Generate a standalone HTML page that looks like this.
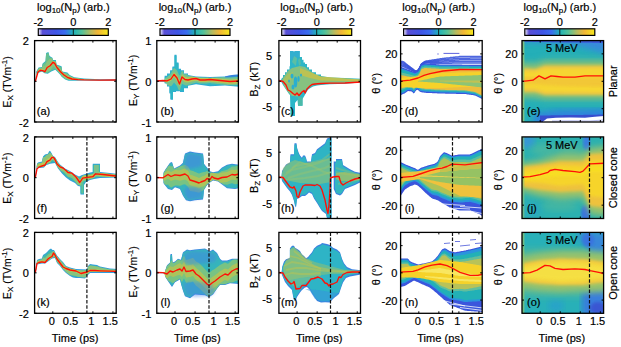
<!DOCTYPE html><html><head><meta charset="utf-8"><style>html,body{margin:0;padding:0;background:#fff;width:621px;height:347px;overflow:hidden}svg{display:block}text{font-family:"Liberation Sans",sans-serif;fill:#000;stroke:#000;stroke-width:0.2px}</style></head><body>
<svg width="621" height="347" viewBox="0 0 621 347">
<defs>
<linearGradient id="cmap" x1="0" x2="1" y1="0" y2="0"><stop offset="0" stop-color="#f4f2fb"/><stop offset="0.06" stop-color="#5a4fd6"/><stop offset="0.25" stop-color="#3f55e6"/><stop offset="0.38" stop-color="#3a6cf0"/><stop offset="0.5" stop-color="#1fb3b8"/><stop offset="0.62" stop-color="#52c29a"/><stop offset="0.75" stop-color="#b8bb5e"/><stop offset="0.85" stop-color="#f2b637"/><stop offset="1" stop-color="#f6e91c"/></linearGradient>
<clipPath id="cp00"><rect x="34.60" y="40.60" width="81.60" height="81.40"/></clipPath>
<clipPath id="cp01"><rect x="34.60" y="136.90" width="81.60" height="81.60"/></clipPath>
<clipPath id="cp02"><rect x="34.60" y="232.40" width="81.60" height="80.90"/></clipPath>
<clipPath id="cp10"><rect x="156.80" y="40.60" width="81.60" height="81.40"/></clipPath>
<clipPath id="cp11"><rect x="156.80" y="136.90" width="81.60" height="81.60"/></clipPath>
<clipPath id="cp12"><rect x="156.80" y="232.40" width="81.60" height="80.90"/></clipPath>
<clipPath id="cp20"><rect x="278.90" y="40.60" width="81.60" height="81.40"/></clipPath>
<clipPath id="cp21"><rect x="278.90" y="136.90" width="81.60" height="81.60"/></clipPath>
<clipPath id="cp22"><rect x="278.90" y="232.40" width="81.60" height="80.90"/></clipPath>
<clipPath id="cp30"><rect x="400.60" y="40.60" width="81.60" height="81.40"/></clipPath>
<clipPath id="cp31"><rect x="400.60" y="136.90" width="81.60" height="81.60"/></clipPath>
<clipPath id="cp32"><rect x="400.60" y="232.40" width="81.60" height="80.90"/></clipPath>
<clipPath id="cp40"><rect x="522.00" y="40.60" width="81.60" height="81.40"/></clipPath>
<clipPath id="cp41"><rect x="522.00" y="136.90" width="81.60" height="81.60"/></clipPath>
<clipPath id="cp42"><rect x="522.00" y="232.40" width="81.60" height="80.90"/></clipPath>
<filter id="bl" x="-5%" y="-5%" width="110%" height="110%"><feGaussianBlur stdDeviation="0.5"/></filter><filter id="blt" x="-5%" y="-5%" width="110%" height="110%"><feGaussianBlur stdDeviation="0.9"/></filter><filter id="bl2" x="-10%" y="-10%" width="120%" height="120%"><feGaussianBlur stdDeviation="1.5"/></filter><filter id="bl3" x="-10%" y="-10%" width="120%" height="120%"><feGaussianBlur stdDeviation="3"/></filter>
</defs>
<rect x="38.30" y="28.8" width="70.00" height="6.6" fill="url(#cmap)" stroke="#000" stroke-width="1.2"/>
<line x1="73.30" y1="28.8" x2="73.30" y2="35.4" stroke="#111" stroke-width="0.9"/>
<text x="38.30" y="25.60" font-size="11" text-anchor="middle" >-2</text>
<text x="73.30" y="25.60" font-size="11" text-anchor="middle" >0</text>
<text x="108.30" y="25.60" font-size="11" text-anchor="middle" >2</text>
<text x="73.30" y="10.9" font-size="11" text-anchor="middle">log<tspan font-size="8" dy="2">10</tspan><tspan dy="-2">(N</tspan><tspan font-size="8" dy="2">p</tspan><tspan dy="-2">) (arb.)</tspan></text>
<rect x="160.00" y="28.8" width="70.00" height="6.6" fill="url(#cmap)" stroke="#000" stroke-width="1.2"/>
<line x1="195.00" y1="28.8" x2="195.00" y2="35.4" stroke="#111" stroke-width="0.9"/>
<text x="160.00" y="25.60" font-size="11" text-anchor="middle" >-2</text>
<text x="195.00" y="25.60" font-size="11" text-anchor="middle" >0</text>
<text x="230.00" y="25.60" font-size="11" text-anchor="middle" >2</text>
<text x="195.00" y="10.9" font-size="11" text-anchor="middle">log<tspan font-size="8" dy="2">10</tspan><tspan dy="-2">(N</tspan><tspan font-size="8" dy="2">p</tspan><tspan dy="-2">) (arb.)</tspan></text>
<rect x="281.70" y="28.8" width="70.00" height="6.6" fill="url(#cmap)" stroke="#000" stroke-width="1.2"/>
<line x1="316.70" y1="28.8" x2="316.70" y2="35.4" stroke="#111" stroke-width="0.9"/>
<text x="281.70" y="25.60" font-size="11" text-anchor="middle" >-2</text>
<text x="316.70" y="25.60" font-size="11" text-anchor="middle" >0</text>
<text x="351.70" y="25.60" font-size="11" text-anchor="middle" >2</text>
<text x="316.70" y="10.9" font-size="11" text-anchor="middle">log<tspan font-size="8" dy="2">10</tspan><tspan dy="-2">(N</tspan><tspan font-size="8" dy="2">p</tspan><tspan dy="-2">) (arb.)</tspan></text>
<rect x="403.60" y="28.8" width="70.00" height="6.6" fill="url(#cmap)" stroke="#000" stroke-width="1.2"/>
<line x1="438.60" y1="28.8" x2="438.60" y2="35.4" stroke="#111" stroke-width="0.9"/>
<text x="403.60" y="25.60" font-size="11" text-anchor="middle" >-2</text>
<text x="438.60" y="25.60" font-size="11" text-anchor="middle" >0</text>
<text x="473.60" y="25.60" font-size="11" text-anchor="middle" >2</text>
<text x="438.60" y="10.9" font-size="11" text-anchor="middle">log<tspan font-size="8" dy="2">10</tspan><tspan dy="-2">(N</tspan><tspan font-size="8" dy="2">p</tspan><tspan dy="-2">) (arb.)</tspan></text>
<rect x="524.80" y="28.8" width="70.00" height="6.6" fill="url(#cmap)" stroke="#000" stroke-width="1.2"/>
<line x1="559.80" y1="28.8" x2="559.80" y2="35.4" stroke="#111" stroke-width="0.9"/>
<text x="524.80" y="25.60" font-size="11" text-anchor="middle" >-2</text>
<text x="559.80" y="25.60" font-size="11" text-anchor="middle" >0</text>
<text x="594.80" y="25.60" font-size="11" text-anchor="middle" >2</text>
<text x="559.80" y="10.9" font-size="11" text-anchor="middle">log<tspan font-size="8" dy="2">10</tspan><tspan dy="-2">(N</tspan><tspan font-size="8" dy="2">p</tspan><tspan dy="-2">) (arb.)</tspan></text>
<g clip-path="url(#cp00)">
<g filter="url(#bl)"><polygon points="35.5,80.5 36.3,71.5 38.6,67.5 42.0,66.9 42.6,63.4 45.5,61.0 46.1,53.0 48.4,51.9 49.5,56.0 52.4,57.7 53.0,60.0 55.9,60.0 56.5,64.6 61.6,66.3 62.2,71.5 67.4,72.6 69.7,75.0 74.3,77.3 84.0,78.4 100.0,79.2 118.0,79.2 118.0,80.8 100.0,80.8 84.0,80.6 74.3,80.7 68.6,80.7 65.1,79.6 61.6,76.7 60.0,74.4 57.6,72.0 55.3,69.8 51.3,71.5 47.8,73.8 44.4,73.2 42.0,71.5 36.3,73.8 35.5,81.5" fill="#2fb4c8"/><polygon points="35.5,81.4 36.3,72.4 38.6,68.4 42.0,67.8 42.6,64.3 45.5,61.9 46.1,53.9 48.4,52.8 49.5,56.9 52.4,58.6 53.0,60.9 55.9,60.9 56.5,65.5 61.6,67.2 62.2,72.4 67.4,73.5 69.7,75.9 74.3,78.2 84.0,79.3 100.0,80.1 118.0,80.1 118.0,79.9 100.0,79.9 84.0,79.7 74.3,79.8 68.6,79.8 65.1,78.7 61.6,75.8 60.0,73.5 57.6,71.1 55.3,68.9 51.3,70.6 47.8,72.9 44.4,72.3 42.0,70.6 36.3,72.9 35.5,80.6" fill="#66c090"/><polygon points="36.0,75.8 37.0,71.3 38.0,69.4 39.0,68.3 40.0,68.2 41.0,68.0 42.0,67.8 43.0,65.4 44.0,65.7 45.0,65.7 46.0,63.7 47.0,61.6 48.0,60.5 49.0,59.6 50.0,58.8 51.0,58.3 52.0,58.4 53.0,60.9 54.0,60.9 55.0,60.9 56.0,62.7 57.0,65.7 58.0,66.0 59.0,67.0 60.0,68.2 61.0,69.3 62.0,70.7 63.0,72.6 64.0,72.8 65.0,73.0 66.0,73.6 67.0,74.3 68.0,74.8 69.0,75.2 70.0,76.1 71.0,76.6 72.0,77.1 73.0,77.6 74.0,78.1 75.0,78.3 76.0,78.4 77.0,78.5 78.0,78.6 79.0,78.7 80.0,78.8 81.0,79.0 82.0,79.1 83.0,79.2 84.0,79.3 85.0,79.4 86.0,79.4 87.0,79.5 88.0,79.5 89.0,79.6 90.0,79.6 91.0,79.7 92.0,79.7 93.0,79.8 94.0,79.8 95.0,79.9 96.0,79.9 97.0,80.0 98.0,80.0 99.0,80.1 100.0,80.1 101.0,80.1 102.0,80.1 103.0,80.1 104.0,80.1 105.0,80.1 106.0,80.1 107.0,80.1 108.0,80.1 109.0,80.1 110.0,80.1 111.0,80.1 112.0,80.1 113.0,80.1 114.0,80.1 115.0,80.1 116.0,80.1 117.0,80.1 118.0,80.1 118.0,79.9 117.0,79.9 116.0,79.9 115.0,79.9 114.0,79.9 113.0,79.9 112.0,79.9 111.0,79.9 110.0,79.9 109.0,79.9 108.0,79.9 107.0,79.9 106.0,79.9 105.0,79.9 104.0,79.9 103.0,79.9 102.0,79.9 101.0,79.9 100.0,79.9 99.0,79.9 98.0,79.9 97.0,79.9 96.0,79.8 95.0,79.8 94.0,79.8 93.0,79.8 92.0,79.8 91.0,79.8 90.0,79.8 89.0,79.8 88.0,79.7 87.0,79.7 86.0,79.7 85.0,79.7 84.0,79.7 83.0,79.7 82.0,79.7 81.0,79.7 80.0,79.7 79.0,79.8 78.0,79.8 77.0,79.8 76.0,79.8 75.0,79.8 74.0,79.8 73.0,79.8 72.0,79.8 71.0,79.8 70.0,79.8 69.0,79.8 68.0,79.6 67.0,79.3 66.0,79.0 65.0,78.6 64.0,77.8 63.0,77.0 62.0,76.1 61.0,74.9 60.0,73.5 59.0,72.5 58.0,71.5 57.0,70.5 56.0,69.0 55.0,67.5 54.0,66.8 53.0,66.4 52.0,67.9 51.0,69.4 50.0,70.8 49.0,71.2 48.0,71.6 47.0,72.2 46.0,72.6 45.0,72.4 44.0,72.0 43.0,71.3 42.0,70.6 41.0,71.0 40.0,71.4 39.0,71.8 38.0,72.2 37.0,72.6 36.0,75.8" fill="#8cc47a" opacity="0.95"/><polygon points="36.0,77.5 37.0,74.0 38.0,70.5 39.0,69.8 40.0,69.0 41.0,68.9 42.0,69.1 43.0,69.3 44.0,69.8 45.0,70.1 46.0,68.3 47.0,66.4 48.0,65.6 49.0,65.0 50.0,64.3 51.0,63.2 52.0,62.1 53.0,60.9 54.0,61.6 55.0,62.6 56.0,64.3 57.0,66.1 58.0,67.3 59.0,68.5 60.0,69.7 61.0,70.8 62.0,71.8 63.0,72.7 64.0,73.7 65.0,74.4 66.0,75.0 67.0,75.7 68.0,76.2 69.0,76.6 70.0,77.0 71.0,77.3 72.0,77.7 73.0,77.8 74.0,78.1 75.0,78.3 76.0,78.4 77.0,78.5 78.0,78.6 79.0,78.7 80.0,78.8 81.0,79.0 82.0,79.1 83.0,79.2 84.0,79.3 85.0,79.4 86.0,79.4 87.0,79.5 88.0,79.5 89.0,79.6 90.0,79.6 91.0,79.7 92.0,79.7 93.0,79.8 94.0,79.8 95.0,79.9 96.0,79.9 97.0,80.0 98.0,80.0 99.0,80.1 100.0,80.1 101.0,80.1 102.0,80.1 103.0,80.1 104.0,80.1 105.0,80.1 106.0,80.1 107.0,80.1 108.0,80.1 109.0,80.1 110.0,80.1 111.0,80.1 112.0,80.1 113.0,80.1 114.0,80.1 115.0,80.1 116.0,80.1 117.0,80.1 118.0,80.1 118.0,79.9 117.0,79.9 116.0,79.9 115.0,79.9 114.0,79.9 113.0,79.9 112.0,79.9 111.0,79.9 110.0,79.9 109.0,79.9 108.0,79.9 107.0,79.9 106.0,79.9 105.0,79.9 104.0,79.9 103.0,79.9 102.0,79.9 101.0,79.9 100.0,79.9 99.0,79.9 98.0,79.9 97.0,79.9 96.0,79.8 95.0,79.8 94.0,79.8 93.0,79.8 92.0,79.8 91.0,79.8 90.0,79.8 89.0,79.8 88.0,79.7 87.0,79.7 86.0,79.7 85.0,79.7 84.0,79.7 83.0,79.7 82.0,79.7 81.0,79.7 80.0,79.7 79.0,79.8 78.0,79.8 77.0,79.8 76.0,79.8 75.0,79.8 74.0,79.8 73.0,79.8 72.0,79.8 71.0,79.8 70.0,79.5 69.0,79.1 68.0,78.7 67.0,78.3 66.0,77.6 65.0,76.9 64.0,76.3 63.0,75.3 62.0,74.4 61.0,73.5 60.0,72.4 59.0,71.2 58.0,70.0 57.0,68.8 56.0,67.0 55.0,65.3 54.0,64.3 53.0,63.7 52.0,64.8 51.0,66.0 50.0,67.1 49.0,67.8 48.0,68.4 47.0,69.3 46.0,71.1 45.0,72.4 44.0,72.0 43.0,71.3 42.0,70.6 41.0,71.0 40.0,71.4 39.0,71.8 38.0,72.2 37.0,72.6 36.0,75.8" fill="#c4c44c" opacity="0.9"/></g><polyline points="35.3,81.5 38.0,72.0 40.3,70.3 42.6,70.6 44.9,71.7 47.2,67.5 50.1,65.7 53.0,62.3 54.7,63.4 57.0,67.5 60.5,71.7 64.0,75.0 67.4,77.3 72.0,79.0 77.8,79.6 84.0,79.9 100.0,80.1 118.0,80.0" fill="none" stroke="#ff1006" stroke-width="1.35" stroke-linejoin="round"/>
</g>
<rect x="34.60" y="40.60" width="81.60" height="81.40" fill="none" stroke="#000" stroke-width="1.3"/>
<line x1="52.80" y1="40.60" x2="52.80" y2="42.60" stroke="#000" stroke-width="1"/>
<line x1="52.80" y1="122.00" x2="52.80" y2="120.00" stroke="#000" stroke-width="1"/>
<line x1="72.85" y1="40.60" x2="72.85" y2="42.60" stroke="#000" stroke-width="1"/>
<line x1="72.85" y1="122.00" x2="72.85" y2="120.00" stroke="#000" stroke-width="1"/>
<line x1="92.90" y1="40.60" x2="92.90" y2="42.60" stroke="#000" stroke-width="1"/>
<line x1="92.90" y1="122.00" x2="92.90" y2="120.00" stroke="#000" stroke-width="1"/>
<line x1="112.95" y1="40.60" x2="112.95" y2="42.60" stroke="#000" stroke-width="1"/>
<line x1="112.95" y1="122.00" x2="112.95" y2="120.00" stroke="#000" stroke-width="1"/>
<line x1="34.60" y1="40.60" x2="36.60" y2="40.60" stroke="#000" stroke-width="1"/>
<line x1="116.20" y1="40.60" x2="114.20" y2="40.60" stroke="#000" stroke-width="1"/>
<text x="28.80" y="45.20" font-size="11" text-anchor="end" >2</text>
<line x1="34.60" y1="81.30" x2="36.60" y2="81.30" stroke="#000" stroke-width="1"/>
<line x1="116.20" y1="81.30" x2="114.20" y2="81.30" stroke="#000" stroke-width="1"/>
<line x1="34.60" y1="122.00" x2="36.60" y2="122.00" stroke="#000" stroke-width="1"/>
<line x1="116.20" y1="122.00" x2="114.20" y2="122.00" stroke="#000" stroke-width="1"/>
<text x="28.80" y="126.60" font-size="11" text-anchor="end" >-2</text>
<text x="36.80" y="115.10" font-size="11" text-anchor="start" >(a)</text>
<text x="0" y="0" font-size="10.4" text-anchor="middle" style="stroke-width:0.15px" transform="translate(11.00,81.80) rotate(-90)">E<tspan font-size="8" dy="2">X</tspan><tspan dy="-2"> (TVm</tspan><tspan font-size="8" dy="-4">-1</tspan><tspan dy="4">)</tspan></text>
<g clip-path="url(#cp01)">
<g filter="url(#bl)"><polygon points="35.6,176.0 37.0,163.8 38.0,162.4 42.0,161.6 43.0,156.6 45.0,154.4 48.0,153.7 49.0,151.5 50.0,150.8 51.5,153.0 53.0,155.9 55.0,157.0 58.0,162.0 60.0,164.5 65.0,168.5 70.0,171.0 75.0,174.5 79.0,176.5 82.0,175.0 87.0,173.5 90.0,172.5 92.8,172.0 92.8,163.7 100.0,163.7 100.0,172.0 105.0,172.5 110.0,173.0 118.0,174.0 118.0,177.5 110.0,177.8 100.0,178.0 94.0,179.0 90.0,180.0 86.0,182.0 84.0,185.0 84.0,194.5 80.5,194.5 80.5,186.5 78.0,186.0 75.0,183.0 70.0,180.5 66.0,177.5 62.0,173.5 60.0,171.0 58.0,168.5 55.0,163.0 50.0,163.8 46.0,165.3 44.0,167.4 40.0,168.1 37.0,167.4 35.6,178.0" fill="#2f9ee0"/><polygon points="35.6,176.9 37.0,164.7 38.0,163.3 42.0,162.5 43.0,157.5 45.0,155.3 48.0,154.6 49.0,152.4 50.0,151.7 51.5,153.9 53.0,156.8 55.0,157.9 58.0,162.9 60.0,165.4 65.0,169.4 70.0,171.9 75.0,175.4 79.0,177.4 82.0,175.9 87.0,174.4 90.0,173.4 92.8,172.9 92.8,164.6 100.0,164.6 100.0,172.9 105.0,173.4 110.0,173.9 118.0,174.9 118.0,176.6 110.0,176.9 100.0,177.1 94.0,178.1 90.0,179.1 86.0,181.1 84.0,184.1 84.0,193.6 80.5,193.6 80.5,185.6 78.0,185.1 75.0,182.1 70.0,179.6 66.0,176.6 62.0,172.6 60.0,170.1 58.0,167.6 55.0,162.1 50.0,162.9 46.0,164.4 44.0,166.5 40.0,167.2 37.0,166.5 35.6,177.1" fill="#37b8b4"/><polygon points="36.0,173.4 37.0,164.7 38.0,163.3 39.0,163.1 40.0,162.9 41.0,162.7 42.0,162.5 43.0,157.5 44.0,157.0 45.0,156.9 46.0,155.5 47.0,154.8 48.0,154.6 49.0,153.4 50.0,153.0 51.0,153.2 52.0,154.9 53.0,156.8 54.0,157.3 55.0,157.9 56.0,159.6 57.0,161.5 58.0,162.9 59.0,164.2 60.0,165.4 61.0,166.2 62.0,167.0 63.0,167.8 64.0,168.6 65.0,169.4 66.0,169.9 67.0,170.4 68.0,170.9 69.0,171.4 70.0,171.9 71.0,172.6 72.0,173.3 73.0,174.0 74.0,174.7 75.0,175.4 76.0,175.9 77.0,176.4 78.0,177.4 79.0,178.8 80.0,179.7 81.0,178.2 82.0,176.6 83.0,175.6 84.0,175.3 85.0,175.2 86.0,175.0 87.0,174.8 88.0,174.7 89.0,174.5 90.0,174.4 91.0,174.3 92.0,174.1 93.0,173.8 94.0,172.8 95.0,171.7 96.0,171.1 97.0,171.2 98.0,171.3 99.0,171.4 100.0,172.9 101.0,173.0 102.0,173.1 103.0,173.2 104.0,173.3 105.0,173.4 106.0,173.5 107.0,173.6 108.0,173.7 109.0,173.8 110.0,173.9 111.0,174.0 112.0,174.2 113.0,174.3 114.0,174.4 115.0,174.5 116.0,174.7 117.0,174.8 118.0,174.9 118.0,176.6 117.0,176.6 116.0,176.7 115.0,176.7 114.0,176.8 113.0,176.8 112.0,176.8 111.0,176.9 110.0,176.9 109.0,176.9 108.0,176.9 107.0,177.0 106.0,177.0 105.0,177.0 104.0,177.0 103.0,177.0 102.0,176.9 101.0,176.8 100.0,176.8 99.0,176.7 98.0,176.6 97.0,176.6 96.0,176.5 95.0,177.1 94.0,178.1 93.0,178.3 92.0,178.6 91.0,178.8 90.0,179.1 89.0,179.6 88.0,180.1 87.0,180.3 86.0,180.5 85.0,180.7 84.0,180.9 83.0,181.8 82.0,183.7 81.0,185.9 80.0,185.5 79.0,185.3 78.0,185.1 77.0,184.0 76.0,182.4 75.0,181.3 74.0,180.2 73.0,179.1 72.0,178.0 71.0,177.7 70.0,177.3 69.0,177.1 68.0,176.8 67.0,175.7 66.0,174.5 65.0,173.6 64.0,172.6 63.0,171.7 62.0,171.2 61.0,170.7 60.0,170.1 59.0,168.8 58.0,167.6 57.0,165.8 56.0,163.9 55.0,162.1 54.0,161.0 53.0,160.3 52.0,160.3 51.0,161.7 50.0,162.9 49.0,163.3 48.0,163.7 47.0,164.0 46.0,164.4 45.0,165.5 44.0,166.5 43.0,166.7 42.0,166.8 41.0,167.0 40.0,167.2 39.0,167.0 38.0,166.7 37.0,166.5 36.0,174.1" fill="#8cc47a" opacity="0.95"/><polygon points="36.0,173.4 37.0,165.8 38.0,165.0 39.0,164.3 40.0,163.7 41.0,163.4 42.0,163.1 43.0,162.8 44.0,162.5 45.0,162.2 46.0,160.5 47.0,158.9 48.0,158.4 49.0,157.8 50.0,157.3 51.0,155.9 52.0,154.9 53.0,156.8 54.0,157.3 55.0,157.9 56.0,159.6 57.0,161.4 58.0,162.9 59.0,164.2 60.0,165.4 61.0,166.2 62.0,167.0 63.0,167.8 64.0,168.6 65.0,169.4 66.0,169.9 67.0,170.4 68.0,170.9 69.0,171.4 70.0,171.9 71.0,172.6 72.0,173.3 73.0,174.0 74.0,174.7 75.0,175.4 76.0,175.9 77.0,176.4 78.0,177.7 79.0,179.1 80.0,180.0 81.0,178.5 82.0,177.0 83.0,175.9 84.0,175.8 85.0,175.6 86.0,175.5 87.0,175.3 88.0,175.2 89.0,175.1 90.0,175.0 91.0,174.9 92.0,174.8 93.0,174.5 94.0,173.5 95.0,172.5 96.0,171.9 97.0,172.1 98.0,172.2 99.0,172.3 100.0,172.9 101.0,173.0 102.0,173.1 103.0,173.2 104.0,173.3 105.0,173.4 106.0,173.5 107.0,173.6 108.0,173.7 109.0,173.8 110.0,173.9 111.0,174.0 112.0,174.2 113.0,174.3 114.0,174.4 115.0,174.5 116.0,174.7 117.0,174.8 118.0,174.9 118.0,176.6 117.0,176.6 116.0,176.7 115.0,176.7 114.0,176.8 113.0,176.8 112.0,176.8 111.0,176.9 110.0,176.8 109.0,176.7 108.0,176.6 107.0,176.5 106.0,176.4 105.0,176.2 104.0,176.1 103.0,176.0 102.0,175.9 101.0,175.8 100.0,175.7 99.0,175.6 98.0,175.5 97.0,175.4 96.0,175.3 95.0,175.9 94.0,177.0 93.0,178.0 92.0,178.3 91.0,178.4 90.0,178.5 89.0,178.7 88.0,178.8 87.0,178.9 86.0,179.1 85.0,179.2 84.0,179.4 83.0,179.6 82.0,180.7 81.0,182.2 80.0,183.7 79.0,182.8 78.0,181.4 77.0,179.9 76.0,178.5 75.0,177.6 74.0,176.6 73.0,175.6 72.0,174.7 71.0,174.5 70.0,174.3 69.0,174.2 68.0,174.0 67.0,173.0 66.0,172.0 65.0,171.2 64.0,170.3 63.0,169.5 62.0,169.1 61.0,168.7 60.0,168.3 59.0,167.4 58.0,166.4 57.0,165.5 56.0,163.2 55.0,161.0 54.0,159.5 53.0,158.8 52.0,158.8 51.0,160.2 50.0,161.5 49.0,162.1 48.0,162.6 47.0,163.2 46.0,164.4 45.0,165.5 44.0,166.5 43.0,166.7 42.0,166.8 41.0,167.0 40.0,167.2 39.0,167.0 38.0,166.7 37.0,166.5 36.0,174.1" fill="#c4c44c" opacity="0.9"/><rect x="94" y="165" width="4.8" height="9" fill="#7cc28a"/><rect x="81.4" y="182" width="1.8" height="11.5" fill="#5fc09a"/></g><polyline points="35.3,177.5 37.0,168.8 39.5,166.8 42.0,166.0 45.0,165.0 47.0,161.7 50.0,160.0 52.0,157.3 53.5,157.3 55.0,159.5 57.0,164.0 60.0,166.8 63.0,168.0 66.0,170.5 68.0,172.5 72.0,173.2 76.0,177.0 79.8,182.5 82.7,178.1 87.0,177.4 92.8,176.7 95.6,173.8 102.9,174.5 115.8,176.0 118.0,176.0" fill="none" stroke="#ff1006" stroke-width="1.35" stroke-linejoin="round"/><line x1="86.9" y1="136.9" x2="86.9" y2="218.5" stroke="#111" stroke-width="1.2" stroke-dasharray="3.5,1.7"/>
</g>
<rect x="34.60" y="136.90" width="81.60" height="81.60" fill="none" stroke="#000" stroke-width="1.3"/>
<line x1="52.80" y1="136.90" x2="52.80" y2="138.90" stroke="#000" stroke-width="1"/>
<line x1="52.80" y1="218.50" x2="52.80" y2="216.50" stroke="#000" stroke-width="1"/>
<line x1="72.85" y1="136.90" x2="72.85" y2="138.90" stroke="#000" stroke-width="1"/>
<line x1="72.85" y1="218.50" x2="72.85" y2="216.50" stroke="#000" stroke-width="1"/>
<line x1="92.90" y1="136.90" x2="92.90" y2="138.90" stroke="#000" stroke-width="1"/>
<line x1="92.90" y1="218.50" x2="92.90" y2="216.50" stroke="#000" stroke-width="1"/>
<line x1="112.95" y1="136.90" x2="112.95" y2="138.90" stroke="#000" stroke-width="1"/>
<line x1="112.95" y1="218.50" x2="112.95" y2="216.50" stroke="#000" stroke-width="1"/>
<line x1="34.60" y1="136.90" x2="36.60" y2="136.90" stroke="#000" stroke-width="1"/>
<line x1="116.20" y1="136.90" x2="114.20" y2="136.90" stroke="#000" stroke-width="1"/>
<text x="28.80" y="141.50" font-size="11" text-anchor="end" >2</text>
<line x1="34.60" y1="177.70" x2="36.60" y2="177.70" stroke="#000" stroke-width="1"/>
<line x1="116.20" y1="177.70" x2="114.20" y2="177.70" stroke="#000" stroke-width="1"/>
<text x="28.80" y="182.30" font-size="11" text-anchor="end" >0</text>
<line x1="34.60" y1="218.50" x2="36.60" y2="218.50" stroke="#000" stroke-width="1"/>
<line x1="116.20" y1="218.50" x2="114.20" y2="218.50" stroke="#000" stroke-width="1"/>
<text x="28.80" y="223.10" font-size="11" text-anchor="end" >-2</text>
<text x="36.80" y="211.60" font-size="11" text-anchor="start" >(f)</text>
<text x="0" y="0" font-size="10.4" text-anchor="middle" style="stroke-width:0.15px" transform="translate(11.00,178.20) rotate(-90)">E<tspan font-size="8" dy="2">X</tspan><tspan dy="-2"> (TVm</tspan><tspan font-size="8" dy="-4">-1</tspan><tspan dy="4">)</tspan></text>
<g clip-path="url(#cp02)">
<g filter="url(#bl)"><polygon points="35.6,272.0 37.0,260.0 39.0,259.0 42.0,258.5 43.0,255.0 46.0,253.0 48.0,251.0 49.0,249.8 51.0,248.5 52.5,250.0 54.0,250.0 55.0,252.0 57.0,255.5 60.0,259.0 63.0,262.0 66.0,266.0 70.0,267.5 76.0,269.0 87.0,269.5 88.0,266.0 90.0,264.0 93.0,264.5 97.0,265.0 100.0,266.5 105.0,267.5 110.0,268.5 118.0,269.0 118.0,273.0 100.0,273.0 90.0,273.0 87.0,276.0 85.0,278.5 80.0,278.0 76.0,278.0 73.0,277.5 70.0,276.0 66.0,273.0 63.0,270.0 60.0,266.0 57.0,263.0 55.0,258.0 52.0,258.5 48.0,261.5 45.0,263.5 42.0,263.5 37.0,264.5 35.6,273.5" fill="#2f9ee0"/><polygon points="35.6,272.9 37.0,260.9 39.0,259.9 42.0,259.4 43.0,255.9 46.0,253.9 48.0,251.9 49.0,250.7 51.0,249.4 52.5,250.9 54.0,250.9 55.0,252.9 57.0,256.4 60.0,259.9 63.0,262.9 66.0,266.9 70.0,268.4 76.0,269.9 87.0,270.4 88.0,266.9 90.0,264.9 93.0,265.4 97.0,265.9 100.0,267.4 105.0,268.4 110.0,269.4 118.0,269.9 118.0,272.1 100.0,272.1 90.0,272.1 87.0,275.1 85.0,277.6 80.0,277.1 76.0,277.1 73.0,276.6 70.0,275.1 66.0,272.1 63.0,269.1 60.0,265.1 57.0,262.1 55.0,257.1 52.0,257.6 48.0,260.6 45.0,262.6 42.0,262.6 37.0,263.6 35.6,272.6" fill="#3cb8b0"/><polygon points="36.0,269.5 37.0,260.9 38.0,260.4 39.0,259.9 40.0,259.7 41.0,259.6 42.0,259.4 43.0,257.4 44.0,257.6 45.0,257.9 46.0,256.8 47.0,255.7 48.0,254.6 49.0,253.9 50.0,253.2 51.0,252.7 52.0,252.3 53.0,250.9 54.0,250.9 55.0,252.9 56.0,254.7 57.0,256.4 58.0,257.6 59.0,258.7 60.0,259.9 61.0,260.9 62.0,262.1 63.0,263.5 64.0,264.2 65.0,265.6 66.0,266.9 67.0,267.3 68.0,267.6 69.0,268.0 70.0,268.4 71.0,268.6 72.0,268.9 73.0,269.1 74.0,269.4 75.0,269.6 76.0,269.9 77.0,269.9 78.0,270.0 79.0,270.0 80.0,270.1 81.0,270.1 82.0,270.2 83.0,270.2 84.0,270.3 85.0,270.3 86.0,270.4 87.0,270.4 88.0,266.9 89.0,266.1 90.0,265.5 91.0,265.6 92.0,265.7 93.0,265.8 94.0,265.9 95.0,266.0 96.0,266.2 97.0,266.4 98.0,266.5 99.0,266.9 100.0,267.4 101.0,267.6 102.0,267.8 103.0,268.0 104.0,268.2 105.0,268.4 106.0,268.6 107.0,268.8 108.0,269.0 109.0,269.2 110.0,269.4 111.0,269.5 112.0,269.5 113.0,269.6 114.0,269.6 115.0,269.7 116.0,269.8 117.0,269.8 118.0,269.9 118.0,272.1 117.0,272.1 116.0,272.1 115.0,272.1 114.0,272.1 113.0,272.1 112.0,272.1 111.0,272.1 110.0,272.1 109.0,272.1 108.0,272.1 107.0,272.1 106.0,272.1 105.0,272.1 104.0,272.1 103.0,272.1 102.0,272.1 101.0,272.1 100.0,272.1 99.0,272.1 98.0,272.1 97.0,272.1 96.0,272.1 95.0,272.1 94.0,272.1 93.0,272.1 92.0,272.1 91.0,272.1 90.0,272.1 89.0,273.1 88.0,274.1 87.0,275.1 86.0,276.4 85.0,277.5 84.0,277.5 83.0,277.4 82.0,277.3 81.0,277.2 80.0,277.1 79.0,277.1 78.0,277.0 77.0,276.5 76.0,276.0 75.0,275.8 74.0,275.7 73.0,275.5 72.0,275.3 71.0,275.2 70.0,275.0 69.0,274.4 68.0,273.6 67.0,272.9 66.0,272.1 65.0,271.1 64.0,270.1 63.0,269.1 62.0,267.8 61.0,266.4 60.0,265.1 59.0,264.1 58.0,263.1 57.0,262.1 56.0,259.6 55.0,257.1 54.0,257.3 53.0,257.4 52.0,257.6 51.0,258.4 50.0,259.1 49.0,259.9 48.0,260.6 47.0,261.3 46.0,261.9 45.0,262.6 44.0,262.6 43.0,262.6 42.0,262.6 41.0,262.8 40.0,263.0 39.0,263.2 38.0,263.4 37.0,263.6 36.0,270.0" fill="#8cc47a" opacity="0.95"/><polygon points="36.0,269.5 37.0,262.0 38.0,261.5 39.0,261.0 40.0,260.8 41.0,260.6 42.0,260.3 43.0,260.6 44.0,260.8 45.0,261.1 46.0,259.9 47.0,258.7 48.0,257.6 49.0,256.8 50.0,256.1 51.0,255.6 52.0,255.1 53.0,252.8 54.0,252.3 55.0,253.6 56.0,255.6 57.0,257.6 58.0,259.0 59.0,260.3 60.0,261.6 61.0,263.0 62.0,264.3 63.0,265.7 64.0,266.2 65.0,266.7 66.0,267.2 67.0,267.6 68.0,267.9 69.0,268.3 70.0,268.7 71.0,268.9 72.0,269.1 73.0,269.2 74.0,269.4 75.0,269.6 76.0,269.9 77.0,270.2 78.0,270.8 79.0,271.3 80.0,271.8 81.0,272.3 82.0,272.0 83.0,271.8 84.0,271.5 85.0,271.3 86.0,271.1 87.0,270.8 88.0,270.3 89.0,269.8 90.0,269.3 91.0,269.3 92.0,269.3 93.0,269.3 94.0,269.4 95.0,269.4 96.0,269.4 97.0,269.5 98.0,269.6 99.0,269.6 100.0,269.7 101.0,269.7 102.0,269.8 103.0,269.8 104.0,269.9 105.0,269.9 106.0,270.0 107.0,270.0 108.0,270.1 109.0,270.1 110.0,270.2 111.0,270.2 112.0,270.2 113.0,270.3 114.0,270.3 115.0,270.4 116.0,270.4 117.0,270.5 118.0,270.5 118.0,272.1 117.0,272.1 116.0,272.1 115.0,272.1 114.0,272.1 113.0,272.1 112.0,272.1 111.0,272.1 110.0,272.1 109.0,272.1 108.0,272.1 107.0,272.1 106.0,272.1 105.0,272.1 104.0,272.0 103.0,272.0 102.0,272.0 101.0,271.9 100.0,271.9 99.0,271.9 98.0,271.8 97.0,271.7 96.0,271.7 95.0,271.6 94.0,271.6 93.0,271.7 92.0,271.7 91.0,271.7 90.0,271.7 89.0,272.2 88.0,272.7 87.0,273.2 86.0,273.4 85.0,273.7 84.0,274.0 83.0,274.2 82.0,274.5 81.0,274.7 80.0,274.2 79.0,273.7 78.0,273.2 77.0,272.8 76.0,272.3 75.0,272.1 74.0,271.9 73.0,271.8 72.0,271.6 71.0,271.5 70.0,271.3 69.0,270.9 68.0,270.6 67.0,270.2 66.0,269.8 65.0,269.3 64.0,268.8 63.0,268.3 62.0,267.0 61.0,265.7 60.0,264.4 59.0,263.0 58.0,261.7 57.0,260.4 56.0,258.4 55.0,256.4 54.0,255.1 53.0,255.6 52.0,257.6 51.0,258.4 50.0,258.9 49.0,259.7 48.0,260.4 47.0,261.3 46.0,261.9 45.0,262.6 44.0,262.6 43.0,262.6 42.0,262.6 41.0,262.8 40.0,263.0 39.0,263.2 38.0,263.4 37.0,263.6 36.0,270.0" fill="#c4c44c" opacity="0.9"/></g><polyline points="35.3,272.5 37.0,263.5 39.0,262.5 42.0,261.8 45.0,262.5 48.0,259.0 50.0,257.5 52.0,256.5 53.5,253.0 55.0,255.0 57.0,259.0 60.0,263.0 63.0,267.0 66.0,268.5 70.0,270.0 76.0,271.0 81.0,273.5 87.0,272.0 90.0,270.5 95.0,270.5 100.0,270.8 110.0,271.2 118.0,271.5" fill="none" stroke="#ff1006" stroke-width="1.35" stroke-linejoin="round"/><line x1="86.9" y1="232.4" x2="86.9" y2="313.3" stroke="#111" stroke-width="1.2" stroke-dasharray="3.5,1.7"/>
</g>
<rect x="34.60" y="232.40" width="81.60" height="80.90" fill="none" stroke="#000" stroke-width="1.3"/>
<line x1="52.80" y1="232.40" x2="52.80" y2="234.40" stroke="#000" stroke-width="1"/>
<line x1="52.80" y1="313.30" x2="52.80" y2="311.30" stroke="#000" stroke-width="1"/>
<line x1="72.85" y1="232.40" x2="72.85" y2="234.40" stroke="#000" stroke-width="1"/>
<line x1="72.85" y1="313.30" x2="72.85" y2="311.30" stroke="#000" stroke-width="1"/>
<line x1="92.90" y1="232.40" x2="92.90" y2="234.40" stroke="#000" stroke-width="1"/>
<line x1="92.90" y1="313.30" x2="92.90" y2="311.30" stroke="#000" stroke-width="1"/>
<line x1="112.95" y1="232.40" x2="112.95" y2="234.40" stroke="#000" stroke-width="1"/>
<line x1="112.95" y1="313.30" x2="112.95" y2="311.30" stroke="#000" stroke-width="1"/>
<line x1="34.60" y1="232.40" x2="36.60" y2="232.40" stroke="#000" stroke-width="1"/>
<line x1="116.20" y1="232.40" x2="114.20" y2="232.40" stroke="#000" stroke-width="1"/>
<text x="28.80" y="237.00" font-size="11" text-anchor="end" >2</text>
<line x1="34.60" y1="272.85" x2="36.60" y2="272.85" stroke="#000" stroke-width="1"/>
<line x1="116.20" y1="272.85" x2="114.20" y2="272.85" stroke="#000" stroke-width="1"/>
<text x="28.80" y="277.45" font-size="11" text-anchor="end" >0</text>
<line x1="34.60" y1="313.30" x2="36.60" y2="313.30" stroke="#000" stroke-width="1"/>
<line x1="116.20" y1="313.30" x2="114.20" y2="313.30" stroke="#000" stroke-width="1"/>
<text x="28.80" y="317.90" font-size="11" text-anchor="end" >-2</text>
<text x="36.80" y="306.40" font-size="11" text-anchor="start" >(k)</text>
<text x="0" y="0" font-size="10.4" text-anchor="middle" style="stroke-width:0.15px" transform="translate(11.00,273.35) rotate(-90)">E<tspan font-size="8" dy="2">X</tspan><tspan dy="-2"> (TVm</tspan><tspan font-size="8" dy="-4">-1</tspan><tspan dy="4">)</tspan></text>
<g clip-path="url(#cp10)">
<g filter="url(#bl)"><polygon points="157.0,80.6 164.7,80.2 164.7,75.7 167.0,75.7 167.0,73.4 170.1,73.4 170.1,70.2 172.5,70.2 172.5,66.4 174.5,66.4 174.5,54.7 176.5,54.7 176.5,62.5 178.5,62.5 178.5,68.7 181.0,68.7 181.0,70.2 184.0,70.2 184.0,73.4 188.0,73.4 188.0,74.9 196.0,76.5 210.0,77.1 225.0,76.4 232.0,75.1 239.0,74.5 239.0,86.8 225.0,85.5 210.0,86.2 196.0,84.3 188.0,85.8 188.0,88.2 184.0,88.2 184.0,92.0 180.0,92.0 180.0,91.3 176.0,91.3 176.0,92.0 173.0,92.0 173.0,99.8 170.5,99.8 170.5,93.6 169.5,93.6 169.5,86.6 167.0,86.6 167.0,83.5 164.7,83.5 164.7,81.8 157.0,81.4" fill="#2fa8d8"/><polygon points="157.0,81.4 164.7,81.0 164.7,76.5 167.0,76.5 167.0,74.2 170.1,74.2 170.1,71.0 172.5,71.0 172.5,67.2 174.5,67.2 174.5,55.5 176.5,55.5 176.5,63.3 178.5,63.3 178.5,69.5 181.0,69.5 181.0,71.0 184.0,71.0 184.0,74.2 188.0,74.2 188.0,75.7 196.0,77.3 210.0,77.9 225.0,77.2 232.0,75.9 239.0,75.3 239.0,86.0 225.0,84.7 210.0,85.4 196.0,83.5 188.0,85.0 188.0,87.4 184.0,87.4 184.0,91.2 180.0,91.2 180.0,90.5 176.0,90.5 176.0,91.2 173.0,91.2 173.0,99.0 170.5,99.0 170.5,92.8 169.5,92.8 169.5,85.8 167.0,85.8 167.0,82.7 164.7,82.7 164.7,81.0 157.0,80.6" fill="#2eb6c6"/><polygon points="164.0,81.0 165.0,78.2 166.0,77.7 167.0,77.3 168.0,76.3 169.0,75.4 170.0,74.5 171.0,73.5 172.0,71.5 173.0,69.7 174.0,67.8 175.0,68.7 176.0,69.5 177.0,70.3 178.0,72.4 179.0,75.1 180.0,75.3 181.0,72.8 182.0,71.0 183.0,71.5 184.0,74.2 185.0,74.2 186.0,74.2 187.0,74.3 188.0,75.7 189.0,75.9 190.0,76.1 191.0,76.3 192.0,76.5 193.0,76.7 194.0,76.9 195.0,77.1 196.0,77.3 197.0,77.3 198.0,77.4 199.0,77.4 200.0,77.5 201.0,77.5 202.0,77.6 203.0,77.6 204.0,77.6 205.0,77.7 206.0,77.7 207.0,77.8 208.0,77.8 209.0,77.9 210.0,77.9 211.0,77.9 212.0,77.8 213.0,77.8 214.0,77.7 215.0,77.7 216.0,77.6 217.0,77.6 218.0,77.5 219.0,77.5 220.0,77.4 221.0,77.4 222.0,77.3 223.0,77.3 224.0,77.2 225.0,77.2 226.0,77.3 227.0,77.4 228.0,77.4 229.0,77.5 230.0,77.6 231.0,77.5 232.0,77.5 233.0,77.4 234.0,77.3 235.0,77.3 236.0,77.2 237.0,77.1 238.0,77.1 239.0,77.0 239.0,85.0 238.0,85.0 237.0,85.1 236.0,85.1 235.0,85.2 234.0,85.2 233.0,85.3 232.0,85.3 231.0,85.3 230.0,85.2 229.0,85.1 228.0,85.0 227.0,84.9 226.0,84.8 225.0,84.7 224.0,84.7 223.0,84.6 222.0,84.5 221.0,84.4 220.0,84.3 219.0,84.1 218.0,84.0 217.0,83.9 216.0,83.8 215.0,83.7 214.0,83.6 213.0,83.5 212.0,83.4 211.0,83.2 210.0,83.1 209.0,83.2 208.0,83.3 207.0,83.4 206.0,83.5 205.0,83.6 204.0,83.6 203.0,83.5 202.0,83.5 201.0,83.5 200.0,83.5 199.0,83.3 198.0,83.1 197.0,82.8 196.0,82.6 195.0,82.9 194.0,83.2 193.0,83.5 192.0,83.8 191.0,84.2 190.0,84.6 189.0,84.8 188.0,85.0 187.0,85.4 186.0,85.4 185.0,85.3 184.0,84.7 183.0,84.2 182.0,83.7 181.0,86.8 180.0,89.9 179.0,90.5 178.0,88.4 177.0,86.0 176.0,84.8 175.0,83.7 174.0,82.5 173.0,84.0 172.0,85.5 171.0,86.2 170.0,86.0 169.0,85.7 168.0,85.3 167.0,85.0 166.0,82.7 165.0,82.7 164.0,81.0" fill="#7cc48a" opacity="0.9"/><polygon points="164.0,81.0 165.0,79.5 166.0,79.4 167.0,79.4 168.0,78.8 169.0,78.2 170.0,77.6 171.0,77.0 172.0,75.4 173.0,73.7 174.0,72.1 175.0,73.1 176.0,74.1 177.0,75.1 178.0,77.4 179.0,79.8 180.0,79.7 181.0,76.9 182.0,74.2 183.0,75.1 184.0,75.9 185.0,76.8 186.0,77.0 187.0,77.2 188.0,77.5 189.0,77.2 190.0,77.0 191.0,76.8 192.0,76.6 193.0,76.7 194.0,76.9 195.0,77.1 196.0,77.3 197.0,77.3 198.0,77.4 199.0,77.6 200.0,78.0 201.0,78.0 202.0,78.0 203.0,78.0 204.0,78.0 205.0,78.0 206.0,77.9 207.0,77.8 208.0,77.8 209.0,77.9 210.0,77.9 211.0,77.9 212.0,77.8 213.0,77.8 214.0,77.9 215.0,78.0 216.0,78.1 217.0,78.2 218.0,78.3 219.0,78.4 220.0,78.5 221.0,78.6 222.0,78.7 223.0,78.8 224.0,78.9 225.0,79.0 226.0,79.1 227.0,79.2 228.0,79.3 229.0,79.4 230.0,79.5 231.0,79.4 232.0,79.4 233.0,79.3 234.0,79.3 235.0,79.2 236.0,79.2 237.0,79.1 238.0,79.1 239.0,79.0 239.0,83.5 238.0,83.5 237.0,83.6 236.0,83.6 235.0,83.7 234.0,83.7 233.0,83.8 232.0,83.8 231.0,83.8 230.0,83.9 229.0,83.8 228.0,83.7 227.0,83.5 226.0,83.4 225.0,83.3 224.0,83.2 223.0,83.1 222.0,83.0 221.0,82.9 220.0,82.8 219.0,82.6 218.0,82.5 217.0,82.4 216.0,82.3 215.0,82.2 214.0,82.1 213.0,82.0 212.0,81.9 211.0,81.7 210.0,81.6 209.0,81.7 208.0,81.8 207.0,81.9 206.0,82.0 205.0,82.1 204.0,82.1 203.0,82.0 202.0,82.0 201.0,82.0 200.0,82.0 199.0,81.7 198.0,81.3 197.0,81.0 196.0,80.7 195.0,80.9 194.0,81.0 193.0,81.2 192.0,81.4 191.0,81.7 190.0,82.0 189.0,82.2 188.0,82.5 187.0,82.4 186.0,82.3 185.0,82.2 184.0,81.4 183.0,80.6 182.0,79.8 181.0,82.7 180.0,85.5 179.0,85.8 178.0,83.4 177.0,80.9 176.0,79.5 175.0,78.2 174.0,76.9 173.0,78.3 172.0,79.6 171.0,81.0 170.0,81.3 169.0,81.6 168.0,81.9 167.0,82.2 166.0,82.0 165.0,81.8 164.0,81.0" fill="#c4c44c" opacity="0.85"/><polygon points="225,76.2 232,75 239,74.4 239,76.5 225,77.5" fill="#3a70e0" opacity="0.7"/></g><polyline points="157.0,81.0 163.0,80.5 167.0,80.8 171.0,79.0 174.0,74.5 177.0,78.0 179.5,84.0 182.0,77.0 185.0,79.5 188.0,80.0 192.0,79.0 196.0,78.5 200.0,80.0 205.0,80.0 210.0,79.5 220.0,80.5 230.0,81.5 239.0,81.0" fill="none" stroke="#ff1006" stroke-width="1.35" stroke-linejoin="round"/>
</g>
<rect x="156.80" y="40.60" width="81.60" height="81.40" fill="none" stroke="#000" stroke-width="1.3"/>
<line x1="175.00" y1="40.60" x2="175.00" y2="42.60" stroke="#000" stroke-width="1"/>
<line x1="175.00" y1="122.00" x2="175.00" y2="120.00" stroke="#000" stroke-width="1"/>
<line x1="195.05" y1="40.60" x2="195.05" y2="42.60" stroke="#000" stroke-width="1"/>
<line x1="195.05" y1="122.00" x2="195.05" y2="120.00" stroke="#000" stroke-width="1"/>
<line x1="215.10" y1="40.60" x2="215.10" y2="42.60" stroke="#000" stroke-width="1"/>
<line x1="215.10" y1="122.00" x2="215.10" y2="120.00" stroke="#000" stroke-width="1"/>
<line x1="235.15" y1="40.60" x2="235.15" y2="42.60" stroke="#000" stroke-width="1"/>
<line x1="235.15" y1="122.00" x2="235.15" y2="120.00" stroke="#000" stroke-width="1"/>
<line x1="156.80" y1="40.60" x2="158.80" y2="40.60" stroke="#000" stroke-width="1"/>
<line x1="238.40" y1="40.60" x2="236.40" y2="40.60" stroke="#000" stroke-width="1"/>
<text x="151.30" y="45.20" font-size="11" text-anchor="end" >1</text>
<line x1="156.80" y1="81.30" x2="158.80" y2="81.30" stroke="#000" stroke-width="1"/>
<line x1="238.40" y1="81.30" x2="236.40" y2="81.30" stroke="#000" stroke-width="1"/>
<text x="151.30" y="85.90" font-size="11" text-anchor="end" >0</text>
<line x1="156.80" y1="122.00" x2="158.80" y2="122.00" stroke="#000" stroke-width="1"/>
<line x1="238.40" y1="122.00" x2="236.40" y2="122.00" stroke="#000" stroke-width="1"/>
<text x="151.30" y="126.60" font-size="11" text-anchor="end" >-1</text>
<text x="160.60" y="115.10" font-size="11" text-anchor="start" >(b)</text>
<text x="0" y="0" font-size="10.4" text-anchor="middle" style="stroke-width:0.15px" transform="translate(137.00,80.30) rotate(-90)">E<tspan font-size="8" dy="2">Y</tspan><tspan dy="-2"> (TVm</tspan><tspan font-size="8" dy="-4">-1</tspan><tspan dy="4">)</tspan></text>
<g clip-path="url(#cp11)">
<g filter="url(#bl)"><polygon points="157.0,177.2 163.6,177.0 163.6,172.2 166.0,168.5 170.0,162.8 172.0,161.9 174.0,168.5 180.0,165.6 183.0,162.8 185.0,153.4 190.0,151.6 195.0,152.5 203.0,153.4 204.0,163.8 207.0,167.5 210.0,171.3 213.0,172.2 218.0,171.3 222.0,167.5 227.0,164.7 232.0,163.8 239.0,164.7 239.0,188.2 235.0,189.1 227.0,188.2 222.0,184.4 218.0,181.6 213.0,180.6 210.0,182.5 207.0,185.3 204.0,190.0 203.0,199.4 195.0,200.3 190.0,201.3 186.0,200.3 183.0,195.7 180.0,189.1 175.0,187.2 172.0,190.0 168.0,189.1 163.6,183.5 163.6,178.0 157.0,177.8" fill="#3a88e2"/><polygon points="157.0,178.0 163.6,177.8 163.6,173.0 166.0,169.3 170.0,163.6 172.0,162.7 174.0,169.3 180.0,166.4 183.0,163.6 185.0,154.2 190.0,152.4 195.0,153.3 203.0,154.2 204.0,164.6 207.0,168.3 210.0,172.1 213.0,173.0 218.0,172.1 222.0,168.3 227.0,165.5 232.0,164.6 239.0,165.5 239.0,187.4 235.0,188.3 227.0,187.4 222.0,183.6 218.0,180.8 213.0,179.8 210.0,181.7 207.0,184.5 204.0,189.2 203.0,198.6 195.0,199.5 190.0,200.5 186.0,199.5 183.0,194.9 180.0,188.3 175.0,186.4 172.0,189.2 168.0,188.3 163.6,182.7 163.6,177.2 157.0,177.0" fill="#36b4bc"/><polygon points="160.0,177.9 161.0,177.9 162.0,177.8 163.0,177.8 164.0,172.4 165.0,170.8 166.0,169.3 167.0,167.9 168.0,166.5 169.0,165.6 170.0,165.8 171.0,166.6 172.0,166.2 173.0,166.0 174.0,169.3 175.0,168.8 176.0,168.3 177.0,167.9 178.0,167.4 179.0,166.9 180.0,166.4 181.0,166.0 182.0,165.8 183.0,165.6 184.0,165.2 185.0,164.7 186.0,165.2 187.0,165.8 188.0,166.3 189.0,168.1 190.0,170.0 191.0,170.4 192.0,170.7 193.0,171.1 194.0,171.5 195.0,171.9 196.0,172.3 197.0,172.8 198.0,173.2 199.0,173.6 200.0,173.2 201.0,172.8 202.0,172.5 203.0,172.2 204.0,171.9 205.0,171.9 206.0,171.4 207.0,170.8 208.0,171.6 209.0,172.4 210.0,173.2 211.0,172.4 212.0,172.7 213.0,173.0 214.0,172.8 215.0,172.9 216.0,173.0 217.0,173.1 218.0,173.2 219.0,172.7 220.0,172.2 221.0,171.6 222.0,171.1 223.0,170.9 224.0,170.6 225.0,170.4 226.0,170.1 227.0,169.8 228.0,169.2 229.0,168.5 230.0,167.9 231.0,167.2 232.0,166.6 233.0,166.6 234.0,166.6 235.0,166.6 236.0,166.2 237.0,165.8 238.0,165.4 239.0,165.5 239.0,184.0 238.0,184.1 237.0,184.1 236.0,184.2 235.0,184.2 234.0,183.9 233.0,183.5 232.0,183.2 231.0,183.5 230.0,183.8 229.0,184.1 228.0,184.4 227.0,184.7 226.0,184.6 225.0,184.5 224.0,184.4 223.0,184.3 222.0,183.6 221.0,182.9 220.0,182.2 219.0,181.5 218.0,180.8 217.0,180.6 216.0,180.4 215.0,180.2 214.0,180.0 213.0,179.8 212.0,180.4 211.0,181.1 210.0,181.7 209.0,182.6 208.0,183.6 207.0,184.5 206.0,186.1 205.0,187.6 204.0,189.2 203.0,190.4 202.0,190.9 201.0,191.4 200.0,192.1 199.0,192.7 198.0,192.5 197.0,192.2 196.0,192.0 195.0,191.8 194.0,191.6 193.0,191.5 192.0,191.3 191.0,191.2 190.0,191.0 189.0,188.9 188.0,186.7 187.0,185.9 186.0,185.1 185.0,184.3 184.0,184.4 183.0,184.6 182.0,185.0 181.0,185.4 180.0,185.7 179.0,185.7 178.0,185.6 177.0,185.5 176.0,185.5 175.0,185.4 174.0,185.9 173.0,186.4 172.0,186.9 171.0,187.4 170.0,186.8 169.0,185.7 168.0,184.5 167.0,184.7 166.0,184.8 165.0,184.5 164.0,183.2 163.0,177.2 162.0,177.2 161.0,177.1 160.0,177.1" fill="#7cc480" opacity="0.95"/><polygon points="160.0,177.9 161.0,177.9 162.0,177.8 163.0,177.8 164.0,173.3 165.0,172.5 166.0,171.8 167.0,171.1 168.0,170.3 169.0,170.9 170.0,171.5 171.0,172.0 172.0,171.5 173.0,171.0 174.0,170.5 175.0,170.0 176.0,170.0 177.0,170.1 178.0,170.2 179.0,170.2 180.0,170.3 181.0,169.9 182.0,169.5 183.0,169.1 184.0,168.8 185.0,168.5 186.0,169.2 187.0,169.9 188.0,170.6 189.0,172.6 190.0,174.7 191.0,175.0 192.0,175.3 193.0,175.6 194.0,176.0 195.0,176.3 196.0,176.7 197.0,177.1 198.0,177.5 199.0,177.9 200.0,177.4 201.0,176.9 202.0,176.6 203.0,176.2 204.0,175.9 205.0,175.5 206.0,174.5 207.0,173.5 208.0,173.8 209.0,174.2 210.0,174.5 211.0,173.0 212.0,172.7 213.0,173.0 214.0,173.0 215.0,173.2 216.0,173.5 217.0,173.8 218.0,174.0 219.0,173.6 220.0,173.2 221.0,172.9 222.0,172.5 223.0,172.4 224.0,172.3 225.0,172.2 226.0,172.1 227.0,172.0 228.0,171.5 229.0,171.0 230.0,170.5 231.0,170.0 232.0,169.5 233.0,169.7 234.0,169.8 235.0,170.0 236.0,169.8 237.0,169.5 238.0,169.2 239.0,169.0 239.0,179.0 238.0,179.2 237.0,179.5 236.0,179.8 235.0,180.0 234.0,179.8 233.0,179.7 232.0,179.5 231.0,180.0 230.0,180.5 229.0,181.0 228.0,181.5 227.0,182.0 226.0,182.1 225.0,182.2 224.0,182.3 223.0,182.4 222.0,182.5 221.0,182.9 220.0,182.2 219.0,181.5 218.0,180.8 217.0,180.6 216.0,180.4 215.0,180.2 214.0,180.0 213.0,179.8 212.0,180.4 211.0,181.1 210.0,181.7 209.0,182.6 208.0,183.6 207.0,183.5 206.0,184.5 205.0,185.5 204.0,185.9 203.0,186.3 202.0,186.7 201.0,187.1 200.0,187.6 199.0,188.1 198.0,187.8 197.0,187.4 196.0,187.1 195.0,186.7 194.0,186.4 193.0,186.2 192.0,185.9 191.0,185.6 190.0,185.3 189.0,183.4 188.0,181.4 187.0,180.7 186.0,180.1 185.0,179.5 184.0,179.8 183.0,180.1 182.0,180.3 181.0,180.5 180.0,180.7 179.0,180.5 178.0,180.3 177.0,180.1 176.0,179.8 175.0,179.6 174.0,179.9 173.0,180.3 172.0,180.6 171.0,181.0 170.0,180.2 169.0,179.4 168.0,178.7 167.0,179.3 166.0,179.8 165.0,180.4 164.0,181.0 163.0,177.2 162.0,177.2 161.0,177.1 160.0,177.1" fill="#b4c456" opacity="0.85"/><polygon points="184,164 186,155 190,153 195,154 202,155 202,166 195,168 186,169" fill="#4282e6" opacity="0.55" filter="url(#bl2)"/><polygon points="184,192 187,199 190,200 195,199 202,198 202,189 195,187 186,187" fill="#4282e6" opacity="0.55" filter="url(#bl2)"/></g><polyline points="157.0,177.5 163.0,177.8 168.0,174.5 171.0,176.5 175.0,174.8 180.0,175.5 185.0,174.0 188.0,176.0 190.0,180.0 195.0,181.5 199.0,183.0 201.0,182.0 205.0,180.5 207.0,178.5 210.0,179.5 212.0,176.5 214.0,178.0 218.0,179.0 222.0,177.5 227.0,177.0 232.0,174.5 235.0,175.0 239.0,174.0" fill="none" stroke="#ff1006" stroke-width="1.35" stroke-linejoin="round"/><line x1="209.0" y1="136.9" x2="209.0" y2="218.5" stroke="#111" stroke-width="1.2" stroke-dasharray="3.5,1.7"/>
</g>
<rect x="156.80" y="136.90" width="81.60" height="81.60" fill="none" stroke="#000" stroke-width="1.3"/>
<line x1="175.00" y1="136.90" x2="175.00" y2="138.90" stroke="#000" stroke-width="1"/>
<line x1="175.00" y1="218.50" x2="175.00" y2="216.50" stroke="#000" stroke-width="1"/>
<line x1="195.05" y1="136.90" x2="195.05" y2="138.90" stroke="#000" stroke-width="1"/>
<line x1="195.05" y1="218.50" x2="195.05" y2="216.50" stroke="#000" stroke-width="1"/>
<line x1="215.10" y1="136.90" x2="215.10" y2="138.90" stroke="#000" stroke-width="1"/>
<line x1="215.10" y1="218.50" x2="215.10" y2="216.50" stroke="#000" stroke-width="1"/>
<line x1="235.15" y1="136.90" x2="235.15" y2="138.90" stroke="#000" stroke-width="1"/>
<line x1="235.15" y1="218.50" x2="235.15" y2="216.50" stroke="#000" stroke-width="1"/>
<line x1="156.80" y1="136.90" x2="158.80" y2="136.90" stroke="#000" stroke-width="1"/>
<line x1="238.40" y1="136.90" x2="236.40" y2="136.90" stroke="#000" stroke-width="1"/>
<text x="151.30" y="141.50" font-size="11" text-anchor="end" >1</text>
<line x1="156.80" y1="177.70" x2="158.80" y2="177.70" stroke="#000" stroke-width="1"/>
<line x1="238.40" y1="177.70" x2="236.40" y2="177.70" stroke="#000" stroke-width="1"/>
<text x="151.30" y="182.30" font-size="11" text-anchor="end" >0</text>
<line x1="156.80" y1="218.50" x2="158.80" y2="218.50" stroke="#000" stroke-width="1"/>
<line x1="238.40" y1="218.50" x2="236.40" y2="218.50" stroke="#000" stroke-width="1"/>
<text x="151.30" y="223.10" font-size="11" text-anchor="end" >-1</text>
<text x="160.60" y="211.60" font-size="11" text-anchor="start" >(g)</text>
<text x="0" y="0" font-size="10.4" text-anchor="middle" style="stroke-width:0.15px" transform="translate(137.00,176.70) rotate(-90)">E<tspan font-size="8" dy="2">Y</tspan><tspan dy="-2"> (TVm</tspan><tspan font-size="8" dy="-4">-1</tspan><tspan dy="4">)</tspan></text>
<g clip-path="url(#cp12)">
<g filter="url(#bl)"><polygon points="157.0,272.3 165.0,272.0 165.0,271.0 167.0,265.3 170.0,262.5 170.5,254.1 172.0,254.1 172.5,262.5 175.0,261.6 178.0,258.8 181.0,259.7 183.0,252.2 187.0,249.4 190.0,250.3 195.0,249.4 205.0,248.4 210.0,251.3 213.0,249.4 217.0,253.1 220.0,258.8 222.0,260.6 227.0,260.6 232.0,258.8 239.0,258.8 239.0,284.1 230.0,283.2 225.0,285.0 220.0,285.0 217.0,288.8 213.0,294.4 209.0,297.2 205.0,295.3 195.0,294.4 190.0,298.2 185.0,296.3 183.0,290.7 181.0,284.1 180.0,279.4 175.0,282.2 172.0,286.9 168.0,281.3 165.0,276.6 165.0,273.5 157.0,273.0" fill="#3a88e2"/><polygon points="157.0,273.1 165.0,272.8 165.0,271.8 167.0,266.1 170.0,263.3 170.5,254.9 172.0,254.9 172.5,263.3 175.0,262.4 178.0,259.6 181.0,260.5 183.0,253.0 187.0,250.2 190.0,251.1 195.0,250.2 205.0,249.2 210.0,252.1 213.0,250.2 217.0,253.9 220.0,259.6 222.0,261.4 227.0,261.4 232.0,259.6 239.0,259.6 239.0,283.3 230.0,282.4 225.0,284.2 220.0,284.2 217.0,288.0 213.0,293.6 209.0,296.4 205.0,294.5 195.0,293.6 190.0,297.4 185.0,295.5 183.0,289.9 181.0,283.3 180.0,278.6 175.0,281.4 172.0,286.1 168.0,280.5 165.0,275.8 165.0,272.7 157.0,272.2" fill="#36b4bc"/><polygon points="160.0,273.0 161.0,272.9 162.0,272.9 163.0,272.9 164.0,272.8 165.0,271.8 166.0,268.9 167.0,266.1 168.0,265.2 169.0,264.2 170.0,263.3 171.0,260.8 172.0,260.7 173.0,263.1 174.0,262.8 175.0,262.4 176.0,261.5 177.0,260.5 178.0,259.6 179.0,259.9 180.0,260.2 181.0,260.5 182.0,259.9 183.0,257.8 184.0,255.7 185.0,257.8 186.0,260.0 187.0,259.7 188.0,259.5 189.0,259.3 190.0,259.1 191.0,258.6 192.0,258.2 193.0,257.7 194.0,259.0 195.0,260.2 196.0,261.4 197.0,262.0 198.0,262.5 199.0,263.1 200.0,264.0 201.0,265.1 202.0,266.1 203.0,267.1 204.0,268.2 205.0,269.2 206.0,270.3 207.0,271.4 208.0,272.1 209.0,272.9 210.0,272.2 211.0,271.4 212.0,270.6 213.0,270.0 214.0,269.4 215.0,268.8 216.0,268.0 217.0,267.2 218.0,266.5 219.0,265.8 220.0,265.0 221.0,264.5 222.0,264.0 223.0,263.5 224.0,263.0 225.0,262.5 226.0,263.0 227.0,263.4 228.0,263.8 229.0,262.9 230.0,262.1 231.0,261.2 232.0,260.3 233.0,259.9 234.0,259.6 235.0,259.6 236.0,259.6 237.0,259.6 238.0,259.6 239.0,259.6 239.0,280.5 238.0,280.6 237.0,280.7 236.0,280.8 235.0,281.3 234.0,281.7 233.0,282.2 232.0,282.6 231.0,282.5 230.0,282.4 229.0,282.8 228.0,283.1 227.0,283.5 226.0,283.8 225.0,284.2 224.0,284.2 223.0,284.2 222.0,284.2 221.0,284.2 220.0,284.2 219.0,285.5 218.0,286.7 217.0,288.0 216.0,289.4 215.0,290.8 214.0,292.2 213.0,293.6 212.0,294.3 211.0,295.0 210.0,295.7 209.0,296.4 208.0,295.9 207.0,295.4 206.0,294.7 205.0,293.8 204.0,292.8 203.0,291.9 202.0,290.9 201.0,289.9 200.0,289.0 199.0,287.9 198.0,287.2 197.0,286.5 196.0,285.8 195.0,284.4 194.0,283.0 193.0,281.6 192.0,281.9 191.0,282.2 190.0,282.5 189.0,282.5 188.0,282.6 187.0,282.7 186.0,282.8 185.0,280.5 184.0,278.2 183.0,280.1 182.0,282.1 181.0,281.0 180.0,278.6 179.0,279.2 178.0,279.7 177.0,280.3 176.0,280.8 175.0,281.4 174.0,282.5 173.0,283.0 172.0,282.7 171.0,281.9 170.0,281.2 169.0,281.8 168.0,280.5 167.0,278.9 166.0,277.4 165.0,275.8 164.0,272.6 163.0,272.6 162.0,272.5 161.0,272.4 160.0,272.4" fill="#7cc480" opacity="0.95"/><polygon points="160.0,273.0 161.0,272.9 162.0,272.9 163.0,272.9 164.0,272.8 165.0,271.8 166.0,269.5 167.0,269.7 168.0,268.5 169.0,267.4 170.0,266.3 171.0,266.5 172.0,266.7 173.0,267.0 174.0,266.3 175.0,265.7 176.0,265.1 177.0,264.5 178.0,264.0 179.0,263.6 180.0,263.1 181.0,264.0 182.0,265.0 183.0,263.0 184.0,261.0 185.0,263.3 186.0,265.5 187.0,265.4 188.0,265.3 189.0,265.2 190.0,265.1 191.0,264.8 192.0,264.4 193.0,264.1 194.0,265.4 195.0,266.8 196.0,268.1 197.0,268.8 198.0,269.5 199.0,270.2 200.0,271.2 201.0,272.2 202.0,273.2 203.0,274.2 204.0,275.2 205.0,276.2 206.0,277.2 207.0,278.2 208.0,279.0 209.0,279.7 210.0,278.9 211.0,278.1 212.0,277.3 213.0,276.6 214.0,276.0 215.0,275.3 216.0,274.5 217.0,273.7 218.0,272.9 219.0,272.1 220.0,271.3 221.0,270.7 222.0,270.2 223.0,269.6 224.0,269.0 225.0,268.4 226.0,268.7 227.0,269.1 228.0,269.4 229.0,268.4 230.0,267.4 231.0,266.4 232.0,265.4 233.0,264.9 234.0,264.5 235.0,264.0 236.0,263.5 237.0,263.3 238.0,263.2 239.0,263.0 239.0,274.5 238.0,274.7 237.0,274.8 236.0,275.0 235.0,275.5 234.0,276.0 233.0,276.5 232.0,277.0 231.0,278.0 230.0,279.0 229.0,280.0 228.0,281.0 227.0,280.7 226.0,280.3 225.0,280.0 224.0,280.6 223.0,281.2 222.0,281.8 221.0,282.4 220.0,283.0 219.0,283.8 218.0,284.6 217.0,285.4 216.0,286.2 215.0,287.0 214.0,287.7 213.0,288.3 212.0,289.0 211.0,289.8 210.0,290.7 209.0,291.5 208.0,290.8 207.0,290.0 206.0,289.0 205.0,288.0 204.0,287.0 203.0,286.0 202.0,285.0 201.0,284.0 200.0,283.0 199.0,282.0 198.0,281.3 197.0,280.7 196.0,280.0 195.0,278.7 194.0,277.3 193.0,276.0 192.0,276.3 191.0,276.7 190.0,277.0 189.0,277.1 188.0,277.2 187.0,277.4 186.0,277.5 185.0,275.2 184.0,273.0 183.0,275.0 182.0,277.0 181.0,276.0 180.0,274.9 179.0,275.1 178.0,275.3 177.0,275.5 176.0,275.9 175.0,276.3 174.0,276.7 173.0,277.0 172.0,276.6 171.0,276.1 170.0,275.7 169.0,276.6 168.0,277.5 167.0,278.3 166.0,277.4 165.0,275.8 164.0,272.6 163.0,272.6 162.0,272.5 161.0,272.4 160.0,272.4" fill="#b4c456" opacity="0.85"/><polygon points="183,262 185,253 195,251 210,252 217,255 215,262 200,264 190,265" fill="#4282e6" opacity="0.45" filter="url(#bl2)"/><polygon points="183,284 186,295 195,297 210,296 215,292 212,284 200,282 190,281" fill="#4282e6" opacity="0.45" filter="url(#bl2)"/></g><polyline points="157.0,272.5 163.0,272.7 167.0,274.0 170.0,271.0 173.0,272.0 177.0,270.0 180.0,269.0 182.0,271.0 184.0,267.0 186.0,271.5 190.0,271.0 193.0,270.0 196.0,274.0 199.0,276.0 203.0,280.0 207.0,284.0 209.0,285.5 212.0,283.0 215.0,281.0 220.0,277.0 225.0,274.0 228.0,275.0 232.0,271.0 236.0,269.0 239.0,268.5" fill="none" stroke="#ff1006" stroke-width="1.35" stroke-linejoin="round"/><line x1="209.0" y1="232.4" x2="209.0" y2="313.3" stroke="#111" stroke-width="1.2" stroke-dasharray="3.5,1.7"/>
</g>
<rect x="156.80" y="232.40" width="81.60" height="80.90" fill="none" stroke="#000" stroke-width="1.3"/>
<line x1="175.00" y1="232.40" x2="175.00" y2="234.40" stroke="#000" stroke-width="1"/>
<line x1="175.00" y1="313.30" x2="175.00" y2="311.30" stroke="#000" stroke-width="1"/>
<line x1="195.05" y1="232.40" x2="195.05" y2="234.40" stroke="#000" stroke-width="1"/>
<line x1="195.05" y1="313.30" x2="195.05" y2="311.30" stroke="#000" stroke-width="1"/>
<line x1="215.10" y1="232.40" x2="215.10" y2="234.40" stroke="#000" stroke-width="1"/>
<line x1="215.10" y1="313.30" x2="215.10" y2="311.30" stroke="#000" stroke-width="1"/>
<line x1="235.15" y1="232.40" x2="235.15" y2="234.40" stroke="#000" stroke-width="1"/>
<line x1="235.15" y1="313.30" x2="235.15" y2="311.30" stroke="#000" stroke-width="1"/>
<line x1="156.80" y1="232.40" x2="158.80" y2="232.40" stroke="#000" stroke-width="1"/>
<line x1="238.40" y1="232.40" x2="236.40" y2="232.40" stroke="#000" stroke-width="1"/>
<text x="151.30" y="237.00" font-size="11" text-anchor="end" >1</text>
<line x1="156.80" y1="272.85" x2="158.80" y2="272.85" stroke="#000" stroke-width="1"/>
<line x1="238.40" y1="272.85" x2="236.40" y2="272.85" stroke="#000" stroke-width="1"/>
<text x="151.30" y="277.45" font-size="11" text-anchor="end" >0</text>
<line x1="156.80" y1="313.30" x2="158.80" y2="313.30" stroke="#000" stroke-width="1"/>
<line x1="238.40" y1="313.30" x2="236.40" y2="313.30" stroke="#000" stroke-width="1"/>
<text x="151.30" y="317.90" font-size="11" text-anchor="end" >-1</text>
<text x="160.60" y="306.40" font-size="11" text-anchor="start" >(l)</text>
<text x="0" y="0" font-size="10.4" text-anchor="middle" style="stroke-width:0.15px" transform="translate(137.00,271.85) rotate(-90)">E<tspan font-size="8" dy="2">Y</tspan><tspan dy="-2"> (TVm</tspan><tspan font-size="8" dy="-4">-1</tspan><tspan dy="4">)</tspan></text>
<g clip-path="url(#cp20)">
<g filter="url(#bl)"><polygon points="280.5,80.5 281.0,80.0 282.0,77.7 283.0,77.7 283.0,75.0 285.0,75.0 285.0,72.3 287.0,72.3 287.0,69.5 289.5,69.5 289.5,66.2 290.0,66.2 290.0,50.9 293.0,50.9 294.0,52.0 295.0,50.9 299.8,50.9 299.8,56.9 302.0,56.9 302.0,59.7 303.5,59.7 303.5,62.4 305.0,62.4 305.0,64.0 307.0,64.0 307.0,67.3 309.0,67.3 309.0,69.5 312.0,69.5 312.0,72.3 316.0,72.3 316.0,74.4 321.0,74.4 321.0,76.1 330.0,77.6 345.0,78.0 361.0,78.8 361.0,82.6 345.0,83.7 330.0,84.3 321.0,84.9 317.0,85.5 313.0,86.6 310.0,88.2 308.0,89.8 306.0,93.1 304.0,96.4 302.5,99.1 302.5,105.7 298.0,105.7 297.5,100.0 295.0,103.0 295.0,116.0 291.0,116.0 290.5,104.0 290.0,95.0 289.0,94.0 287.0,91.0 285.0,88.0 283.0,85.0 281.0,81.5 280.5,81.5" fill="#2db6c6"/><polygon points="290,51 300,51 300,57 290,60" fill="#36a8d8" opacity="0.5"/><polygon points="282.0,80.0 284.0,76.5 288.0,71.0 292.0,68.0 296.0,67.0 300.0,66.0 305.0,67.0 310.0,71.0 316.0,75.0 321.0,77.0 340.0,78.8 361.0,79.6 361.0,82.2 340.0,83.0 321.0,84.0 315.0,84.5 308.0,87.5 303.0,92.0 298.0,96.5 292.0,96.0 288.0,92.0 284.0,86.0" fill="#86c280"/><polygon points="300,68 310,72 321,76.5 361,79.5 361,81.5 321,80.5 310,78 300,75" fill="#c2c24e" opacity="0.9"/><polygon points="283,80 288,74 293,72 292,78 288,84" fill="#b4c258" opacity="0.8"/><polygon points="292,62 294,56 297,58 296,66" fill="#7cc48c" opacity="0.6"/><polygon points="298,60 300,58 301,64 299,66" fill="#7cc48c" opacity="0.5"/><ellipse cx="292" cy="76" rx="1.5" ry="2.5" fill="#2caed0"/><ellipse cx="295.5" cy="82" rx="1.8" ry="5.5" fill="#2caed0"/><ellipse cx="298.5" cy="79" rx="1.2" ry="3" fill="#2caed0"/><ellipse cx="293" cy="87" rx="1.5" ry="2.5" fill="#2caed0"/><ellipse cx="301" cy="75" rx="1" ry="1.5" fill="#2caed0"/><ellipse cx="289" cy="81" rx="1" ry="1.5" fill="#2caed0"/><rect x="290.5" y="96" width="4.5" height="20" fill="#2bb6c8"/><rect x="298" y="97" width="4.5" height="8.7" fill="#4cbaa8"/></g><polyline points="279.0,80.5 283.0,81.5 286.0,85.0 288.0,90.0 290.0,91.0 293.0,93.5 295.0,95.0 297.0,93.0 299.0,95.5 302.0,92.0 304.0,90.5 305.0,93.0 307.0,89.0 310.0,86.0 312.0,84.5 315.0,84.0 321.0,83.5 330.0,83.2 345.0,83.0 361.0,82.0" fill="none" stroke="#ff1006" stroke-width="1.35" stroke-linejoin="round"/>
</g>
<rect x="278.90" y="40.60" width="81.60" height="81.40" fill="none" stroke="#000" stroke-width="1.3"/>
<line x1="297.10" y1="40.60" x2="297.10" y2="42.60" stroke="#000" stroke-width="1"/>
<line x1="297.10" y1="122.00" x2="297.10" y2="120.00" stroke="#000" stroke-width="1"/>
<line x1="317.15" y1="40.60" x2="317.15" y2="42.60" stroke="#000" stroke-width="1"/>
<line x1="317.15" y1="122.00" x2="317.15" y2="120.00" stroke="#000" stroke-width="1"/>
<line x1="337.20" y1="40.60" x2="337.20" y2="42.60" stroke="#000" stroke-width="1"/>
<line x1="337.20" y1="122.00" x2="337.20" y2="120.00" stroke="#000" stroke-width="1"/>
<line x1="357.25" y1="40.60" x2="357.25" y2="42.60" stroke="#000" stroke-width="1"/>
<line x1="357.25" y1="122.00" x2="357.25" y2="120.00" stroke="#000" stroke-width="1"/>
<line x1="278.90" y1="55.86" x2="280.90" y2="55.86" stroke="#000" stroke-width="1"/>
<line x1="360.50" y1="55.86" x2="358.50" y2="55.86" stroke="#000" stroke-width="1"/>
<text x="272.10" y="60.46" font-size="11" text-anchor="end" >5</text>
<line x1="278.90" y1="81.30" x2="280.90" y2="81.30" stroke="#000" stroke-width="1"/>
<line x1="360.50" y1="81.30" x2="358.50" y2="81.30" stroke="#000" stroke-width="1"/>
<text x="272.10" y="85.90" font-size="11" text-anchor="end" >0</text>
<line x1="278.90" y1="106.74" x2="280.90" y2="106.74" stroke="#000" stroke-width="1"/>
<line x1="360.50" y1="106.74" x2="358.50" y2="106.74" stroke="#000" stroke-width="1"/>
<text x="272.10" y="111.34" font-size="11" text-anchor="end" >-5</text>
<text x="281.00" y="115.10" font-size="11" text-anchor="start" >(c)</text>
<text x="0" y="0" font-size="11" text-anchor="middle" style="stroke-width:0.15px" transform="translate(257.90,79.30) rotate(-90)">B<tspan font-size="8" dy="2">Z</tspan><tspan dy="-2"> (kT)</tspan></text>
<g clip-path="url(#cp21)">
<g filter="url(#bl)"><polygon points="281.5,177.0 282.0,171.0 286.0,164.5 290.0,162.6 290.5,154.2 294.0,154.2 294.5,143.3 296.5,143.3 297.0,147.5 298.5,152.3 300.0,155.4 302.0,157.8 303.0,155.4 305.0,155.4 306.0,157.8 307.0,161.4 311.0,161.4 312.0,154.2 315.0,153.0 317.0,149.3 320.0,146.9 325.0,143.3 327.0,138.4 330.0,137.2 331.5,137.0 331.5,218.5 327.0,218.5 326.0,214.0 322.0,211.0 320.0,208.0 317.0,203.0 314.0,198.5 312.0,194.0 309.0,192.5 307.0,194.5 305.0,196.0 302.0,196.0 300.0,197.5 297.0,199.0 296.0,207.5 295.0,206.0 294.0,201.0 292.0,195.0 290.0,191.5 287.0,188.0 282.0,181.0 281.5,178.0" fill="#3a82e0"/><polygon points="281.5,178.3 282.0,172.3 286.0,165.8 290.0,163.9 290.5,155.5 294.0,155.5 294.5,144.6 296.5,144.6 297.0,148.8 298.5,153.6 300.0,156.7 302.0,159.1 303.0,156.7 305.0,156.7 306.0,159.1 307.0,162.7 311.0,162.7 312.0,155.5 315.0,154.3 317.0,150.6 320.0,148.2 325.0,144.6 327.0,139.7 330.0,138.5 331.5,138.3 331.5,217.2 327.0,217.2 326.0,212.7 322.0,209.7 320.0,206.7 317.0,201.7 314.0,197.2 312.0,192.7 309.0,191.2 307.0,193.2 305.0,194.7 302.0,194.7 300.0,196.2 297.0,197.7 296.0,206.2 295.0,204.7 294.0,199.7 292.0,193.7 290.0,190.2 287.0,186.7 282.0,179.7 281.5,176.7" fill="#2eb4c4"/><polygon points="333.7,176.0 333.7,161.4 336.0,161.4 336.0,159.0 342.0,159.0 343.0,165.0 350.0,169.3 355.0,171.7 361.0,172.9 361.0,182.0 355.0,185.0 350.0,187.0 345.0,189.0 342.0,194.0 340.0,195.5 336.0,194.0 333.7,189.0 333.7,178.0" fill="#3a82e0"/><polygon points="334.9,177.3 334.9,162.7 336.0,162.7 336.0,160.3 342.0,160.3 343.0,166.3 350.0,170.6 355.0,173.0 361.0,174.2 361.0,180.7 355.0,183.7 350.0,185.7 345.0,187.7 342.0,192.7 340.0,194.2 336.0,192.7 334.9,187.7 334.9,176.7" fill="#30b6c0"/><polyline points="284.0,176.0 292.0,170.0 305.0,167.0 318.0,163.0 330.0,158.0" fill="none" stroke="#a9c660" stroke-width="2" opacity="0.35"/><polyline points="286.0,173.0 296.0,166.0 310.0,163.0 322.0,160.0 330.0,154.0" fill="none" stroke="#a9c660" stroke-width="2" opacity="0.35"/><polyline points="288.0,178.0 300.0,174.0 312.0,171.0 325.0,168.0 331.0,165.0" fill="none" stroke="#a9c660" stroke-width="2" opacity="0.35"/><polyline points="292.0,168.0 300.0,162.0 312.0,166.0 324.0,172.0 331.0,174.0" fill="none" stroke="#a9c660" stroke-width="2" opacity="0.35"/><polyline points="285.0,180.0 295.0,179.0 305.0,178.0 318.0,176.0 331.0,172.0" fill="none" stroke="#a9c660" stroke-width="2" opacity="0.35"/><polyline points="336.0,172.0 345.0,174.0 355.0,175.0 361.0,176.0" fill="none" stroke="#a9c660" stroke-width="2" opacity="0.35"/><polyline points="336.0,168.0 346.0,171.0 356.0,174.0 361.0,175.0" fill="none" stroke="#a9c660" stroke-width="2" opacity="0.35"/><polyline points="338.0,184.0 348.0,182.0 361.0,179.0" fill="none" stroke="#a9c660" stroke-width="2" opacity="0.35"/><polygon points="281.5,177 283,168 288,163 295,160 305,163 315,162 331,158 331,182 320,184 300,183 290,181 282,179" fill="#9cc46c" opacity="0.55"/><polygon points="336,173 345,172 355,174 361,175 361,180 350,181 340,181 336,179" fill="#b0c25a" opacity="0.7"/></g><polyline points="279.0,177.0 283.0,177.5 287.0,183.0 290.0,187.0 293.0,188.0 294.0,186.5 296.0,191.0 297.0,196.5 298.5,197.5 300.0,192.0 303.0,186.0 305.0,185.0 311.0,185.0 315.0,185.5 317.0,184.5 320.0,186.0 322.0,190.0 325.0,200.0 327.0,210.0 328.0,213.5 329.0,205.0 330.0,190.0 330.5,178.0 333.0,177.0 337.0,176.5 339.0,176.5 340.0,180.0 341.0,183.0 343.0,185.0 346.0,183.0 350.0,181.0 355.0,179.0 361.0,177.5" fill="none" stroke="#ff1006" stroke-width="1.35" stroke-linejoin="round"/><line x1="330.5" y1="136.9" x2="330.5" y2="218.5" stroke="#111" stroke-width="1.2" stroke-dasharray="3.5,1.7"/>
</g>
<rect x="278.90" y="136.90" width="81.60" height="81.60" fill="none" stroke="#000" stroke-width="1.3"/>
<line x1="297.10" y1="136.90" x2="297.10" y2="138.90" stroke="#000" stroke-width="1"/>
<line x1="297.10" y1="218.50" x2="297.10" y2="216.50" stroke="#000" stroke-width="1"/>
<line x1="317.15" y1="136.90" x2="317.15" y2="138.90" stroke="#000" stroke-width="1"/>
<line x1="317.15" y1="218.50" x2="317.15" y2="216.50" stroke="#000" stroke-width="1"/>
<line x1="337.20" y1="136.90" x2="337.20" y2="138.90" stroke="#000" stroke-width="1"/>
<line x1="337.20" y1="218.50" x2="337.20" y2="216.50" stroke="#000" stroke-width="1"/>
<line x1="357.25" y1="136.90" x2="357.25" y2="138.90" stroke="#000" stroke-width="1"/>
<line x1="357.25" y1="218.50" x2="357.25" y2="216.50" stroke="#000" stroke-width="1"/>
<line x1="278.90" y1="152.20" x2="280.90" y2="152.20" stroke="#000" stroke-width="1"/>
<line x1="360.50" y1="152.20" x2="358.50" y2="152.20" stroke="#000" stroke-width="1"/>
<text x="272.10" y="156.80" font-size="11" text-anchor="end" >5</text>
<line x1="278.90" y1="177.70" x2="280.90" y2="177.70" stroke="#000" stroke-width="1"/>
<line x1="360.50" y1="177.70" x2="358.50" y2="177.70" stroke="#000" stroke-width="1"/>
<text x="272.10" y="182.30" font-size="11" text-anchor="end" >0</text>
<line x1="278.90" y1="203.20" x2="280.90" y2="203.20" stroke="#000" stroke-width="1"/>
<line x1="360.50" y1="203.20" x2="358.50" y2="203.20" stroke="#000" stroke-width="1"/>
<text x="272.10" y="207.80" font-size="11" text-anchor="end" >-5</text>
<text x="281.00" y="211.60" font-size="11" text-anchor="start" >(h)</text>
<text x="0" y="0" font-size="11" text-anchor="middle" style="stroke-width:0.15px" transform="translate(257.90,175.70) rotate(-90)">B<tspan font-size="8" dy="2">Z</tspan><tspan dy="-2"> (kT)</tspan></text>
<g clip-path="url(#cp22)">
<g filter="url(#bl)"><polygon points="281.5,272.5 282.3,266.4 284.0,261.5 286.0,259.3 289.9,258.0 289.9,248.4 292.0,245.7 294.0,245.7 295.0,247.8 298.0,249.5 300.0,251.1 302.0,254.4 304.0,256.0 306.0,258.2 308.0,257.1 310.0,254.4 312.0,252.2 314.0,248.4 317.0,245.7 321.0,244.0 322.0,242.9 327.0,244.0 330.0,245.1 333.0,247.8 337.0,249.5 340.0,252.2 342.0,258.8 344.0,263.2 347.0,267.0 352.0,269.2 361.0,270.3 361.0,274.5 350.0,276.5 346.0,278.0 343.0,282.5 341.0,288.0 339.0,294.0 335.0,297.0 332.0,300.0 330.0,302.5 325.0,302.3 321.0,302.5 317.0,301.0 315.0,298.0 312.0,293.5 310.0,290.0 307.0,287.0 305.0,287.5 302.0,290.0 300.0,292.5 297.0,297.0 295.5,301.0 294.0,300.5 293.0,296.0 292.0,290.0 288.0,286.0 285.0,282.0 282.0,275.0 281.5,273.5" fill="#3a80e0"/><polygon points="281.5,273.9 282.3,267.8 284.0,262.9 286.0,260.7 289.9,259.4 289.9,249.8 292.0,247.1 294.0,247.1 295.0,249.2 298.0,250.9 300.0,252.5 302.0,255.8 304.0,257.4 306.0,259.6 308.0,258.5 310.0,255.8 312.0,253.6 314.0,249.8 317.0,247.1 321.0,245.4 322.0,244.3 327.0,245.4 330.0,246.5 333.0,249.2 337.0,250.9 340.0,253.6 342.0,260.2 344.0,264.6 347.0,268.4 352.0,270.6 361.0,271.7 361.0,273.1 350.0,275.1 346.0,276.6 343.0,281.1 341.0,286.6 339.0,292.6 335.0,295.6 332.0,298.6 330.0,301.1 325.0,300.9 321.0,301.1 317.0,299.6 315.0,296.6 312.0,292.1 310.0,288.6 307.0,285.6 305.0,286.1 302.0,288.6 300.0,291.1 297.0,295.6 295.5,299.6 294.0,299.1 293.0,294.6 292.0,288.6 288.0,284.6 285.0,280.6 282.0,273.6 281.5,272.1" fill="#2db4c6"/><polygon points="283,268 286,261 290,259 290,250 294,248 300,253 305,259 308,262 315,265 321,268 321,276 311,279 302,285 296,288 291,284 286,279" fill="#6fbf94" opacity="0.75"/><polygon points="305,289 310,291 315,299 321,302 330,302 332,299 337,296 339,293 330,292 318,290" fill="#3296dc" opacity="0.6"/><polygon points="283,268 286,260 290,257 290,249 294,247 300,252 306,258 315,262 330,266 345,270 361,271 361,273 345,274 330,274 315,276 300,278 290,280 284,276" fill="#a8c460" opacity="0.45"/><polyline points="284.0,266.0 292.0,262.0 304.0,264.0 315.0,267.0 330.0,270.0 345.0,271.5 361.0,271.5" fill="none" stroke="#bcc452" stroke-width="1.8" opacity="0.5"/><polyline points="286.0,270.0 296.0,268.0 306.0,268.0 318.0,270.0 332.0,271.5 350.0,272.0" fill="none" stroke="#bcc452" stroke-width="1.8" opacity="0.5"/><polyline points="290.0,256.0 298.0,258.0 306.0,262.0 314.0,266.0 321.0,269.0" fill="none" stroke="#bcc452" stroke-width="1.8" opacity="0.5"/><polyline points="294.0,251.0 300.0,256.0 306.0,260.0 312.0,263.0" fill="none" stroke="#bcc452" stroke-width="1.8" opacity="0.5"/><polyline points="285.0,275.0 292.0,273.0 300.0,274.0 310.0,274.0 320.0,273.0" fill="none" stroke="#bcc452" stroke-width="1.8" opacity="0.5"/></g><polyline points="279.0,272.5 283.0,273.0 285.0,277.0 288.0,281.0 291.0,284.0 293.0,283.0 294.0,281.5 295.0,285.0 296.0,289.0 300.0,288.5 302.0,285.5 306.0,285.5 308.0,283.0 311.0,279.0 314.0,278.5 318.0,277.0 322.0,279.0 325.0,283.0 327.0,283.5 329.0,286.0 330.0,284.5 333.0,284.0 337.0,282.0 339.0,277.0 341.0,277.5 343.0,274.5 347.0,272.5 352.0,272.0 361.0,272.0" fill="none" stroke="#ff1006" stroke-width="1.35" stroke-linejoin="round"/><line x1="330.5" y1="232.4" x2="330.5" y2="313.3" stroke="#111" stroke-width="1.2" stroke-dasharray="3.5,1.7"/>
</g>
<rect x="278.90" y="232.40" width="81.60" height="80.90" fill="none" stroke="#000" stroke-width="1.3"/>
<line x1="297.10" y1="232.40" x2="297.10" y2="234.40" stroke="#000" stroke-width="1"/>
<line x1="297.10" y1="313.30" x2="297.10" y2="311.30" stroke="#000" stroke-width="1"/>
<line x1="317.15" y1="232.40" x2="317.15" y2="234.40" stroke="#000" stroke-width="1"/>
<line x1="317.15" y1="313.30" x2="317.15" y2="311.30" stroke="#000" stroke-width="1"/>
<line x1="337.20" y1="232.40" x2="337.20" y2="234.40" stroke="#000" stroke-width="1"/>
<line x1="337.20" y1="313.30" x2="337.20" y2="311.30" stroke="#000" stroke-width="1"/>
<line x1="357.25" y1="232.40" x2="357.25" y2="234.40" stroke="#000" stroke-width="1"/>
<line x1="357.25" y1="313.30" x2="357.25" y2="311.30" stroke="#000" stroke-width="1"/>
<line x1="278.90" y1="247.57" x2="280.90" y2="247.57" stroke="#000" stroke-width="1"/>
<line x1="360.50" y1="247.57" x2="358.50" y2="247.57" stroke="#000" stroke-width="1"/>
<text x="272.10" y="252.17" font-size="11" text-anchor="end" >5</text>
<line x1="278.90" y1="272.85" x2="280.90" y2="272.85" stroke="#000" stroke-width="1"/>
<line x1="360.50" y1="272.85" x2="358.50" y2="272.85" stroke="#000" stroke-width="1"/>
<text x="272.10" y="277.45" font-size="11" text-anchor="end" >0</text>
<line x1="278.90" y1="298.13" x2="280.90" y2="298.13" stroke="#000" stroke-width="1"/>
<line x1="360.50" y1="298.13" x2="358.50" y2="298.13" stroke="#000" stroke-width="1"/>
<text x="272.10" y="302.73" font-size="11" text-anchor="end" >-5</text>
<text x="281.00" y="306.40" font-size="11" text-anchor="start" >(m)</text>
<text x="0" y="0" font-size="11" text-anchor="middle" style="stroke-width:0.15px" transform="translate(257.90,270.85) rotate(-90)">B<tspan font-size="8" dy="2">Z</tspan><tspan dy="-2"> (kT)</tspan></text>
<g clip-path="url(#cp30)">
<g filter="url(#bl)"><polyline points="399.6,61.5 400.6,61.5 401.6,61.5 402.6,61.5 403.6,62.0 404.6,62.7 405.6,63.5 406.6,64.3 407.6,65.1 408.6,65.8 409.6,66.6 410.6,67.4 411.6,68.1 412.6,68.9 413.6,69.7 414.6,70.3 415.6,70.8 416.6,71.3 417.6,70.7 418.6,69.5 419.6,67.8 420.6,65.8 421.6,63.9 422.6,63.2 423.6,62.4 424.6,61.7 425.6,61.3 426.6,61.1 427.6,61.0 428.6,60.8 429.6,60.6 430.6,60.5 431.6,60.3 432.6,60.1 433.6,60.0 434.6,59.8 435.6,59.7 436.6,59.5 437.6,59.3 438.6,59.2 439.6,59.0 440.6,58.8 441.6,58.7 442.6,58.5 443.6,58.4 444.6,58.3 445.6,58.2 446.6,58.1 447.6,58.0 448.6,57.9 449.6,57.8 450.6,57.6 451.6,57.5 452.6,57.4 453.6,57.3 454.6,57.2 455.6,57.1 456.6,57.0 457.6,56.9 458.6,56.8 459.6,56.6 460.6,56.6 461.6,56.6 462.6,56.6 463.6,56.6 464.6,56.6 465.6,56.6 466.6,56.5 467.6,56.5 468.6,56.5 469.6,56.5 470.6,56.5 471.6,56.5 472.6,56.5 473.6,56.5 474.6,56.5 475.6,56.5 476.6,56.5 477.6,56.4 478.6,56.4 479.6,56.4 480.6,56.4 481.6,56.4 482.6,56.4" fill="none" stroke="#3a55dc" stroke-width="1.5" opacity="0.9"/><polyline points="399.6,62.5 400.6,62.5 401.6,62.6 402.6,62.7 403.6,63.1 404.6,63.8 405.6,64.5 406.6,65.2 407.6,65.9 408.6,66.6 409.6,67.3 410.6,68.0 411.6,68.7 412.6,69.4 413.6,70.1 414.6,70.6 415.6,71.0 416.6,71.4 417.6,70.8 418.6,69.6 419.6,68.0 420.6,66.0 421.6,64.0 422.6,63.4 423.6,62.7 424.6,62.1 425.6,61.7 426.6,61.6 427.6,61.5 428.6,61.4 429.6,61.3 430.6,61.1 431.6,61.0 432.6,60.9 433.6,60.8 434.6,60.7 435.6,60.5 436.6,60.4 437.6,60.3 438.6,60.2 439.6,60.1 440.6,59.9 441.6,59.8 442.6,59.7 443.6,59.6 444.6,59.6 445.6,59.5 446.6,59.4 447.6,59.3 448.6,59.2 449.6,59.1 450.6,59.0 451.6,58.9 452.6,58.9 453.6,58.8 454.6,58.7 455.6,58.6 456.6,58.5 457.6,58.4 458.6,58.3 459.6,58.2 460.6,58.2 461.6,58.2 462.6,58.2 463.6,58.2 464.6,58.2 465.6,58.2 466.6,58.2 467.6,58.2 468.6,58.2 469.6,58.2 470.6,58.1 471.6,58.1 472.6,58.1 473.6,58.1 474.6,58.1 475.6,58.1 476.6,58.1 477.6,58.1 478.6,58.1 479.6,58.1 480.6,58.1 481.6,58.1 482.6,58.1" fill="none" stroke="#3a55dc" stroke-width="1.5" opacity="0.9"/><polyline points="399.6,63.5 400.6,63.6 401.6,63.7 402.6,63.9 403.6,64.3 404.6,64.9 405.6,65.6 406.6,66.2 407.6,66.8 408.6,67.4 409.6,68.0 410.6,68.6 411.6,69.3 412.6,69.9 413.6,70.5 414.6,71.0 415.6,71.3 416.6,71.4 417.6,70.9 418.6,69.8 419.6,68.2 420.6,66.2 421.6,64.1 422.6,63.6 423.6,63.0 424.6,62.5 425.6,62.2 426.6,62.1 427.6,62.0 428.6,62.0 429.6,61.9 430.6,61.8 431.6,61.7 432.6,61.7 433.6,61.6 434.6,61.5 435.6,61.4 436.6,61.4 437.6,61.3 438.6,61.2 439.6,61.1 440.6,61.1 441.6,61.0 442.6,60.9 443.6,60.9 444.6,60.8 445.6,60.7 446.6,60.7 447.6,60.6 448.6,60.5 449.6,60.5 450.6,60.4 451.6,60.3 452.6,60.3 453.6,60.2 454.6,60.2 455.6,60.1 456.6,60.0 457.6,60.0 458.6,59.9 459.6,59.8 460.6,59.8 461.6,59.8 462.6,59.8 463.6,59.8 464.6,59.8 465.6,59.8 466.6,59.8 467.6,59.8 468.6,59.8 469.6,59.8 470.6,59.8 471.6,59.8 472.6,59.8 473.6,59.8 474.6,59.8 475.6,59.8 476.6,59.8 477.6,59.8 478.6,59.8 479.6,59.8 480.6,59.8 481.6,59.8 482.6,59.8" fill="none" stroke="#3a55dc" stroke-width="1.5" opacity="0.9"/><polyline points="399.6,64.5 400.6,64.6 401.6,64.9 402.6,65.1 403.6,65.5 404.6,66.0 405.6,66.6 406.6,67.1 407.6,67.7 408.6,68.2 409.6,68.7 410.6,69.3 411.6,69.8 412.6,70.3 413.6,70.9 414.6,71.3 415.6,71.5 416.6,71.5 417.6,71.0 418.6,69.9 419.6,68.4 420.6,66.4 421.6,64.3 422.6,63.8 423.6,63.3 424.6,62.8 425.6,62.6 426.6,62.6 427.6,62.6 428.6,62.5 429.6,62.5 430.6,62.5 431.6,62.5 432.6,62.4 433.6,62.4 434.6,62.4 435.6,62.3 436.6,62.3 437.6,62.3 438.6,62.2 439.6,62.2 440.6,62.2 441.6,62.2 442.6,62.1 443.6,62.1 444.6,62.0 445.6,62.0 446.6,62.0 447.6,61.9 448.6,61.9 449.6,61.8 450.6,61.8 451.6,61.8 452.6,61.7 453.6,61.7 454.6,61.6 455.6,61.6 456.6,61.6 457.6,61.5 458.6,61.5 459.6,61.4 460.6,61.4 461.6,61.4 462.6,61.4 463.6,61.4 464.6,61.4 465.6,61.4 466.6,61.4 467.6,61.4 468.6,61.4 469.6,61.4 470.6,61.4 471.6,61.4 472.6,61.4 473.6,61.4 474.6,61.4 475.6,61.4 476.6,61.4 477.6,61.4 478.6,61.4 479.6,61.4 480.6,61.4 481.6,61.4 482.6,61.4" fill="none" stroke="#3a55dc" stroke-width="1.5" opacity="0.9"/><polyline points="399.6,65.5 400.6,65.7 401.6,66.0 402.6,66.3 403.6,66.7 404.6,67.1 405.6,67.6 406.6,68.1 407.6,68.5 408.6,69.0 409.6,69.4 410.6,69.9 411.6,70.4 412.6,70.8 413.6,71.3 414.6,71.7 415.6,71.7 416.6,71.5 417.6,71.1 418.6,70.1 419.6,68.6 420.6,66.6 421.6,64.4 422.6,64.0 423.6,63.6 424.6,63.2 425.6,63.1 426.6,63.1 427.6,63.1 428.6,63.1 429.6,63.1 430.6,63.2 431.6,63.2 432.6,63.2 433.6,63.2 434.6,63.2 435.6,63.2 436.6,63.2 437.6,63.3 438.6,63.3 439.6,63.3 440.6,63.3 441.6,63.3 442.6,63.3 443.6,63.3 444.6,63.3 445.6,63.3 446.6,63.2 447.6,63.2 448.6,63.2 449.6,63.2 450.6,63.2 451.6,63.2 452.6,63.1 453.6,63.1 454.6,63.1 455.6,63.1 456.6,63.1 457.6,63.1 458.6,63.0 459.6,63.0 460.6,63.0 461.6,63.0 462.6,63.0 463.6,63.0 464.6,63.0 465.6,63.0 466.6,63.1 467.6,63.1 468.6,63.1 469.6,63.1 470.6,63.1 471.6,63.1 472.6,63.1 473.6,63.1 474.6,63.1 475.6,63.1 476.6,63.1 477.6,63.1 478.6,63.1 479.6,63.1 480.6,63.1 481.6,63.1 482.6,63.1" fill="none" stroke="#3a55dc" stroke-width="1.5" opacity="0.9"/><polygon points="399.6,66.5 400.6,66.7 401.6,67.1 402.6,67.5 403.6,67.9 404.6,68.2 405.6,68.6 406.6,69.0 407.6,69.4 408.6,69.8 409.6,70.1 410.6,70.5 411.6,70.9 412.6,71.3 413.6,71.7 414.6,72.0 415.6,72.0 416.6,71.6 417.6,71.2 418.6,70.2 419.6,68.8 420.6,66.8 421.6,64.5 422.6,64.2 423.6,63.9 424.6,63.6 425.6,63.5 426.6,63.6 427.6,63.7 428.6,63.7 429.6,63.8 430.6,63.8 431.6,63.9 432.6,63.9 433.6,64.0 434.6,64.1 435.6,64.1 436.6,64.2 437.6,64.2 438.6,64.3 439.6,64.4 440.6,64.4 441.6,64.5 442.6,64.5 443.6,64.5 444.6,64.5 445.6,64.5 446.6,64.5 447.6,64.5 448.6,64.5 449.6,64.6 450.6,64.6 451.6,64.6 452.6,64.6 453.6,64.6 454.6,64.6 455.6,64.6 456.6,64.6 457.6,64.6 458.6,64.6 459.6,64.6 460.6,64.6 461.6,64.6 462.6,64.7 463.6,64.7 464.6,64.7 465.6,64.7 466.6,64.7 467.6,64.7 468.6,64.7 469.6,64.7 470.6,64.7 471.6,64.7 472.6,64.7 473.6,64.7 474.6,64.7 475.6,64.7 476.6,64.8 477.6,64.8 478.6,64.8 479.6,64.8 480.6,64.8 481.6,64.8 482.6,64.8 482.6,99.3 481.6,98.8 480.6,98.3 479.6,97.8 478.6,97.3 477.6,96.8 476.6,96.3 475.6,95.8 474.6,95.4 473.6,95.3 472.6,95.1 471.6,95.0 470.6,94.8 469.6,94.7 468.6,94.5 467.6,94.4 466.6,94.2 465.6,94.1 464.6,94.0 463.6,94.0 462.6,94.0 461.6,93.9 460.6,93.9 459.6,93.9 458.6,93.9 457.6,93.9 456.6,93.9 455.6,93.8 454.6,93.8 453.6,93.8 452.6,93.8 451.6,93.8 450.6,93.7 449.6,93.7 448.6,93.7 447.6,93.7 446.6,93.7 445.6,93.7 444.6,93.6 443.6,93.6 442.6,93.6 441.6,93.6 440.6,93.5 439.6,93.5 438.6,93.4 437.6,93.4 436.6,93.3 435.6,93.3 434.6,93.3 433.6,93.2 432.6,93.2 431.6,93.1 430.6,93.1 429.6,93.0 428.6,93.0 427.6,92.9 426.6,92.9 425.6,92.8 424.6,92.7 423.6,92.6 422.6,92.4 421.6,92.3 420.6,92.1 419.6,91.5 418.6,90.4 417.6,89.8 416.6,90.0 415.6,90.9 414.6,92.8 413.6,93.4 412.6,92.2 411.6,91.4 410.6,91.3 409.6,91.2 408.6,91.1 407.6,91.3 406.6,92.0 405.6,92.8 404.6,93.4 403.6,93.8 402.6,94.3 401.6,94.8 400.6,95.2 399.6,95.5" fill="#3a55dc"/><polygon points="399.6,68.0 400.6,68.2 401.6,68.6 402.6,68.9 403.6,69.3 404.6,69.6 405.6,70.0 406.6,70.3 407.6,70.7 408.6,71.1 409.6,71.4 410.6,71.8 411.6,72.1 412.6,72.5 413.6,72.8 414.6,73.2 415.6,73.1 416.6,72.6 417.6,72.2 418.6,71.2 419.6,69.8 420.6,67.8 421.6,65.5 422.6,65.2 423.6,64.9 424.6,64.6 425.6,64.6 426.6,64.6 427.6,64.7 428.6,64.7 429.6,64.8 430.6,64.9 431.6,64.9 432.6,65.0 433.6,65.0 434.6,65.1 435.6,65.2 436.6,65.2 437.6,65.3 438.6,65.4 439.6,65.4 440.6,65.5 441.6,65.5 442.6,65.6 443.6,65.6 444.6,65.6 445.6,65.6 446.6,65.6 447.6,65.6 448.6,65.6 449.6,65.6 450.6,65.7 451.6,65.7 452.6,65.7 453.6,65.7 454.6,65.7 455.6,65.7 456.6,65.7 457.6,65.7 458.6,65.7 459.6,65.8 460.6,65.8 461.6,65.8 462.6,65.8 463.6,65.8 464.6,65.8 465.6,65.8 466.6,65.8 467.6,65.8 468.6,65.8 469.6,65.9 470.6,65.9 471.6,65.9 472.6,65.9 473.6,65.9 474.6,65.9 475.6,65.9 476.6,65.9 477.6,65.9 478.6,66.0 479.6,66.0 480.6,66.0 481.6,66.0 482.6,66.0 482.6,98.3 481.6,97.8 480.6,97.3 479.6,96.8 478.6,96.3 477.6,95.8 476.6,95.3 475.6,94.8 474.6,94.4 473.6,94.3 472.6,94.1 471.6,94.0 470.6,93.8 469.6,93.7 468.6,93.5 467.6,93.4 466.6,93.2 465.6,93.0 464.6,92.9 463.6,92.9 462.6,92.9 461.6,92.9 460.6,92.9 459.6,92.8 458.6,92.8 457.6,92.8 456.6,92.8 455.6,92.8 454.6,92.8 453.6,92.7 452.6,92.7 451.6,92.7 450.6,92.7 449.6,92.7 448.6,92.6 447.6,92.6 446.6,92.6 445.6,92.6 444.6,92.6 443.6,92.5 442.6,92.5 441.6,92.5 440.6,92.4 439.6,92.4 438.6,92.3 437.6,92.3 436.6,92.2 435.6,92.2 434.6,92.1 433.6,92.1 432.6,92.0 431.6,92.0 430.6,91.9 429.6,91.9 428.6,91.8 427.6,91.8 426.6,91.7 425.6,91.7 424.6,91.6 423.6,91.4 422.6,91.3 421.6,91.1 420.6,90.9 419.6,90.4 418.6,89.2 417.6,88.6 416.6,88.8 415.6,89.7 414.6,91.6 413.6,92.3 412.6,91.1 411.6,90.2 410.6,90.1 409.6,90.0 408.6,89.9 407.6,90.1 406.6,90.8 405.6,91.6 404.6,92.2 403.6,92.7 402.6,93.1 401.6,93.6 400.6,94.0 399.6,94.3" fill="#2b94dd"/><polygon points="399.6,69.0 400.6,69.2 401.6,69.6 402.6,69.9 403.6,70.2 404.6,70.6 405.6,70.9 406.6,71.3 407.6,71.6 408.6,72.0 409.6,72.3 410.6,72.7 411.6,73.0 412.6,73.3 413.6,73.7 414.6,74.0 415.6,73.9 416.6,73.5 417.6,73.0 418.6,72.0 419.6,70.7 420.6,68.6 421.6,66.3 422.6,66.0 423.6,65.7 424.6,65.4 425.6,65.3 426.6,65.4 427.6,65.5 428.6,65.5 429.6,65.6 430.6,65.6 431.6,65.7 432.6,65.8 433.6,65.8 434.6,65.9 435.6,66.0 436.6,66.0 437.6,66.1 438.6,66.1 439.6,66.2 440.6,66.3 441.6,66.3 442.6,66.4 443.6,66.4 444.6,66.4 445.6,66.4 446.6,66.4 447.6,66.4 448.6,66.4 449.6,66.4 450.6,66.5 451.6,66.5 452.6,66.5 453.6,66.5 454.6,66.5 455.6,66.5 456.6,66.5 457.6,66.5 458.6,66.5 459.6,66.5 460.6,66.6 461.6,66.6 462.6,66.6 463.6,66.6 464.6,66.6 465.6,66.6 466.6,66.6 467.6,66.6 468.6,66.6 469.6,66.7 470.6,66.7 471.6,66.7 472.6,66.7 473.6,66.7 474.6,66.7 475.6,66.7 476.6,66.7 477.6,66.7 478.6,66.8 479.6,66.8 480.6,66.8 481.6,66.8 482.6,66.8 482.6,97.5 481.6,97.0 480.6,96.5 479.6,96.0 478.6,95.5 477.6,95.0 476.6,94.4 475.6,93.9 474.6,93.6 473.6,93.4 472.6,93.3 471.6,93.1 470.6,92.9 469.6,92.8 468.6,92.6 467.6,92.5 466.6,92.3 465.6,92.1 464.6,92.0 463.6,92.0 462.6,92.0 461.6,92.0 460.6,91.9 459.6,91.9 458.6,91.9 457.6,91.9 456.6,91.8 455.6,91.8 454.6,91.8 453.6,91.8 452.6,91.7 451.6,91.7 450.6,91.7 449.6,91.7 448.6,91.6 447.6,91.6 446.6,91.6 445.6,91.5 444.6,91.5 443.6,91.5 442.6,91.5 441.6,91.4 440.6,91.4 439.6,91.3 438.6,91.3 437.6,91.2 436.6,91.2 435.6,91.1 434.6,91.0 433.6,91.0 432.6,90.9 431.6,90.9 430.6,90.8 429.6,90.8 428.6,90.7 427.6,90.7 426.6,90.6 425.6,90.5 424.6,90.4 423.6,90.3 422.6,90.1 421.6,89.9 420.6,89.8 419.6,89.2 418.6,88.0 417.6,87.4 416.6,87.6 415.6,88.5 414.6,90.4 413.6,91.1 412.6,89.8 411.6,89.0 410.6,88.8 409.6,88.7 408.6,88.6 407.6,88.9 406.6,89.6 405.6,90.3 404.6,90.9 403.6,91.4 402.6,91.8 401.6,92.3 400.6,92.7 399.6,93.0" fill="#22b1b6"/><polygon points="399.6,72.0 400.6,72.2 401.6,72.4 402.6,72.7 403.6,72.9 404.6,73.2 405.6,73.4 406.6,73.7 407.6,73.9 408.6,74.2 409.6,74.4 410.6,74.7 411.6,75.0 412.6,75.2 413.6,75.5 414.6,75.7 415.6,75.5 416.6,75.0 417.6,74.5 418.6,73.4 419.6,71.9 420.6,69.8 421.6,67.5 422.6,67.2 423.6,66.9 424.6,66.6 425.6,66.5 426.6,66.6 427.6,66.7 428.6,66.7 429.6,66.8 430.6,66.8 431.6,66.9 432.6,67.0 433.6,67.0 434.6,67.1 435.6,67.2 436.6,67.2 437.6,67.3 438.6,67.3 439.6,67.4 440.6,67.5 441.6,67.5 442.6,67.6 443.6,67.6 444.6,67.6 445.6,67.6 446.6,67.6 447.6,67.6 448.6,67.6 449.6,67.6 450.6,67.7 451.6,67.7 452.6,67.7 453.6,67.7 454.6,67.7 455.6,67.7 456.6,67.7 457.6,67.7 458.6,67.7 459.6,67.7 460.6,67.8 461.6,67.8 462.6,67.8 463.6,67.8 464.6,67.8 465.6,67.8 466.6,67.8 467.6,67.8 468.6,67.8 469.6,67.9 470.6,67.9 471.6,67.9 472.6,67.9 473.6,67.9 474.6,67.9 475.6,67.9 476.6,67.9 477.6,67.9 478.6,68.0 479.6,68.0 480.6,68.0 481.6,68.0 482.6,68.0 482.6,96.7 481.6,96.2 480.6,95.7 479.6,95.2 478.6,94.7 477.6,94.2 476.6,93.7 475.6,93.2 474.6,92.8 473.6,92.6 472.6,92.5 471.6,92.3 470.6,92.2 469.6,92.0 468.6,91.8 467.6,91.7 466.6,91.5 465.6,91.4 464.6,91.3 463.6,91.3 462.6,91.2 461.6,91.2 460.6,91.2 459.6,91.2 458.6,91.1 457.6,91.1 456.6,91.1 455.6,91.1 454.6,91.0 453.6,91.0 452.6,91.0 451.6,91.0 450.6,90.9 449.6,90.9 448.6,90.9 447.6,90.9 446.6,90.8 445.6,90.8 444.6,90.8 443.6,90.8 442.6,90.8 441.6,90.7 440.6,90.7 439.6,90.6 438.6,90.6 437.6,90.5 436.6,90.5 435.6,90.4 434.6,90.3 433.6,90.3 432.6,90.2 431.6,90.2 430.6,90.1 429.6,90.1 428.6,90.0 427.6,90.0 426.6,89.9 425.6,89.9 424.6,89.8 423.6,89.6 422.6,89.4 421.6,89.3 420.6,89.1 419.6,88.5 418.6,87.3 417.6,86.5 416.6,86.6 415.6,87.4 414.6,89.3 413.6,89.8 412.6,88.5 411.6,87.5 410.6,87.3 409.6,87.1 408.6,86.9 407.6,87.1 406.6,87.7 405.6,88.3 404.6,88.8 403.6,89.2 402.6,89.6 401.6,89.9 400.6,90.3 399.6,90.5" fill="#62be9c"/><polygon points="399.6,75.0 400.6,75.1 401.6,75.3 402.6,75.5 403.6,75.6 404.6,75.8 405.6,76.0 406.6,76.2 407.6,76.4 408.6,76.5 409.6,76.7 410.6,76.9 411.6,77.1 412.6,77.3 413.6,77.4 414.6,77.6 415.6,77.3 416.6,76.7 417.6,76.1 418.6,75.0 419.6,73.4 420.6,71.3 421.6,69.0 422.6,68.7 423.6,68.4 424.6,68.1 425.6,68.0 426.6,68.1 427.6,68.2 428.6,68.2 429.6,68.3 430.6,68.3 431.6,68.4 432.6,68.4 433.6,68.5 434.6,68.6 435.6,68.6 436.6,68.7 437.6,68.7 438.6,68.8 439.6,68.9 440.6,68.9 441.6,69.0 442.6,69.0 443.6,69.0 444.6,69.0 445.6,69.0 446.6,69.0 447.6,69.0 448.6,69.0 449.6,69.1 450.6,69.1 451.6,69.1 452.6,69.1 453.6,69.1 454.6,69.1 455.6,69.1 456.6,69.1 457.6,69.1 458.6,69.1 459.6,69.1 460.6,69.1 461.6,69.1 462.6,69.2 463.6,69.2 464.6,69.2 465.6,69.2 466.6,69.2 467.6,69.2 468.6,69.2 469.6,69.2 470.6,69.2 471.6,69.2 472.6,69.2 473.6,69.2 474.6,69.2 475.6,69.2 476.6,69.3 477.6,69.3 478.6,69.3 479.6,69.3 480.6,69.3 481.6,69.3 482.6,69.3 482.6,95.8 481.6,95.3 480.6,94.8 479.6,94.3 478.6,93.8 477.6,93.3 476.6,92.7 475.6,92.2 474.6,91.9 473.6,91.7 472.6,91.6 471.6,91.4 470.6,91.2 469.6,91.1 468.6,90.9 467.6,90.8 466.6,90.6 465.6,90.5 464.6,90.3 463.6,90.3 462.6,90.3 461.6,90.3 460.6,90.2 459.6,90.2 458.6,90.2 457.6,90.2 456.6,90.1 455.6,90.1 454.6,90.1 453.6,90.1 452.6,90.0 451.6,90.0 450.6,90.0 449.6,90.0 448.6,89.9 447.6,89.9 446.6,89.9 445.6,89.9 444.6,89.8 443.6,89.8 442.6,89.8 441.6,89.8 440.6,89.7 439.6,89.6 438.6,89.6 437.6,89.5 436.6,89.5 435.6,89.4 434.6,89.4 433.6,89.3 432.6,89.3 431.6,89.2 430.6,89.1 429.6,89.1 428.6,89.0 427.6,89.0 426.6,88.9 425.6,88.9 424.6,88.8 423.6,88.6 422.6,88.4 421.6,88.3 420.6,88.1 419.6,87.5 418.6,86.2 417.6,85.5 416.6,85.6 415.6,86.3 414.6,88.1 413.6,88.6 412.6,87.3 411.6,86.3 410.6,86.1 409.6,85.9 408.6,85.6 407.6,85.7 406.6,86.4 405.6,87.0 404.6,87.5 403.6,87.8 402.6,88.1 401.6,88.5 400.6,88.8 399.6,89.0" fill="#eebe3e"/><polygon points="400.0,78.0 401.0,77.9 402.0,77.8 403.0,77.7 404.0,77.6 405.0,77.5 406.0,77.4 407.0,77.3 408.0,77.2 409.0,77.1 410.0,77.0 411.0,76.9 412.0,76.8 413.0,76.7 414.0,76.6 415.0,76.5 416.0,76.4 417.0,76.3 418.0,76.2 419.0,76.1 420.0,76.0 421.0,75.8 422.0,75.7 423.0,75.5 424.0,75.4 425.0,75.2 426.0,75.1 427.0,75.0 428.0,74.8 429.0,74.7 430.0,74.5 431.0,74.3 432.0,74.2 433.0,74.0 434.0,73.9 435.0,73.8 436.0,73.6 437.0,73.5 438.0,73.3 439.0,73.2 440.0,73.0 441.0,73.0 442.0,73.0 443.0,72.9 444.0,72.9 445.0,72.9 446.0,72.9 447.0,72.8 448.0,72.8 449.0,72.8 450.0,72.8 451.0,72.7 452.0,72.7 453.0,72.7 454.0,72.7 455.0,72.7 456.0,72.6 457.0,72.6 458.0,72.6 459.0,72.6 460.0,72.5 461.0,72.5 462.0,72.5 463.0,72.5 464.0,72.4 465.0,72.4 466.0,72.4 467.0,72.4 468.0,72.3 469.0,72.3 470.0,72.3 471.0,72.3 472.0,72.3 473.0,72.2 474.0,72.2 475.0,72.2 476.0,72.2 477.0,72.1 478.0,72.1 479.0,72.1 480.0,72.1 481.0,72.0 482.0,72.0 483.0,72.0 483.0,86.0 482.0,86.0 481.0,86.1 480.0,86.1 479.0,86.2 478.0,86.2 477.0,86.3 476.0,86.3 475.0,86.4 474.0,86.4 473.0,86.5 472.0,86.5 471.0,86.6 470.0,86.6 469.0,86.7 468.0,86.7 467.0,86.7 466.0,86.8 465.0,86.8 464.0,86.9 463.0,86.9 462.0,87.0 461.0,87.0 460.0,87.1 459.0,87.1 458.0,87.2 457.0,87.2 456.0,87.3 455.0,87.3 454.0,87.3 453.0,87.4 452.0,87.4 451.0,87.5 450.0,87.5 449.0,87.6 448.0,87.6 447.0,87.7 446.0,87.7 445.0,87.8 444.0,87.8 443.0,87.9 442.0,87.9 441.0,88.0 440.0,88.0 439.0,88.0 438.0,88.0 437.0,88.0 436.0,88.0 435.0,88.0 434.0,88.0 433.0,88.0 432.0,88.0 431.0,88.0 430.0,88.0 429.0,88.0 428.0,88.0 427.0,88.0 426.0,88.0 425.0,88.0 424.0,88.0 423.0,88.0 422.0,88.0 421.0,88.0 420.0,88.0 419.0,88.0 418.0,87.9 417.0,87.8 416.0,87.8 415.0,87.8 414.0,87.7 413.0,87.7 412.0,87.6 411.0,87.5 410.0,87.5 409.0,87.5 408.0,87.4 407.0,87.3 406.0,87.3 405.0,87.2 404.0,87.2 403.0,87.2 402.0,87.1 401.0,87.0 400.0,87.0" fill="#f5d22c"/><polygon points="418.0,81.0 419.0,80.8 420.0,80.6 421.0,80.4 422.0,80.2 423.0,80.0 424.0,79.8 425.0,79.6 426.0,79.4 427.0,79.2 428.0,79.0 429.0,78.8 430.0,78.5 431.0,78.3 432.0,78.1 433.0,77.9 434.0,77.7 435.0,77.5 436.0,77.3 437.0,77.1 438.0,76.9 439.0,76.7 440.0,76.5 441.0,76.5 442.0,76.4 443.0,76.4 444.0,76.4 445.0,76.3 446.0,76.3 447.0,76.3 448.0,76.2 449.0,76.2 450.0,76.2 451.0,76.1 452.0,76.1 453.0,76.0 454.0,76.0 455.0,76.0 456.0,75.9 457.0,75.9 458.0,75.9 459.0,75.8 460.0,75.8 461.0,75.8 462.0,75.7 463.0,75.7 464.0,75.7 465.0,75.6 466.0,75.6 467.0,75.6 468.0,75.5 469.0,75.5 470.0,75.5 471.0,75.4 472.0,75.4 473.0,75.3 474.0,75.3 475.0,75.3 476.0,75.2 477.0,75.2 478.0,75.2 479.0,75.1 480.0,75.1 481.0,75.1 482.0,75.0 483.0,75.0 483.0,87.5 482.0,87.4 481.0,87.3 480.0,87.2 479.0,87.1 478.0,87.0 477.0,86.9 476.0,86.8 475.0,86.7 474.0,86.6 473.0,86.5 472.0,86.3 471.0,86.2 470.0,86.1 469.0,86.0 468.0,85.9 467.0,85.8 466.0,85.7 465.0,85.6 464.0,85.5 463.0,85.4 462.0,85.3 461.0,85.2 460.0,85.1 459.0,85.0 458.0,84.9 457.0,84.8 456.0,84.7 455.0,84.6 454.0,84.5 453.0,84.4 452.0,84.3 451.0,84.2 450.0,84.0 449.0,83.9 448.0,83.8 447.0,83.7 446.0,83.6 445.0,83.5 444.0,83.4 443.0,83.3 442.0,83.2 441.0,83.1 440.0,83.0 439.0,82.9 438.0,82.9 437.0,82.8 436.0,82.7 435.0,82.7 434.0,82.6 433.0,82.5 432.0,82.5 431.0,82.4 430.0,82.3 429.0,82.2 428.0,82.2 427.0,82.1 426.0,82.0 425.0,82.0 424.0,81.9 423.0,81.8 422.0,81.8 421.0,81.7 420.0,81.6 419.0,81.6 418.0,81.5" fill="#8dc474"/><polygon points="440.0,80.5 441.0,80.5 442.0,80.5 443.0,80.5 444.0,80.5 445.0,80.5 446.0,80.5 447.0,80.5 448.0,80.5 449.0,80.5 450.0,80.5 451.0,80.5 452.0,80.5 453.0,80.5 454.0,80.5 455.0,80.5 456.0,80.5 457.0,80.5 458.0,80.5 459.0,80.5 460.0,80.5 461.0,80.5 462.0,80.5 463.0,80.5 464.0,80.5 465.0,80.5 466.0,80.5 467.0,80.5 468.0,80.5 469.0,80.5 470.0,80.5 471.0,80.5 472.0,80.5 473.0,80.5 474.0,80.5 475.0,80.5 476.0,80.5 477.0,80.5 478.0,80.5 479.0,80.5 480.0,80.5 481.0,80.5 482.0,80.5 483.0,80.5 483.0,83.0 482.0,83.0 481.0,82.9 480.0,82.9 479.0,82.9 478.0,82.8 477.0,82.8 476.0,82.8 475.0,82.7 474.0,82.7 473.0,82.7 472.0,82.6 471.0,82.6 470.0,82.5 469.0,82.5 468.0,82.5 467.0,82.4 466.0,82.4 465.0,82.4 464.0,82.3 463.0,82.3 462.0,82.3 461.0,82.2 460.0,82.2 459.0,82.2 458.0,82.1 457.0,82.1 456.0,82.1 455.0,82.0 454.0,82.0 453.0,82.0 452.0,81.9 451.0,81.9 450.0,81.8 449.0,81.8 448.0,81.8 447.0,81.7 446.0,81.7 445.0,81.7 444.0,81.6 443.0,81.6 442.0,81.6 441.0,81.5 440.0,81.5" fill="#c0c253"/></g><line x1="443.5" y1="53.4" x2="459.4" y2="53.4" stroke="#4a50d8" stroke-width="0.9"/><circle cx="438" cy="54" r="0.7" fill="#6a70e0"/><polyline points="400.0,81.2 410.0,80.2 418.0,78.0 424.0,75.4 430.0,73.6 443.0,71.0 460.0,69.5 483.0,69.6" fill="none" stroke="#ff1006" stroke-width="1.35" stroke-linejoin="round"/>
</g>
<rect x="400.60" y="40.60" width="81.60" height="81.40" fill="none" stroke="#000" stroke-width="1.3"/>
<line x1="418.80" y1="40.60" x2="418.80" y2="42.60" stroke="#000" stroke-width="1"/>
<line x1="418.80" y1="122.00" x2="418.80" y2="120.00" stroke="#000" stroke-width="1"/>
<line x1="438.85" y1="40.60" x2="438.85" y2="42.60" stroke="#000" stroke-width="1"/>
<line x1="438.85" y1="122.00" x2="438.85" y2="120.00" stroke="#000" stroke-width="1"/>
<line x1="458.90" y1="40.60" x2="458.90" y2="42.60" stroke="#000" stroke-width="1"/>
<line x1="458.90" y1="122.00" x2="458.90" y2="120.00" stroke="#000" stroke-width="1"/>
<line x1="478.95" y1="40.60" x2="478.95" y2="42.60" stroke="#000" stroke-width="1"/>
<line x1="478.95" y1="122.00" x2="478.95" y2="120.00" stroke="#000" stroke-width="1"/>
<line x1="400.60" y1="53.89" x2="402.60" y2="53.89" stroke="#000" stroke-width="1"/>
<line x1="482.20" y1="53.89" x2="480.20" y2="53.89" stroke="#000" stroke-width="1"/>
<text x="397.40" y="58.49" font-size="11" text-anchor="end" >20</text>
<line x1="400.60" y1="81.30" x2="402.60" y2="81.30" stroke="#000" stroke-width="1"/>
<line x1="482.20" y1="81.30" x2="480.20" y2="81.30" stroke="#000" stroke-width="1"/>
<text x="397.40" y="85.90" font-size="11" text-anchor="end" >0</text>
<line x1="400.60" y1="108.71" x2="402.60" y2="108.71" stroke="#000" stroke-width="1"/>
<line x1="482.20" y1="108.71" x2="480.20" y2="108.71" stroke="#000" stroke-width="1"/>
<text x="397.40" y="113.31" font-size="11" text-anchor="end" >-20</text>
<text x="404.70" y="115.10" font-size="11" text-anchor="start" >(d)</text>
<text x="0" y="0" font-size="11" text-anchor="middle" style="stroke-width:0.15px" transform="translate(380.40,83.30) rotate(-90)">θ (°)</text>
<g clip-path="url(#cp31)">
<g filter="url(#bl)"><polygon points="399.6,161.9 400.6,162.2 401.6,162.6 402.6,163.1 403.6,163.6 404.6,164.0 405.6,164.4 406.6,164.9 407.6,165.3 408.6,165.7 409.6,166.1 410.6,166.5 411.6,166.9 412.6,167.3 413.6,167.7 414.6,168.1 415.6,168.6 416.6,169.2 417.6,169.8 418.6,169.5 419.6,168.8 420.6,168.0 421.6,167.5 422.6,167.2 423.6,166.9 424.6,166.5 425.6,166.2 426.6,165.9 427.6,165.6 428.6,165.3 429.6,164.9 430.6,164.7 431.6,164.4 432.6,164.2 433.6,163.9 434.6,163.7 435.6,163.1 436.6,162.4 437.6,161.6 438.6,159.7 439.6,157.1 440.6,155.4 441.6,154.4 442.6,153.5 443.6,152.5 444.6,152.3 445.6,152.7 446.6,153.1 447.6,153.5 448.6,154.0 449.6,154.4 450.6,154.9 451.6,155.4 452.6,155.5 453.6,155.4 454.6,155.2 455.6,155.1 456.6,154.9 457.6,154.8 458.6,154.6 459.6,154.5 460.6,154.4 461.6,154.4 462.6,154.4 463.6,154.4 464.6,154.4 465.6,154.4 466.6,154.4 467.6,154.4 468.6,154.4 469.6,154.4 470.6,154.1 471.6,153.7 472.6,153.2 473.6,152.7 474.6,152.3 475.6,151.8 476.6,151.3 477.6,150.8 478.6,150.3 479.6,149.9 480.6,149.4 481.6,148.9 482.6,148.4 482.6,216.6 481.6,215.7 480.6,214.8 479.6,214.2 478.6,213.8 477.6,213.4 476.6,213.0 475.6,212.7 474.6,212.3 473.6,211.9 472.6,211.6 471.6,211.2 470.6,210.8 469.6,210.6 468.6,210.6 467.6,210.6 466.6,210.6 465.6,210.6 464.6,210.6 463.6,210.6 462.6,210.6 461.6,210.6 460.6,210.6 459.6,210.5 458.6,210.2 457.6,209.9 456.6,209.6 455.6,209.3 454.6,209.0 453.6,208.7 452.6,208.4 451.6,208.1 450.6,207.8 449.6,207.4 448.6,206.8 447.6,206.2 446.6,205.6 445.6,205.1 444.6,204.5 443.6,203.9 442.6,203.3 441.6,202.7 440.6,202.1 439.6,201.4 438.6,200.7 437.6,200.2 436.6,199.9 435.6,199.6 434.6,199.3 433.6,199.0 432.6,198.7 431.6,198.2 430.6,197.3 429.6,196.4 428.6,195.6 427.6,194.7 426.6,193.8 425.6,192.9 424.6,191.9 423.6,190.9 422.6,190.0 421.6,189.0 420.6,188.1 419.6,187.2 418.6,186.3 417.6,185.5 416.6,185.1 415.6,184.7 414.6,184.6 413.6,185.0 412.6,185.4 411.6,185.7 410.6,186.1 409.6,186.5 408.6,187.2 407.6,187.8 406.6,188.4 405.6,189.0 404.6,190.0 403.6,191.5 402.6,193.0 401.6,194.6 400.6,196.1 399.6,197.0" fill="#3a55dc"/><polygon points="399.6,163.1 400.6,163.4 401.6,163.8 402.6,164.3 403.6,164.8 404.6,165.2 405.6,165.6 406.6,166.1 407.6,166.5 408.6,166.9 409.6,167.3 410.6,167.7 411.6,168.1 412.6,168.5 413.6,168.9 414.6,169.3 415.6,169.8 416.6,170.4 417.6,171.0 418.6,170.7 419.6,170.0 420.6,169.2 421.6,168.7 422.6,168.4 423.6,168.1 424.6,167.7 425.6,167.4 426.6,167.1 427.6,166.8 428.6,166.5 429.6,166.1 430.6,165.9 431.6,165.6 432.6,165.4 433.6,165.1 434.6,164.9 435.6,164.3 436.6,163.6 437.6,162.8 438.6,160.9 439.6,158.3 440.6,156.6 441.6,155.6 442.6,154.7 443.6,153.7 444.6,153.5 445.6,153.9 446.6,154.3 447.6,154.7 448.6,155.2 449.6,155.6 450.6,156.1 451.6,156.6 452.6,156.7 453.6,156.6 454.6,156.4 455.6,156.3 456.6,156.1 457.6,156.0 458.6,155.8 459.6,155.7 460.6,155.6 461.6,155.6 462.6,155.6 463.6,155.6 464.6,155.6 465.6,155.6 466.6,155.6 467.6,155.6 468.6,155.6 469.6,155.6 470.6,155.3 471.6,154.9 472.6,154.4 473.6,153.9 474.6,153.5 475.6,153.0 476.6,152.5 477.6,152.0 478.6,151.5 479.6,151.1 480.6,150.6 481.6,150.1 482.6,149.6 482.6,206.7 481.6,205.9 480.6,205.0 479.6,204.4 478.6,204.2 477.6,203.9 476.6,203.6 475.6,203.3 474.6,203.0 473.6,202.7 472.6,202.5 471.6,202.2 470.6,201.9 469.6,201.8 468.6,201.9 467.6,201.9 466.6,202.0 465.6,202.1 464.6,202.2 463.6,202.3 462.6,202.4 461.6,202.5 460.6,202.5 459.6,202.5 458.6,202.4 457.6,202.3 456.6,202.2 455.6,202.1 454.6,201.9 453.6,201.8 452.6,201.7 451.6,201.6 450.6,201.4 449.6,201.2 448.6,200.8 447.6,200.4 446.6,200.0 445.6,199.6 444.6,199.2 443.6,198.8 442.6,198.4 441.6,198.0 440.6,197.4 439.6,196.9 438.6,196.3 437.6,195.9 436.6,195.6 435.6,195.4 434.6,195.2 433.6,195.0 432.6,194.7 431.6,194.3 430.6,193.5 429.6,192.7 428.6,191.9 427.6,191.1 426.6,190.3 425.6,189.4 424.6,188.6 423.6,187.7 422.6,186.8 421.6,185.9 420.6,185.1 419.6,184.2 418.6,183.2 417.6,182.4 416.6,181.9 415.6,181.4 414.6,181.2 413.6,181.5 412.6,181.8 411.6,182.1 410.6,182.4 409.6,182.8 408.6,183.3 407.6,183.9 406.6,184.4 405.6,184.9 404.6,185.9 403.6,187.3 402.6,188.7 401.6,190.2 400.6,191.6 399.6,192.5" fill="#2b94dd"/><polygon points="399.6,164.1 400.6,164.4 401.6,164.8 402.6,165.3 403.6,165.7 404.6,166.2 405.6,166.6 406.6,167.0 407.6,167.4 408.6,167.8 409.6,168.2 410.6,168.6 411.6,169.0 412.6,169.5 413.6,169.9 414.6,170.3 415.6,170.8 416.6,171.3 417.6,171.9 418.6,171.6 419.6,170.9 420.6,170.1 421.6,169.6 422.6,169.3 423.6,168.9 424.6,168.6 425.6,168.3 426.6,168.0 427.6,167.6 428.6,167.3 429.6,167.0 430.6,166.7 431.6,166.5 432.6,166.2 433.6,166.0 434.6,165.7 435.6,165.2 436.6,164.4 437.6,163.6 438.6,161.7 439.6,159.1 440.6,157.4 441.6,156.5 442.6,155.5 443.6,154.5 444.6,154.4 445.6,154.8 446.6,155.1 447.6,155.6 448.6,156.1 449.6,156.6 450.6,157.1 451.6,157.5 452.6,157.7 453.6,157.5 454.6,157.4 455.6,157.2 456.6,157.1 457.6,157.0 458.6,156.8 459.6,156.7 460.6,156.6 461.6,156.7 462.6,156.7 463.6,156.7 464.6,156.7 465.6,156.7 466.6,156.7 467.6,156.7 468.6,156.7 469.6,156.7 470.6,156.5 471.6,156.0 472.6,155.6 473.6,155.1 474.6,154.7 475.6,154.2 476.6,153.7 477.6,153.3 478.6,152.8 479.6,152.3 480.6,151.8 481.6,151.4 482.6,150.9 482.6,204.7 481.6,203.9 480.6,203.0 479.6,202.4 478.6,202.2 477.6,201.9 476.6,201.6 475.6,201.3 474.6,201.0 473.6,200.7 472.6,200.5 471.6,200.2 470.6,199.9 469.6,199.8 468.6,199.9 467.6,199.9 466.6,200.0 465.6,200.1 464.6,200.2 463.6,200.3 462.6,200.4 461.6,200.5 460.6,200.5 459.6,200.5 458.6,200.4 457.6,200.3 456.6,200.2 455.6,200.1 454.6,199.9 453.6,199.8 452.6,199.7 451.6,199.6 450.6,199.4 449.6,199.2 448.6,198.8 447.6,198.4 446.6,198.0 445.6,197.6 444.6,197.2 443.6,196.8 442.6,196.4 441.6,196.0 440.6,195.4 439.6,194.9 438.6,194.3 437.6,193.9 436.6,193.7 435.6,193.5 434.6,193.3 433.6,193.1 432.6,192.9 431.6,192.5 430.6,191.7 429.6,191.0 428.6,190.2 427.6,189.5 426.6,188.7 425.6,187.8 424.6,186.9 423.6,186.1 422.6,185.2 421.6,184.4 420.6,183.5 419.6,182.7 418.6,181.7 417.6,180.9 416.6,180.4 415.6,179.9 414.6,179.7 413.6,180.0 412.6,180.3 411.6,180.6 410.6,180.9 409.6,181.3 408.6,181.8 407.6,182.4 406.6,182.9 405.6,183.4 404.6,184.4 403.6,185.8 402.6,187.2 401.6,188.7 400.6,190.1 399.6,191.0" fill="#22b1b6"/><polygon points="399.6,165.7 400.6,166.0 401.6,166.4 402.6,166.9 403.6,167.4 404.6,167.8 405.6,168.2 406.6,168.7 407.6,169.1 408.6,169.5 409.6,169.9 410.6,170.3 411.6,170.7 412.6,171.1 413.6,171.5 414.6,171.9 415.6,172.4 416.6,173.0 417.6,173.6 418.6,173.3 419.6,172.6 420.6,171.8 421.6,171.3 422.6,171.0 423.6,170.7 424.6,170.3 425.6,170.0 426.6,169.7 427.6,169.4 428.6,169.1 429.6,168.7 430.6,168.5 431.6,168.2 432.6,168.0 433.6,167.7 434.6,167.5 435.6,166.9 436.6,166.2 437.6,165.4 438.6,163.5 439.6,160.9 440.6,159.3 441.6,158.3 442.6,157.4 443.6,156.5 444.6,156.4 445.6,156.8 446.6,157.2 447.6,157.7 448.6,158.3 449.6,158.8 450.6,159.4 451.6,159.9 452.6,160.1 453.6,160.0 454.6,159.9 455.6,159.8 456.6,159.7 457.6,159.6 458.6,159.5 459.6,159.4 460.6,159.4 461.6,159.5 462.6,159.5 463.6,159.6 464.6,159.6 465.6,159.6 466.6,159.7 467.6,159.7 468.6,159.8 469.6,159.8 470.6,159.6 471.6,159.2 472.6,158.8 473.6,158.3 474.6,157.9 475.6,157.5 476.6,157.0 477.6,156.6 478.6,156.2 479.6,155.7 480.6,155.3 481.6,154.8 482.6,154.4 482.6,202.7 481.6,201.9 480.6,201.0 479.6,200.4 478.6,200.2 477.6,199.9 476.6,199.6 475.6,199.3 474.6,199.0 473.6,198.7 472.6,198.5 471.6,198.2 470.6,197.9 469.6,197.8 468.6,197.9 467.6,197.9 466.6,198.0 465.6,198.1 464.6,198.2 463.6,198.3 462.6,198.4 461.6,198.5 460.6,198.5 459.6,198.5 458.6,198.4 457.6,198.3 456.6,198.2 455.6,198.1 454.6,197.9 453.6,197.8 452.6,197.7 451.6,197.6 450.6,197.4 449.6,197.2 448.6,196.8 447.6,196.4 446.6,196.0 445.6,195.6 444.6,195.2 443.6,194.8 442.6,194.4 441.6,194.0 440.6,193.4 439.6,192.9 438.6,192.4 437.6,192.0 436.6,191.8 435.6,191.6 434.6,191.5 433.6,191.3 432.6,191.1 431.6,190.7 430.6,190.0 429.6,189.2 428.6,188.5 427.6,187.8 426.6,187.0 425.6,186.2 424.6,185.3 423.6,184.5 422.6,183.7 421.6,182.8 420.6,182.0 419.6,181.1 418.6,180.1 417.6,179.3 416.6,178.8 415.6,178.3 414.6,178.1 413.6,178.4 412.6,178.6 411.6,178.9 410.6,179.1 409.6,179.5 408.6,180.0 407.6,180.5 406.6,181.1 405.6,181.6 404.6,182.5 403.6,183.9 402.6,185.3 401.6,186.7 400.6,188.1 399.6,189.0" fill="#5cbe9e"/><polygon points="399.6,167.4 400.6,167.7 401.6,168.1 402.6,168.6 403.6,169.1 404.6,169.5 405.6,169.9 406.6,170.4 407.6,170.8 408.6,171.2 409.6,171.6 410.6,172.0 411.6,172.4 412.6,172.8 413.6,173.2 414.6,173.6 415.6,174.1 416.6,174.7 417.6,175.3 418.6,175.0 419.6,174.3 420.6,173.5 421.6,173.0 422.6,172.7 423.6,172.4 424.6,172.0 425.6,171.7 426.6,171.4 427.6,171.1 428.6,170.8 429.6,170.4 430.6,170.2 431.6,169.9 432.6,169.7 433.6,169.4 434.6,169.2 435.6,168.6 436.6,167.9 437.6,167.1 438.6,165.2 439.6,162.6 440.6,161.0 441.6,160.1 442.6,159.2 443.6,158.3 444.6,158.3 445.6,158.7 446.6,159.2 447.6,159.7 448.6,160.3 449.6,160.9 450.6,161.5 451.6,162.1 452.6,162.3 453.6,162.2 454.6,162.2 455.6,162.1 456.6,162.1 457.6,162.0 458.6,162.0 459.6,161.9 460.6,161.9 461.6,162.0 462.6,162.0 463.6,162.1 464.6,162.1 465.6,162.1 466.6,162.2 467.6,162.2 468.6,162.3 469.6,162.3 470.6,162.1 471.6,161.7 472.6,161.3 473.6,160.8 474.6,160.4 475.6,160.0 476.6,159.5 477.6,159.1 478.6,158.7 479.6,158.2 480.6,157.8 481.6,157.3 482.6,156.9 482.6,200.7 481.6,199.9 480.6,199.1 479.6,198.5 478.6,198.3 477.6,198.0 476.6,197.7 475.6,197.5 474.6,197.2 473.6,197.0 472.6,196.7 471.6,196.4 470.6,196.2 469.6,196.1 468.6,196.2 467.6,196.3 466.6,196.4 465.6,196.5 464.6,196.6 463.6,196.7 462.6,196.8 461.6,196.9 460.6,197.0 459.6,197.0 458.6,196.9 457.6,196.8 456.6,196.7 455.6,196.6 454.6,196.4 453.6,196.3 452.6,196.2 451.6,196.1 450.6,195.9 449.6,195.7 448.6,195.3 447.6,194.9 446.6,194.5 445.6,194.1 444.6,193.7 443.6,193.3 442.6,192.9 441.6,192.5 440.6,191.9 439.6,191.4 438.6,190.9 437.6,190.5 436.6,190.3 435.6,190.1 434.6,190.0 433.6,189.8 432.6,189.6 431.6,189.2 430.6,188.5 429.6,187.7 428.6,187.0 427.6,186.3 426.6,185.5 425.6,184.7 424.6,183.8 423.6,183.0 422.6,182.2 421.6,181.3 420.6,180.5 419.6,179.6 418.6,178.6 417.6,177.8 416.6,177.3 415.6,176.8 414.6,176.6 413.6,176.9 412.6,177.1 411.6,177.4 410.6,177.6 409.6,178.0 408.6,178.5 407.6,179.0 406.6,179.6 405.6,180.1 404.6,181.0 403.6,182.4 402.6,183.8 401.6,185.2 400.6,186.6 399.6,187.5" fill="#aec256"/><polygon points="400.0,173.0 401.0,172.9 402.0,172.8 403.0,172.7 404.0,172.6 405.0,172.5 406.0,172.4 407.0,172.3 408.0,172.2 409.0,172.1 410.0,172.0 411.0,171.9 412.0,171.8 413.0,171.7 414.0,171.6 415.0,171.5 416.0,171.4 417.0,171.3 418.0,171.2 419.0,171.1 420.0,171.0 421.0,170.8 422.0,170.6 423.0,170.4 424.0,170.2 425.0,170.0 426.0,169.8 427.0,169.6 428.0,169.4 429.0,169.2 430.0,169.0 431.0,168.8 432.0,168.6 433.0,168.4 434.0,168.2 435.0,168.0 436.0,167.8 437.0,167.6 438.0,167.4 439.0,167.2 440.0,167.0 441.0,166.9 442.0,166.8 443.0,166.7 444.0,166.6 445.0,166.5 446.0,166.4 447.0,166.3 448.0,166.3 449.0,166.2 450.0,166.1 451.0,166.0 452.0,165.9 453.0,165.8 454.0,165.7 455.0,165.6 456.0,165.5 457.0,165.4 458.0,165.3 459.0,165.2 460.0,165.1 461.0,165.0 462.0,165.0 463.0,164.9 464.0,164.8 465.0,164.7 466.0,164.6 467.0,164.5 468.0,164.4 469.0,164.3 470.0,164.2 471.0,164.1 472.0,164.0 473.0,163.9 474.0,163.8 475.0,163.7 476.0,163.7 477.0,163.6 478.0,163.5 479.0,163.4 480.0,163.3 481.0,163.2 482.0,163.1 483.0,163.0 483.0,198.0 482.0,197.9 481.0,197.8 480.0,197.7 479.0,197.7 478.0,197.6 477.0,197.5 476.0,197.4 475.0,197.3 474.0,197.2 473.0,197.1 472.0,197.0 471.0,197.0 470.0,196.9 469.0,196.8 468.0,196.7 467.0,196.6 466.0,196.5 465.0,196.4 464.0,196.3 463.0,196.3 462.0,196.2 461.0,196.1 460.0,196.0 459.0,195.5 458.0,195.0 457.0,194.5 456.0,194.0 455.0,193.5 454.0,193.0 453.0,192.5 452.0,192.0 451.0,191.5 450.0,191.0 449.0,190.5 448.0,190.0 447.0,189.5 446.0,189.0 445.0,188.5 444.0,188.0 443.0,187.5 442.0,187.0 441.0,186.5 440.0,186.0 439.0,185.7 438.0,185.3 437.0,184.9 436.0,184.6 435.0,184.2 434.0,183.9 433.0,183.6 432.0,183.2 431.0,182.8 430.0,182.5 429.0,182.2 428.0,181.8 427.0,181.4 426.0,181.1 425.0,180.8 424.0,180.4 423.0,180.1 422.0,179.7 421.0,179.3 420.0,179.0 419.0,179.2 418.0,179.3 417.0,179.4 416.0,179.6 415.0,179.8 414.0,179.9 413.0,180.1 412.0,180.2 411.0,180.3 410.0,180.5 409.0,180.7 408.0,180.8 407.0,180.9 406.0,181.1 405.0,181.2 404.0,181.4 403.0,181.6 402.0,181.7 401.0,181.8 400.0,182.0" fill="#f0c23c"/><polygon points="420.0,177.0 421.0,176.8 422.0,176.5 423.0,176.2 424.0,176.0 425.0,175.8 426.0,175.5 427.0,175.2 428.0,175.0 429.0,174.8 430.0,174.5 431.0,174.2 432.0,174.0 433.0,173.8 434.0,173.5 435.0,173.2 436.0,173.0 437.0,172.8 438.0,172.5 439.0,172.2 440.0,172.0 441.0,171.9 442.0,171.8 443.0,171.7 444.0,171.6 445.0,171.5 446.0,171.4 447.0,171.3 448.0,171.2 449.0,171.1 450.0,171.0 451.0,170.9 452.0,170.8 453.0,170.7 454.0,170.6 455.0,170.5 456.0,170.4 457.0,170.3 458.0,170.2 459.0,170.1 460.0,170.0 461.0,169.9 462.0,169.8 463.0,169.7 464.0,169.7 465.0,169.6 466.0,169.5 467.0,169.4 468.0,169.3 469.0,169.2 470.0,169.1 471.0,169.0 472.0,169.0 473.0,168.9 474.0,168.8 475.0,168.7 476.0,168.6 477.0,168.5 478.0,168.4 479.0,168.3 480.0,168.3 481.0,168.2 482.0,168.1 483.0,168.0 483.0,186.0 482.0,186.0 481.0,185.9 480.0,185.9 479.0,185.8 478.0,185.8 477.0,185.7 476.0,185.7 475.0,185.7 474.0,185.6 473.0,185.6 472.0,185.5 471.0,185.5 470.0,185.4 469.0,185.4 468.0,185.3 467.0,185.3 466.0,185.3 465.0,185.2 464.0,185.2 463.0,185.1 462.0,185.1 461.0,185.0 460.0,185.0 459.0,184.8 458.0,184.7 457.0,184.6 456.0,184.4 455.0,184.2 454.0,184.1 453.0,183.9 452.0,183.8 451.0,183.7 450.0,183.5 449.0,183.3 448.0,183.2 447.0,183.1 446.0,182.9 445.0,182.8 444.0,182.6 443.0,182.4 442.0,182.3 441.0,182.2 440.0,182.0 439.0,181.8 438.0,181.6 437.0,181.4 436.0,181.2 435.0,181.0 434.0,180.8 433.0,180.6 432.0,180.4 431.0,180.2 430.0,180.0 429.0,179.8 428.0,179.6 427.0,179.4 426.0,179.2 425.0,179.0 424.0,178.8 423.0,178.6 422.0,178.4 421.0,178.2 420.0,178.0" fill="#96c264"/><polygon points="440.0,168.0 441.0,167.9 442.0,167.8 443.0,167.7 444.0,167.6 445.0,167.5 446.0,167.4 447.0,167.3 448.0,167.2 449.0,167.1 450.0,167.0 451.0,166.9 452.0,166.8 453.0,166.7 454.0,166.6 455.0,166.5 456.0,166.4 457.0,166.3 458.0,166.2 459.0,166.1 460.0,166.0 461.0,165.9 462.0,165.8 463.0,165.7 464.0,165.7 465.0,165.6 466.0,165.5 467.0,165.4 468.0,165.3 469.0,165.2 470.0,165.1 471.0,165.0 472.0,165.0 473.0,164.9 474.0,164.8 475.0,164.7 476.0,164.6 477.0,164.5 478.0,164.4 479.0,164.3 480.0,164.3 481.0,164.2 482.0,164.1 483.0,164.0 483.0,168.0 482.0,168.1 481.0,168.2 480.0,168.3 479.0,168.3 478.0,168.4 477.0,168.5 476.0,168.6 475.0,168.7 474.0,168.8 473.0,168.9 472.0,169.0 471.0,169.0 470.0,169.1 469.0,169.2 468.0,169.3 467.0,169.4 466.0,169.5 465.0,169.6 464.0,169.7 463.0,169.7 462.0,169.8 461.0,169.9 460.0,170.0 459.0,170.1 458.0,170.2 457.0,170.3 456.0,170.4 455.0,170.5 454.0,170.6 453.0,170.7 452.0,170.8 451.0,170.9 450.0,171.0 449.0,171.1 448.0,171.2 447.0,171.3 446.0,171.4 445.0,171.5 444.0,171.6 443.0,171.7 442.0,171.8 441.0,171.9 440.0,172.0" fill="#c4c24e"/><polygon points="400.0,177.0 401.0,176.9 402.0,176.8 403.0,176.7 404.0,176.6 405.0,176.5 406.0,176.4 407.0,176.3 408.0,176.2 409.0,176.1 410.0,176.0 411.0,175.9 412.0,175.8 413.0,175.7 414.0,175.6 415.0,175.5 416.0,175.4 417.0,175.3 418.0,175.2 419.0,175.1 420.0,175.0 421.0,175.1 422.0,175.1 423.0,175.2 424.0,175.2 425.0,175.2 426.0,175.3 427.0,175.3 428.0,175.4 429.0,175.4 430.0,175.5 431.0,175.6 432.0,175.6 433.0,175.7 434.0,175.7 435.0,175.8 436.0,175.8 437.0,175.8 438.0,175.9 439.0,175.9 440.0,176.0 441.0,176.0 442.0,176.1 443.0,176.1 444.0,176.2 445.0,176.2 446.0,176.3 447.0,176.3 448.0,176.4 449.0,176.4 450.0,176.5 451.0,176.5 452.0,176.6 453.0,176.6 454.0,176.7 455.0,176.7 456.0,176.7 457.0,176.8 458.0,176.8 459.0,176.9 460.0,176.9 461.0,177.0 462.0,177.0 463.0,177.1 464.0,177.1 465.0,177.2 466.0,177.2 467.0,177.3 468.0,177.3 469.0,177.3 470.0,177.4 471.0,177.4 472.0,177.5 473.0,177.5 474.0,177.6 475.0,177.6 476.0,177.7 477.0,177.7 478.0,177.8 479.0,177.8 480.0,177.9 481.0,177.9 482.0,178.0 483.0,178.0 483.0,178.4 482.0,178.4 481.0,178.3 480.0,178.3 479.0,178.3 478.0,178.2 477.0,178.2 476.0,178.2 475.0,178.1 474.0,178.1 473.0,178.1 472.0,178.0 471.0,178.0 470.0,178.0 469.0,177.9 468.0,177.9 467.0,177.9 466.0,177.8 465.0,177.8 464.0,177.8 463.0,177.7 462.0,177.7 461.0,177.7 460.0,177.7 459.0,177.6 458.0,177.6 457.0,177.6 456.0,177.5 455.0,177.5 454.0,177.5 453.0,177.4 452.0,177.4 451.0,177.4 450.0,177.3 449.0,177.3 448.0,177.3 447.0,177.2 446.0,177.2 445.0,177.2 444.0,177.1 443.0,177.1 442.0,177.1 441.0,177.0 440.0,177.0 439.0,177.0 438.0,177.0 437.0,176.9 436.0,176.9 435.0,176.9 434.0,176.9 433.0,176.9 432.0,176.8 431.0,176.8 430.0,176.8 429.0,176.8 428.0,176.8 427.0,176.7 426.0,176.7 425.0,176.7 424.0,176.7 423.0,176.7 422.0,176.6 421.0,176.6 420.0,176.6 419.0,176.7 418.0,176.8 417.0,176.9 416.0,177.0 415.0,177.1 414.0,177.2 413.0,177.3 412.0,177.4 411.0,177.5 410.0,177.6 409.0,177.7 408.0,177.8 407.0,177.9 406.0,178.0 405.0,178.1 404.0,178.2 403.0,178.3 402.0,178.4 401.0,178.5 400.0,178.6" fill="#e8d050"/><polyline points="403.0,193.0 412.0,189.0" fill="none" stroke="#ffffff" stroke-width="0.9" opacity="0.85"/><polyline points="425.0,195.0 436.0,201.5" fill="none" stroke="#ffffff" stroke-width="0.9" opacity="0.85"/><polyline points="443.0,204.0 465.0,205.5" fill="none" stroke="#ffffff" stroke-width="0.9" opacity="0.85"/><polyline points="450.0,208.0 470.0,209.0" fill="none" stroke="#ffffff" stroke-width="0.9" opacity="0.85"/><polyline points="460.0,206.5 482.0,208.0" fill="none" stroke="#ffffff" stroke-width="0.9" opacity="0.85"/><polyline points="470.0,211.0 482.0,213.5" fill="none" stroke="#ffffff" stroke-width="0.9" opacity="0.85"/><polyline points="430.0,198.0 440.0,203.5" fill="none" stroke="#ffffff" stroke-width="0.9" opacity="0.85"/></g><polyline points="400.0,177.5 413.0,176.3 420.0,174.0 430.0,170.6 437.0,168.8 442.0,168.2 447.0,166.5 452.0,164.2 465.0,164.8 483.0,162.5" fill="none" stroke="#ff1006" stroke-width="1.35" stroke-linejoin="round"/><line x1="452.5" y1="136.9" x2="452.5" y2="218.5" stroke="#111" stroke-width="1.2" stroke-dasharray="3.5,1.7"/>
</g>
<rect x="400.60" y="136.90" width="81.60" height="81.60" fill="none" stroke="#000" stroke-width="1.3"/>
<line x1="418.80" y1="136.90" x2="418.80" y2="138.90" stroke="#000" stroke-width="1"/>
<line x1="418.80" y1="218.50" x2="418.80" y2="216.50" stroke="#000" stroke-width="1"/>
<line x1="438.85" y1="136.90" x2="438.85" y2="138.90" stroke="#000" stroke-width="1"/>
<line x1="438.85" y1="218.50" x2="438.85" y2="216.50" stroke="#000" stroke-width="1"/>
<line x1="458.90" y1="136.90" x2="458.90" y2="138.90" stroke="#000" stroke-width="1"/>
<line x1="458.90" y1="218.50" x2="458.90" y2="216.50" stroke="#000" stroke-width="1"/>
<line x1="478.95" y1="136.90" x2="478.95" y2="138.90" stroke="#000" stroke-width="1"/>
<line x1="478.95" y1="218.50" x2="478.95" y2="216.50" stroke="#000" stroke-width="1"/>
<line x1="400.60" y1="150.23" x2="402.60" y2="150.23" stroke="#000" stroke-width="1"/>
<line x1="482.20" y1="150.23" x2="480.20" y2="150.23" stroke="#000" stroke-width="1"/>
<text x="397.40" y="154.83" font-size="11" text-anchor="end" >20</text>
<line x1="400.60" y1="177.70" x2="402.60" y2="177.70" stroke="#000" stroke-width="1"/>
<line x1="482.20" y1="177.70" x2="480.20" y2="177.70" stroke="#000" stroke-width="1"/>
<text x="397.40" y="182.30" font-size="11" text-anchor="end" >0</text>
<line x1="400.60" y1="205.17" x2="402.60" y2="205.17" stroke="#000" stroke-width="1"/>
<line x1="482.20" y1="205.17" x2="480.20" y2="205.17" stroke="#000" stroke-width="1"/>
<text x="397.40" y="209.77" font-size="11" text-anchor="end" >-20</text>
<text x="404.70" y="211.60" font-size="11" text-anchor="start" >(i)</text>
<text x="0" y="0" font-size="11" text-anchor="middle" style="stroke-width:0.15px" transform="translate(380.40,179.70) rotate(-90)">θ (°)</text>
<g clip-path="url(#cp32)">
<g filter="url(#bl)"><polygon points="399.6,258.4 400.6,258.4 401.6,258.4 402.6,258.4 403.6,258.4 404.6,258.4 405.6,258.4 406.6,258.4 407.6,258.4 408.6,259.3 409.6,260.8 410.6,261.6 411.6,262.0 412.6,262.4 413.6,262.8 414.6,263.2 415.6,263.6 416.6,264.0 417.6,264.3 418.6,264.4 419.6,264.2 420.6,264.0 421.6,263.8 422.6,263.6 423.6,263.5 424.6,263.3 425.6,263.0 426.6,262.8 427.6,262.5 428.6,262.3 429.6,262.0 430.6,261.8 431.6,261.5 432.6,260.9 433.6,260.1 434.6,259.3 435.6,258.3 436.6,257.1 437.6,255.9 438.6,254.5 439.6,253.0 440.6,251.4 441.6,249.9 442.6,249.1 443.6,248.7 444.6,248.3 445.6,248.5 446.6,249.1 447.6,249.7 448.6,250.3 449.6,250.9 450.6,251.2 451.6,251.5 452.6,251.7 453.6,252.0 454.6,252.2 455.6,252.2 456.6,252.0 457.6,251.8 458.6,251.7 459.6,251.5 460.6,251.3 461.6,251.1 462.6,250.9 463.6,250.8 464.6,250.6 465.6,250.4 466.6,250.1 467.6,249.9 468.6,249.6 469.6,249.4 470.6,249.2 471.6,248.9 472.6,248.7 473.6,248.4 474.6,248.2 475.6,247.9 476.6,247.7 477.6,247.4 478.6,247.2 479.6,246.9 480.6,246.6 481.6,246.4 482.6,246.1 482.6,312.0 481.6,311.9 480.6,311.8 479.6,311.8 478.6,311.7 477.6,311.6 476.6,311.5 475.6,311.5 474.6,311.4 473.6,311.3 472.6,311.2 471.6,311.2 470.6,311.1 469.6,311.0 468.6,311.0 467.6,310.9 466.6,310.8 465.6,310.7 464.6,310.5 463.6,310.2 462.6,309.8 461.6,309.4 460.6,309.0 459.6,308.6 458.6,308.3 457.6,307.9 456.6,307.5 455.6,307.1 454.6,306.7 453.6,306.4 452.6,306.0 451.6,305.6 450.6,305.2 449.6,304.7 448.6,303.8 447.6,302.9 446.6,302.0 445.6,301.2 444.6,300.3 443.6,299.4 442.6,298.5 441.6,297.6 440.6,296.7 439.6,295.8 438.6,294.9 437.6,294.0 436.6,293.1 435.6,292.3 434.6,291.5 433.6,290.6 432.6,289.8 431.6,289.0 430.6,288.2 429.6,287.5 428.6,287.1 427.6,286.6 426.6,286.2 425.6,285.7 424.6,285.3 423.6,284.8 422.6,284.4 421.6,283.9 420.6,283.5 419.6,283.0 418.6,282.6 417.6,282.1 416.6,281.7 415.6,281.2 414.6,280.8 413.6,280.7 412.6,281.3 411.6,281.9 410.6,282.5 409.6,283.1 408.6,283.7 407.6,284.3 406.6,284.9 405.6,285.5 404.6,286.0 403.6,286.2 402.6,286.5 401.6,286.7 400.6,287.0 399.6,287.1" fill="#3a55dc"/><polygon points="399.6,259.6 400.6,259.6 401.6,259.6 402.6,259.6 403.6,259.6 404.6,259.6 405.6,259.6 406.6,259.6 407.6,259.6 408.6,260.5 409.6,262.0 410.6,262.8 411.6,263.2 412.6,263.6 413.6,264.0 414.6,264.4 415.6,264.8 416.6,265.2 417.6,265.5 418.6,265.6 419.6,265.4 420.6,265.2 421.6,265.0 422.6,264.8 423.6,264.7 424.6,264.5 425.6,264.2 426.6,264.0 427.6,263.7 428.6,263.5 429.6,263.2 430.6,263.0 431.6,262.7 432.6,262.1 433.6,261.3 434.6,260.5 435.6,259.5 436.6,258.3 437.6,257.1 438.6,255.7 439.6,254.2 440.6,252.6 441.6,251.1 442.6,250.3 443.6,249.9 444.6,249.5 445.6,249.7 446.6,250.3 447.6,250.9 448.6,251.5 449.6,252.1 450.6,252.4 451.6,252.7 452.6,252.9 453.6,253.2 454.6,253.4 455.6,253.4 456.6,253.2 457.6,253.0 458.6,252.9 459.6,252.7 460.6,252.5 461.6,252.3 462.6,252.1 463.6,252.0 464.6,251.8 465.6,251.6 466.6,251.3 467.6,251.1 468.6,250.8 469.6,250.6 470.6,250.4 471.6,250.1 472.6,249.9 473.6,249.6 474.6,249.4 475.6,249.1 476.6,248.9 477.6,248.6 478.6,248.4 479.6,248.1 480.6,247.8 481.6,247.6 482.6,247.3 482.6,301.0 481.6,301.1 480.6,301.1 479.6,301.2 478.6,301.3 477.6,301.3 476.6,301.4 475.6,301.4 474.6,301.5 473.6,301.5 472.6,301.6 471.6,301.7 470.6,301.7 469.6,301.8 468.6,301.8 467.6,301.9 466.6,302.0 465.6,302.0 464.6,301.9 463.6,301.7 462.6,301.4 461.6,301.2 460.6,300.9 459.6,300.7 458.6,300.6 457.6,300.4 456.6,300.3 455.6,300.1 454.6,300.0 453.6,299.8 452.6,299.7 451.6,299.5 450.6,299.3 449.6,299.0 448.6,298.3 447.6,297.7 446.6,297.0 445.6,296.4 444.6,295.7 443.6,295.1 442.6,294.4 441.6,293.8 440.6,293.1 439.6,292.4 438.6,291.5 437.6,290.7 436.6,289.8 435.6,289.0 434.6,288.2 433.6,287.5 432.6,286.7 431.6,285.9 430.6,285.2 429.6,284.5 428.6,284.1 427.6,283.7 426.6,283.3 425.6,282.9 424.6,282.5 423.6,282.1 422.6,281.7 421.6,281.3 420.6,280.9 419.6,280.5 418.6,280.0 417.6,279.6 416.6,279.1 415.6,278.6 414.6,278.1 413.6,278.1 412.6,278.7 411.6,279.2 410.6,279.8 409.6,280.4 408.6,281.0 407.6,281.5 406.6,282.1 405.6,282.7 404.6,283.1 403.6,283.3 402.6,283.5 401.6,283.8 400.6,284.0 399.6,284.1" fill="#2b94dd"/><polygon points="399.6,260.6 400.6,260.6 401.6,260.6 402.6,260.6 403.6,260.6 404.6,260.6 405.6,260.6 406.6,260.6 407.6,260.7 408.6,261.6 409.6,263.1 410.6,263.9 411.6,264.3 412.6,264.7 413.6,265.1 414.6,265.5 415.6,265.9 416.6,266.3 417.6,266.7 418.6,266.7 419.6,266.5 420.6,266.4 421.6,266.2 422.6,266.0 423.6,265.8 424.6,265.7 425.6,265.4 426.6,265.2 427.6,264.9 428.6,264.7 429.6,264.4 430.6,264.2 431.6,263.9 432.6,263.4 433.6,262.6 434.6,261.8 435.6,260.7 436.6,259.6 437.6,258.4 438.6,257.0 439.6,255.5 440.6,254.0 441.6,252.5 442.6,251.8 443.6,251.4 444.6,251.1 445.6,251.4 446.6,252.1 447.6,252.7 448.6,253.4 449.6,254.1 450.6,254.5 451.6,254.9 452.6,255.2 453.6,255.5 454.6,255.8 455.6,255.9 456.6,255.8 457.6,255.7 458.6,255.5 459.6,255.4 460.6,255.3 461.6,255.1 462.6,255.0 463.6,254.8 464.6,254.7 465.6,254.5 466.6,254.3 467.6,254.0 468.6,253.8 469.6,253.6 470.6,253.4 471.6,253.2 472.6,252.9 473.6,252.7 474.6,252.5 475.6,252.3 476.6,252.0 477.6,251.8 478.6,251.6 479.6,251.3 480.6,251.1 481.6,250.8 482.6,250.6 482.6,299.0 481.6,299.1 480.6,299.1 479.6,299.2 478.6,299.3 477.6,299.3 476.6,299.4 475.6,299.4 474.6,299.5 473.6,299.5 472.6,299.6 471.6,299.7 470.6,299.7 469.6,299.8 468.6,299.8 467.6,299.9 466.6,300.0 465.6,300.0 464.6,299.9 463.6,299.7 462.6,299.4 461.6,299.2 460.6,298.9 459.6,298.7 458.6,298.6 457.6,298.5 456.6,298.4 455.6,298.2 454.6,298.1 453.6,298.0 452.6,297.8 451.6,297.7 450.6,297.6 449.6,297.2 448.6,296.6 447.6,296.0 446.6,295.4 445.6,294.8 444.6,294.1 443.6,293.5 442.6,292.9 441.6,292.2 440.6,291.6 439.6,290.9 438.6,290.0 437.6,289.2 436.6,288.3 435.6,287.5 434.6,286.7 433.6,286.0 432.6,285.2 431.6,284.4 430.6,283.7 429.6,283.0 428.6,282.6 427.6,282.2 426.6,281.8 425.6,281.4 424.6,281.0 423.6,280.6 422.6,280.2 421.6,279.8 420.6,279.4 419.6,279.0 418.6,278.5 417.6,278.1 416.6,277.6 415.6,277.1 414.6,276.6 413.6,276.6 412.6,277.2 411.6,277.7 410.6,278.3 409.6,278.9 408.6,279.5 407.6,280.0 406.6,280.6 405.6,281.2 404.6,281.6 403.6,281.8 402.6,282.0 401.6,282.3 400.6,282.5 399.6,282.6" fill="#22b1b6"/><polygon points="399.6,262.4 400.6,262.4 401.6,262.4 402.6,262.4 403.6,262.4 404.6,262.5 405.6,262.5 406.6,262.5 407.6,262.5 408.6,263.4 409.6,264.9 410.6,265.8 411.6,266.2 412.6,266.6 413.6,267.0 414.6,267.4 415.6,267.8 416.6,268.2 417.6,268.6 418.6,268.6 419.6,268.4 420.6,268.3 421.6,268.1 422.6,267.9 423.6,267.8 424.6,267.6 425.6,267.4 426.6,267.1 427.6,266.9 428.6,266.6 429.6,266.4 430.6,266.1 431.6,265.9 432.6,265.3 433.6,264.5 434.6,263.8 435.6,262.7 436.6,261.5 437.6,260.3 438.6,259.0 439.6,257.5 440.6,256.0 441.6,254.7 442.6,254.0 443.6,253.8 444.6,253.6 445.6,253.9 446.6,254.7 447.6,255.5 448.6,256.3 449.6,257.0 450.6,257.6 451.6,258.0 452.6,258.4 453.6,258.8 454.6,259.3 455.6,259.4 456.6,259.4 457.6,259.4 458.6,259.4 459.6,259.4 460.6,259.3 461.6,259.2 462.6,259.0 463.6,258.9 464.6,258.8 465.6,258.6 466.6,258.4 467.6,258.2 468.6,258.0 469.6,257.8 470.6,257.6 471.6,257.4 472.6,257.2 473.6,257.0 474.6,256.8 475.6,256.6 476.6,256.4 477.6,256.2 478.6,256.0 479.6,255.7 480.6,255.5 481.6,255.3 482.6,255.1 482.6,289.1 481.6,289.2 480.6,289.3 479.6,289.5 478.6,289.6 477.6,289.8 476.6,289.9 475.6,290.1 474.6,290.2 473.6,290.4 472.6,290.5 471.6,290.7 470.6,290.8 469.6,290.9 468.6,291.1 467.6,291.2 466.6,291.4 465.6,291.5 464.6,291.5 463.6,291.4 462.6,291.2 461.6,291.1 460.6,290.9 459.6,290.8 458.6,290.9 457.6,291.0 456.6,291.0 455.6,291.1 454.6,291.2 453.6,291.2 452.6,291.3 451.6,291.4 450.6,291.5 449.6,291.3 448.6,290.9 447.6,290.5 446.6,290.1 445.6,289.6 444.6,289.2 443.6,288.8 442.6,288.4 441.6,287.9 440.6,287.5 439.6,286.9 438.6,286.0 437.6,285.2 436.6,284.4 435.6,283.5 434.6,282.8 433.6,282.0 432.6,281.3 431.6,280.5 430.6,279.8 429.6,279.2 428.6,278.8 427.6,278.4 426.6,278.0 425.6,277.6 424.6,277.2 423.6,276.8 422.6,276.5 421.6,276.1 420.6,275.7 419.6,275.3 418.6,274.9 417.6,274.5 416.6,274.1 415.6,273.7 414.6,273.4 413.6,273.4 412.6,274.1 411.6,274.7 410.6,275.4 409.6,276.0 408.6,276.7 407.6,277.4 406.6,278.0 405.6,278.7 404.6,279.2 403.6,279.5 402.6,279.8 401.6,280.1 400.6,280.4 399.6,280.6" fill="#62be9c"/><polygon points="399.6,263.9 400.6,263.9 401.6,263.9 402.6,263.9 403.6,263.9 404.6,264.0 405.6,264.0 406.6,264.0 407.6,264.0 408.6,264.9 409.6,266.4 410.6,267.3 411.6,267.7 412.6,268.1 413.6,268.5 414.6,268.9 415.6,269.3 416.6,269.7 417.6,270.1 418.6,270.1 419.6,269.9 420.6,269.8 421.6,269.6 422.6,269.4 423.6,269.3 424.6,269.1 425.6,268.9 426.6,268.6 427.6,268.4 428.6,268.1 429.6,267.9 430.6,267.6 431.6,267.4 432.6,266.8 433.6,266.0 434.6,265.3 435.6,264.2 436.6,263.0 437.6,261.8 438.6,260.5 439.6,259.0 440.6,257.6 441.6,256.3 442.6,255.6 443.6,255.5 444.6,255.3 445.6,255.7 446.6,256.5 447.6,257.4 448.6,258.2 449.6,259.0 450.6,259.6 451.6,260.1 452.6,260.6 453.6,261.0 454.6,261.5 455.6,261.7 456.6,261.7 457.6,261.8 458.6,261.8 459.6,261.9 460.6,261.8 461.6,261.7 462.6,261.6 463.6,261.5 464.6,261.4 465.6,261.2 466.6,261.0 467.6,260.9 468.6,260.7 469.6,260.5 470.6,260.3 471.6,260.2 472.6,260.0 473.6,259.8 474.6,259.6 475.6,259.5 476.6,259.3 477.6,259.1 478.6,258.9 479.6,258.7 480.6,258.5 481.6,258.3 482.6,258.1 482.6,286.1 481.6,286.3 480.6,286.5 479.6,286.6 478.6,286.8 477.6,287.0 476.6,287.2 475.6,287.4 474.6,287.6 473.6,287.8 472.6,288.0 471.6,288.2 470.6,288.3 469.6,288.5 468.6,288.7 467.6,288.9 466.6,289.1 465.6,289.3 464.6,289.3 463.6,289.2 462.6,289.1 461.6,289.0 460.6,288.9 459.6,288.8 458.6,288.9 457.6,289.0 456.6,289.0 455.6,289.1 454.6,289.2 453.6,289.2 452.6,289.3 451.6,289.4 450.6,289.5 449.6,289.3 448.6,288.9 447.6,288.5 446.6,288.1 445.6,287.6 444.6,287.2 443.6,286.8 442.6,286.4 441.6,285.9 440.6,285.5 439.6,284.9 438.6,284.0 437.6,283.2 436.6,282.4 435.6,281.6 434.6,280.9 433.6,280.1 432.6,279.4 431.6,278.6 430.6,277.9 429.6,277.3 428.6,276.9 427.6,276.6 426.6,276.2 425.6,275.8 424.6,275.4 423.6,275.1 422.6,274.7 421.6,274.3 420.6,273.9 419.6,273.6 418.6,273.2 417.6,272.8 416.6,272.4 415.6,272.1 414.6,271.7 413.6,271.7 412.6,272.4 411.6,273.1 410.6,273.7 409.6,274.4 408.6,275.1 407.6,275.8 406.6,276.4 405.6,277.1 404.6,277.7 403.6,278.0 402.6,278.3 401.6,278.6 400.6,278.9 399.6,279.1" fill="#b8c258"/><polygon points="400.0,268.0 401.0,267.9 402.0,267.7 403.0,267.6 404.0,267.4 405.0,267.2 406.0,267.1 407.0,266.9 408.0,266.8 409.0,266.6 410.0,266.5 411.0,266.4 412.0,266.2 413.0,266.1 414.0,265.9 415.0,265.8 416.0,265.6 417.0,265.4 418.0,265.3 419.0,265.1 420.0,265.0 421.0,264.8 422.0,264.5 423.0,264.2 424.0,264.0 425.0,263.8 426.0,263.5 427.0,263.2 428.0,263.0 429.0,262.8 430.0,262.5 431.0,262.2 432.0,262.0 433.0,261.8 434.0,261.5 435.0,261.2 436.0,261.0 437.0,260.8 438.0,260.5 439.0,260.2 440.0,260.0 441.0,260.1 442.0,260.2 443.0,260.3 444.0,260.4 445.0,260.5 446.0,260.6 447.0,260.7 448.0,260.8 449.0,260.9 450.0,261.0 451.0,261.1 452.0,261.2 453.0,261.3 454.0,261.4 455.0,261.5 456.0,261.6 457.0,261.7 458.0,261.8 459.0,261.9 460.0,262.0 461.0,262.2 462.0,262.3 463.0,262.5 464.0,262.7 465.0,262.9 466.0,263.0 467.0,263.2 468.0,263.4 469.0,263.6 470.0,263.7 471.0,263.9 472.0,264.1 473.0,264.3 474.0,264.4 475.0,264.6 476.0,264.8 477.0,265.0 478.0,265.1 479.0,265.3 480.0,265.5 481.0,265.7 482.0,265.8 483.0,266.0 483.0,284.0 482.0,284.0 481.0,284.0 480.0,284.0 479.0,284.0 478.0,284.0 477.0,284.0 476.0,284.0 475.0,284.0 474.0,284.0 473.0,284.0 472.0,284.0 471.0,284.0 470.0,284.0 469.0,284.0 468.0,284.0 467.0,284.0 466.0,284.0 465.0,284.0 464.0,284.0 463.0,284.0 462.0,284.0 461.0,284.0 460.0,284.0 459.0,283.9 458.0,283.8 457.0,283.7 456.0,283.6 455.0,283.5 454.0,283.4 453.0,283.3 452.0,283.2 451.0,283.1 450.0,283.0 449.0,282.9 448.0,282.8 447.0,282.7 446.0,282.6 445.0,282.5 444.0,282.4 443.0,282.3 442.0,282.2 441.0,282.1 440.0,282.0 439.0,281.8 438.0,281.6 437.0,281.4 436.0,281.2 435.0,281.0 434.0,280.8 433.0,280.6 432.0,280.4 431.0,280.2 430.0,280.0 429.0,279.8 428.0,279.6 427.0,279.4 426.0,279.2 425.0,279.0 424.0,278.8 423.0,278.6 422.0,278.4 421.0,278.2 420.0,278.0 419.0,277.9 418.0,277.9 417.0,277.9 416.0,277.8 415.0,277.8 414.0,277.7 413.0,277.6 412.0,277.6 411.0,277.6 410.0,277.5 409.0,277.4 408.0,277.4 407.0,277.4 406.0,277.3 405.0,277.2 404.0,277.2 403.0,277.1 402.0,277.1 401.0,277.1 400.0,277.0" fill="#f5d22c"/><polygon points="418.0,271.0 419.0,270.9 420.0,270.7 421.0,270.6 422.0,270.5 423.0,270.3 424.0,270.2 425.0,270.0 426.0,269.9 427.0,269.8 428.0,269.6 429.0,269.5 430.0,269.4 431.0,269.2 432.0,269.1 433.0,269.0 434.0,268.8 435.0,268.7 436.0,268.5 437.0,268.4 438.0,268.3 439.0,268.1 440.0,268.0 441.0,268.2 442.0,268.4 443.0,268.6 444.0,268.8 445.0,269.0 446.0,269.2 447.0,269.4 448.0,269.6 449.0,269.8 450.0,270.0 451.0,270.2 452.0,270.4 453.0,270.6 454.0,270.8 455.0,271.0 456.0,271.2 457.0,271.4 458.0,271.6 459.0,271.8 460.0,272.0 461.0,272.2 462.0,272.3 463.0,272.5 464.0,272.7 465.0,272.9 466.0,273.0 467.0,273.2 468.0,273.4 469.0,273.6 470.0,273.7 471.0,273.9 472.0,274.1 473.0,274.3 474.0,274.4 475.0,274.6 476.0,274.8 477.0,275.0 478.0,275.1 479.0,275.3 480.0,275.5 481.0,275.7 482.0,275.8 483.0,276.0 483.0,277.0 482.0,277.0 481.0,276.9 480.0,276.9 479.0,276.8 478.0,276.8 477.0,276.7 476.0,276.7 475.0,276.7 474.0,276.6 473.0,276.6 472.0,276.5 471.0,276.5 470.0,276.4 469.0,276.4 468.0,276.3 467.0,276.3 466.0,276.3 465.0,276.2 464.0,276.2 463.0,276.1 462.0,276.1 461.0,276.0 460.0,276.0 459.0,275.9 458.0,275.7 457.0,275.6 456.0,275.4 455.0,275.2 454.0,275.1 453.0,274.9 452.0,274.8 451.0,274.6 450.0,274.5 449.0,274.4 448.0,274.2 447.0,274.1 446.0,273.9 445.0,273.8 444.0,273.6 443.0,273.4 442.0,273.3 441.0,273.1 440.0,273.0 439.0,273.0 438.0,272.9 437.0,272.9 436.0,272.8 435.0,272.8 434.0,272.7 433.0,272.7 432.0,272.6 431.0,272.6 430.0,272.5 429.0,272.5 428.0,272.5 427.0,272.4 426.0,272.4 425.0,272.3 424.0,272.3 423.0,272.2 422.0,272.2 421.0,272.1 420.0,272.1 419.0,272.0 418.0,272.0" fill="#f8e660"/><polygon points="425.0,276.0 426.0,276.1 427.0,276.1 428.0,276.2 429.0,276.3 430.0,276.3 431.0,276.4 432.0,276.5 433.0,276.5 434.0,276.6 435.0,276.7 436.0,276.7 437.0,276.8 438.0,276.9 439.0,276.9 440.0,277.0 441.0,277.1 442.0,277.2 443.0,277.3 444.0,277.4 445.0,277.5 446.0,277.6 447.0,277.7 448.0,277.8 449.0,277.9 450.0,278.0 451.0,278.1 452.0,278.2 453.0,278.3 454.0,278.4 455.0,278.5 456.0,278.6 457.0,278.7 458.0,278.8 459.0,278.9 460.0,279.0 461.0,279.0 462.0,279.1 463.0,279.1 464.0,279.2 465.0,279.2 466.0,279.3 467.0,279.3 468.0,279.3 469.0,279.4 470.0,279.4 471.0,279.5 472.0,279.5 473.0,279.6 474.0,279.6 475.0,279.7 476.0,279.7 477.0,279.7 478.0,279.8 479.0,279.8 480.0,279.9 481.0,279.9 482.0,280.0 483.0,280.0 483.0,282.0 482.0,282.0 481.0,281.9 480.0,281.9 479.0,281.8 478.0,281.8 477.0,281.7 476.0,281.7 475.0,281.7 474.0,281.6 473.0,281.6 472.0,281.5 471.0,281.5 470.0,281.4 469.0,281.4 468.0,281.3 467.0,281.3 466.0,281.3 465.0,281.2 464.0,281.2 463.0,281.1 462.0,281.1 461.0,281.0 460.0,281.0 459.0,280.9 458.0,280.8 457.0,280.7 456.0,280.6 455.0,280.5 454.0,280.4 453.0,280.3 452.0,280.2 451.0,280.1 450.0,280.0 449.0,279.9 448.0,279.8 447.0,279.7 446.0,279.6 445.0,279.5 444.0,279.4 443.0,279.3 442.0,279.2 441.0,279.1 440.0,279.0 439.0,278.9 438.0,278.7 437.0,278.6 436.0,278.5 435.0,278.3 434.0,278.2 433.0,278.1 432.0,277.9 431.0,277.8 430.0,277.7 429.0,277.5 428.0,277.4 427.0,277.3 426.0,277.1 425.0,277.0" fill="#f8e660"/><polyline points="425.0,289.0 436.0,295.0" fill="none" stroke="#ffffff" stroke-width="0.9" opacity="0.85"/><polyline points="443.0,300.5 465.0,306.0" fill="none" stroke="#ffffff" stroke-width="0.9" opacity="0.85"/><polyline points="450.0,304.0 483.0,308.0" fill="none" stroke="#ffffff" stroke-width="0.9" opacity="0.85"/><polyline points="460.0,307.5 483.0,310.5" fill="none" stroke="#ffffff" stroke-width="0.9" opacity="0.85"/></g><g opacity="0.8"><line x1="444" y1="243.5" x2="450" y2="243" stroke="#4a58d8" stroke-width="1"/><line x1="455" y1="241.5" x2="460" y2="241.5" stroke="#4a58d8" stroke-width="1"/><line x1="470" y1="240" x2="476" y2="239.5" stroke="#4a58d8" stroke-width="1"/><line x1="460" y1="246" x2="470" y2="245" stroke="#4a58d8" stroke-width="1"/><line x1="475" y1="243.5" x2="482" y2="243" stroke="#4a58d8" stroke-width="1"/></g><polyline points="400.0,272.1 413.0,271.4 418.0,269.9 425.0,266.9 432.0,265.1 440.0,264.0 447.0,265.6 452.0,268.0 460.0,272.3 470.0,275.3 478.0,275.3 483.0,274.0" fill="none" stroke="#ff1006" stroke-width="1.35" stroke-linejoin="round"/><line x1="452.5" y1="232.4" x2="452.5" y2="313.3" stroke="#111" stroke-width="1.2" stroke-dasharray="3.5,1.7"/>
</g>
<rect x="400.60" y="232.40" width="81.60" height="80.90" fill="none" stroke="#000" stroke-width="1.3"/>
<line x1="418.80" y1="232.40" x2="418.80" y2="234.40" stroke="#000" stroke-width="1"/>
<line x1="418.80" y1="313.30" x2="418.80" y2="311.30" stroke="#000" stroke-width="1"/>
<line x1="438.85" y1="232.40" x2="438.85" y2="234.40" stroke="#000" stroke-width="1"/>
<line x1="438.85" y1="313.30" x2="438.85" y2="311.30" stroke="#000" stroke-width="1"/>
<line x1="458.90" y1="232.40" x2="458.90" y2="234.40" stroke="#000" stroke-width="1"/>
<line x1="458.90" y1="313.30" x2="458.90" y2="311.30" stroke="#000" stroke-width="1"/>
<line x1="478.95" y1="232.40" x2="478.95" y2="234.40" stroke="#000" stroke-width="1"/>
<line x1="478.95" y1="313.30" x2="478.95" y2="311.30" stroke="#000" stroke-width="1"/>
<line x1="400.60" y1="245.61" x2="402.60" y2="245.61" stroke="#000" stroke-width="1"/>
<line x1="482.20" y1="245.61" x2="480.20" y2="245.61" stroke="#000" stroke-width="1"/>
<text x="397.40" y="250.21" font-size="11" text-anchor="end" >20</text>
<line x1="400.60" y1="272.85" x2="402.60" y2="272.85" stroke="#000" stroke-width="1"/>
<line x1="482.20" y1="272.85" x2="480.20" y2="272.85" stroke="#000" stroke-width="1"/>
<text x="397.40" y="277.45" font-size="11" text-anchor="end" >0</text>
<line x1="400.60" y1="300.09" x2="402.60" y2="300.09" stroke="#000" stroke-width="1"/>
<line x1="482.20" y1="300.09" x2="480.20" y2="300.09" stroke="#000" stroke-width="1"/>
<text x="397.40" y="304.69" font-size="11" text-anchor="end" >-20</text>
<text x="404.70" y="306.40" font-size="11" text-anchor="start" >(n)</text>
<text x="0" y="0" font-size="11" text-anchor="middle" style="stroke-width:0.15px" transform="translate(380.40,274.85) rotate(-90)">θ (°)</text>
<g clip-path="url(#cp40)">
<rect x="522.0" y="40.6" width="81.6" height="81.4" fill="#24afb8"/><polygon points="518.0,34.6 519.0,34.6 520.0,34.6 521.0,34.6 522.0,34.6 523.0,34.6 524.0,34.6 525.0,34.6 526.0,34.6 527.0,34.6 528.0,34.6 529.0,34.6 530.0,34.6 531.0,34.6 532.0,34.6 533.0,34.6 534.0,34.6 535.0,34.6 536.0,34.6 537.0,34.6 538.0,34.6 539.0,34.6 540.0,34.6 541.0,34.6 542.0,34.6 543.0,34.6 544.0,34.6 545.0,34.6 546.0,34.6 547.0,34.6 548.0,34.6 549.0,34.6 550.0,34.6 551.0,34.6 552.0,34.6 553.0,34.6 554.0,34.6 555.0,34.6 556.0,34.6 557.0,34.6 558.0,34.6 559.0,34.6 560.0,34.6 561.0,34.6 562.0,34.6 563.0,34.6 564.0,34.6 565.0,34.6 566.0,34.6 567.0,34.6 568.0,34.6 569.0,34.6 570.0,34.6 571.0,34.6 572.0,34.6 573.0,34.6 574.0,34.6 575.0,34.6 576.0,34.6 577.0,34.6 578.0,34.6 579.0,34.6 580.0,34.6 581.0,34.6 582.0,34.6 583.0,34.6 584.0,34.6 585.0,34.6 586.0,34.6 587.0,34.6 588.0,34.6 589.0,34.6 590.0,34.6 591.0,34.6 592.0,34.6 593.0,34.6 594.0,34.6 595.0,34.6 596.0,34.6 597.0,34.6 598.0,34.6 599.0,34.6 600.0,34.6 601.0,34.6 602.0,34.6 603.0,34.6 604.0,34.6 605.0,34.6 606.0,34.6 607.0,34.6 607.0,54.4 606.0,54.1 605.0,53.8 604.0,53.5 603.0,53.2 602.0,52.9 601.0,52.6 600.0,52.3 599.0,52.0 598.0,51.7 597.0,51.3 596.0,51.0 595.0,50.7 594.0,50.4 593.0,50.1 592.0,49.8 591.0,49.5 590.0,49.2 589.0,48.9 588.0,48.6 587.0,48.3 586.0,48.0 585.0,47.7 584.0,47.4 583.0,47.1 582.0,46.7 581.0,46.4 580.0,46.1 579.0,45.8 578.0,45.5 577.0,45.2 576.0,44.9 575.0,44.6 574.0,44.5 573.0,44.5 572.0,44.4 571.0,44.3 570.0,44.3 569.0,44.2 568.0,44.1 567.0,44.1 566.0,44.0 565.0,43.9 564.0,43.9 563.0,43.8 562.0,43.7 561.0,43.7 560.0,43.6 559.0,43.5 558.0,43.5 557.0,43.4 556.0,43.3 555.0,43.3 554.0,43.2 553.0,43.1 552.0,43.1 551.0,43.0 550.0,42.9 549.0,42.9 548.0,42.8 547.0,42.7 546.0,42.7 545.0,42.6 544.0,42.6 543.0,42.5 542.0,42.5 541.0,42.5 540.0,42.4 539.0,42.4 538.0,42.3 537.0,42.3 536.0,42.3 535.0,42.2 534.0,42.2 533.0,42.2 532.0,42.1 531.0,42.1 530.0,42.0 529.0,42.0 528.0,42.0 527.0,41.9 526.0,41.9 525.0,41.9 524.0,41.8 523.0,41.8 522.0,41.7 521.0,41.7 520.0,41.7 519.0,41.6 518.0,41.6" fill="#3a86e0" opacity="0.9" filter="url(#bl3)"/><polygon points="518.0,35.6 519.0,35.6 520.0,35.6 521.0,35.6 522.0,35.6 523.0,35.6 524.0,35.6 525.0,35.6 526.0,35.6 527.0,35.6 528.0,35.6 529.0,35.6 530.0,35.6 531.0,35.6 532.0,35.6 533.0,35.6 534.0,35.6 535.0,35.6 536.0,35.6 537.0,35.6 538.0,35.6 539.0,35.6 540.0,35.6 541.0,35.6 542.0,35.6 543.0,35.6 544.0,35.6 545.0,35.6 546.0,35.6 547.0,35.6 548.0,35.6 549.0,35.6 550.0,35.6 551.0,35.6 552.0,35.6 553.0,35.6 554.0,35.6 555.0,35.6 556.0,35.6 557.0,35.6 558.0,35.6 559.0,35.6 560.0,35.6 561.0,35.6 562.0,35.6 563.0,35.6 564.0,35.6 565.0,35.6 566.0,35.6 567.0,35.6 568.0,35.6 569.0,35.6 570.0,35.6 571.0,35.6 572.0,35.6 573.0,35.6 574.0,35.6 575.0,35.6 576.0,35.6 577.0,35.6 578.0,35.6 579.0,35.6 580.0,35.6 581.0,35.6 582.0,35.6 583.0,35.6 584.0,35.6 585.0,35.6 586.0,35.6 587.0,35.6 588.0,35.6 589.0,35.6 590.0,35.6 591.0,35.6 592.0,35.6 593.0,35.6 594.0,35.6 595.0,35.6 596.0,35.6 597.0,35.6 598.0,35.6 599.0,35.6 600.0,35.6 601.0,35.6 602.0,35.6 603.0,35.6 604.0,35.6 605.0,35.6 606.0,35.6 607.0,35.6 607.0,43.1 606.0,43.1 605.0,43.1 604.0,43.0 603.0,43.0 602.0,43.0 601.0,43.0 600.0,43.0 599.0,43.0 598.0,42.9 597.0,42.9 596.0,42.9 595.0,42.9 594.0,42.9 593.0,42.9 592.0,42.8 591.0,42.8 590.0,42.8 589.0,42.8 588.0,42.8 587.0,42.8 586.0,42.7 585.0,42.7 584.0,42.7 583.0,42.7 582.0,42.7 581.0,42.7 580.0,42.6 579.0,42.6 578.0,42.6 577.0,42.6 576.0,42.6 575.0,42.6 574.0,42.5 573.0,42.5 572.0,42.5 571.0,42.5 570.0,42.5 569.0,42.5 568.0,42.4 567.0,42.4 566.0,42.4 565.0,42.4 564.0,42.4 563.0,42.4 562.0,42.3 561.0,42.3 560.0,42.3 559.0,42.3 558.0,42.3 557.0,42.3 556.0,42.2 555.0,42.2 554.0,42.2 553.0,42.2 552.0,42.2 551.0,42.2 550.0,42.1 549.0,42.1 548.0,42.1 547.0,42.1 546.0,42.1 545.0,42.1 544.0,42.0 543.0,42.0 542.0,42.0 541.0,42.0 540.0,42.0 539.0,42.0 538.0,41.9 537.0,41.9 536.0,41.9 535.0,41.9 534.0,41.9 533.0,41.9 532.0,41.8 531.0,41.8 530.0,41.8 529.0,41.8 528.0,41.8 527.0,41.8 526.0,41.7 525.0,41.7 524.0,41.7 523.0,41.7 522.0,41.7 521.0,41.7 520.0,41.6 519.0,41.6 518.0,41.6" fill="#3a5ad8" opacity="1.0" filter="url(#bl)"/><polygon points="534.0,113.0 535.0,113.0 536.0,113.0 537.0,113.0 538.0,113.0 539.0,112.9 540.0,112.7 541.0,112.6 542.0,112.5 543.0,112.3 544.0,112.2 545.0,112.0 546.0,111.9 547.0,111.8 548.0,111.6 549.0,111.5 550.0,111.4 551.0,111.2 552.0,111.1 553.0,111.0 554.0,110.8 555.0,110.7 556.0,110.5 557.0,110.4 558.0,110.3 559.0,110.1 560.0,110.0 561.0,110.0 562.0,110.0 563.0,109.9 564.0,109.9 565.0,109.9 566.0,109.9 567.0,109.9 568.0,109.8 569.0,109.8 570.0,109.8 571.0,109.8 572.0,109.7 573.0,109.7 574.0,109.7 575.0,109.7 576.0,109.7 577.0,109.6 578.0,109.6 579.0,109.6 580.0,109.6 581.0,109.6 582.0,109.5 583.0,109.5 584.0,109.5 585.0,109.5 586.0,109.5 587.0,109.4 588.0,109.4 589.0,109.4 590.0,109.4 591.0,109.3 592.0,109.3 593.0,109.3 594.0,109.3 595.0,109.3 596.0,109.2 597.0,109.2 598.0,109.2 599.0,109.2 600.0,109.2 601.0,109.1 602.0,109.1 603.0,109.1 604.0,109.1 605.0,109.1 606.0,109.0 607.0,109.0 607.0,126.0 606.0,126.0 605.0,126.0 604.0,126.0 603.0,126.0 602.0,126.0 601.0,126.0 600.0,126.0 599.0,126.0 598.0,126.0 597.0,126.0 596.0,126.0 595.0,126.0 594.0,126.0 593.0,126.0 592.0,126.0 591.0,126.0 590.0,126.0 589.0,126.0 588.0,126.0 587.0,126.0 586.0,126.0 585.0,126.0 584.0,126.0 583.0,126.0 582.0,126.0 581.0,126.0 580.0,126.0 579.0,126.0 578.0,126.0 577.0,126.0 576.0,126.0 575.0,126.0 574.0,126.0 573.0,126.0 572.0,126.0 571.0,126.0 570.0,126.0 569.0,126.0 568.0,126.0 567.0,126.0 566.0,126.0 565.0,126.0 564.0,126.0 563.0,126.0 562.0,126.0 561.0,126.0 560.0,126.0 559.0,126.0 558.0,126.0 557.0,126.0 556.0,126.0 555.0,126.0 554.0,126.0 553.0,126.0 552.0,126.0 551.0,126.0 550.0,126.0 549.0,126.0 548.0,126.0 547.0,126.0 546.0,126.0 545.0,126.0 544.0,126.0 543.0,126.0 542.0,126.0 541.0,126.0 540.0,126.0 539.0,126.0 538.0,126.0 537.0,126.0 536.0,126.0 535.0,126.0 534.0,126.0" fill="#3080e0" opacity="0.95" filter="url(#bl3)"/><polygon points="540.0,115.5 541.0,115.5 542.0,115.5 543.0,115.5 544.0,115.4 545.0,115.4 546.0,115.4 547.0,115.4 548.0,115.4 549.0,115.4 550.0,115.4 551.0,115.3 552.0,115.3 553.0,115.3 554.0,115.3 555.0,115.3 556.0,115.3 557.0,115.2 558.0,115.2 559.0,115.2 560.0,115.2 561.0,115.2 562.0,115.2 563.0,115.2 564.0,115.1 565.0,115.1 566.0,115.1 567.0,115.1 568.0,115.1 569.0,115.1 570.0,115.1 571.0,115.0 572.0,115.0 573.0,115.0 574.0,115.0 575.0,115.0 576.0,115.0 577.0,115.0 578.0,114.9 579.0,114.9 580.0,114.9 581.0,114.9 582.0,114.9 583.0,114.9 584.0,114.8 585.0,114.8 586.0,114.8 587.0,114.8 588.0,114.8 589.0,114.8 590.0,114.8 591.0,114.7 592.0,114.7 593.0,114.7 594.0,114.7 595.0,114.7 596.0,114.7 597.0,114.7 598.0,114.6 599.0,114.6 600.0,114.6 601.0,114.6 602.0,114.6 603.0,114.6 604.0,114.6 605.0,114.5 606.0,114.5 607.0,114.5 607.0,125.0 606.0,125.0 605.0,125.0 604.0,125.0 603.0,125.0 602.0,125.0 601.0,125.0 600.0,125.0 599.0,125.0 598.0,125.0 597.0,125.0 596.0,125.0 595.0,125.0 594.0,125.0 593.0,125.0 592.0,125.0 591.0,125.0 590.0,125.0 589.0,125.0 588.0,125.0 587.0,125.0 586.0,125.0 585.0,125.0 584.0,125.0 583.0,125.0 582.0,125.0 581.0,125.0 580.0,125.0 579.0,125.0 578.0,125.0 577.0,125.0 576.0,125.0 575.0,125.0 574.0,125.0 573.0,125.0 572.0,125.0 571.0,125.0 570.0,125.0 569.0,125.0 568.0,125.0 567.0,125.0 566.0,125.0 565.0,125.0 564.0,125.0 563.0,125.0 562.0,125.0 561.0,125.0 560.0,125.0 559.0,125.0 558.0,125.0 557.0,125.0 556.0,125.0 555.0,125.0 554.0,125.0 553.0,125.0 552.0,125.0 551.0,125.0 550.0,125.0 549.0,125.0 548.0,125.0 547.0,125.0 546.0,125.0 545.0,125.0 544.0,125.0 543.0,125.0 542.0,125.0 541.0,125.0 540.0,125.0" fill="#3a4acc" opacity="0.9" filter="url(#bl)"/><polygon points="518.0,60.0 519.0,60.1 520.0,60.1 521.0,60.2 522.0,60.2 523.0,60.3 524.0,60.4 525.0,60.4 526.0,60.5 527.0,60.5 528.0,60.6 529.0,60.6 530.0,60.7 531.0,60.8 532.0,60.8 533.0,60.9 534.0,60.9 535.0,61.0 536.0,60.6 537.0,60.2 538.0,59.8 539.0,59.4 540.0,59.0 541.0,58.6 542.0,58.2 543.0,57.8 544.0,57.4 545.0,57.0 546.0,57.0 547.0,57.0 548.0,57.0 549.0,57.0 550.0,57.0 551.0,57.0 552.0,57.0 553.0,57.0 554.0,57.0 555.0,57.0 556.0,57.0 557.0,57.0 558.0,57.0 559.0,57.0 560.0,57.0 561.0,57.0 562.0,57.0 563.0,57.0 564.0,57.0 565.0,57.0 566.0,57.0 567.0,57.0 568.0,57.0 569.0,57.0 570.0,57.0 571.0,57.0 572.0,57.0 573.0,57.0 574.0,57.0 575.0,57.0 576.0,57.0 577.0,57.0 578.0,57.0 579.0,57.0 580.0,57.0 581.0,57.0 582.0,57.0 583.0,57.0 584.0,57.0 585.0,57.0 586.0,57.0 587.0,57.0 588.0,57.0 589.0,57.0 590.0,57.0 591.0,57.0 592.0,57.0 593.0,57.0 594.0,57.0 595.0,57.0 596.0,57.0 597.0,57.0 598.0,57.0 599.0,57.0 600.0,57.0 601.0,57.0 602.0,57.0 603.0,57.0 604.0,57.0 605.0,57.0 606.0,57.0 607.0,57.0 607.0,103.0 606.0,103.0 605.0,103.0 604.0,103.0 603.0,103.0 602.0,103.0 601.0,103.0 600.0,103.0 599.0,103.0 598.0,103.0 597.0,103.0 596.0,103.0 595.0,103.0 594.0,103.0 593.0,103.0 592.0,103.0 591.0,103.0 590.0,103.0 589.0,103.0 588.0,103.0 587.0,103.0 586.0,103.0 585.0,103.0 584.0,103.0 583.0,103.0 582.0,103.0 581.0,103.0 580.0,103.0 579.0,103.0 578.0,103.0 577.0,103.0 576.0,103.0 575.0,103.0 574.0,103.0 573.0,103.0 572.0,103.0 571.0,103.0 570.0,103.0 569.0,103.0 568.0,103.0 567.0,103.0 566.0,103.0 565.0,103.0 564.0,103.0 563.0,103.0 562.0,103.0 561.0,103.0 560.0,103.0 559.0,103.0 558.0,103.0 557.0,103.0 556.0,103.0 555.0,103.0 554.0,103.0 553.0,103.0 552.0,103.0 551.0,103.0 550.0,103.0 549.0,103.0 548.0,103.0 547.0,103.0 546.0,103.0 545.0,103.0 544.0,102.7 543.0,102.4 542.0,102.1 541.0,101.8 540.0,101.5 539.0,101.2 538.0,100.9 537.0,100.6 536.0,100.3 535.0,100.0 534.0,100.0 533.0,100.0 532.0,100.0 531.0,100.0 530.0,100.0 529.0,100.0 528.0,100.0 527.0,100.0 526.0,100.0 525.0,100.0 524.0,100.0 523.0,100.0 522.0,100.0 521.0,100.0 520.0,100.0 519.0,100.0 518.0,100.0" fill="#48b8a2" opacity="0.7" filter="url(#bl3)"/><polygon points="518.0,64.0 519.0,64.1 520.0,64.1 521.0,64.2 522.0,64.2 523.0,64.3 524.0,64.4 525.0,64.4 526.0,64.5 527.0,64.5 528.0,64.6 529.0,64.6 530.0,64.7 531.0,64.8 532.0,64.8 533.0,64.9 534.0,64.9 535.0,65.0 536.0,64.7 537.0,64.4 538.0,64.1 539.0,63.8 540.0,63.5 541.0,63.2 542.0,62.9 543.0,62.6 544.0,62.3 545.0,62.0 546.0,62.0 547.0,62.0 548.0,62.0 549.0,62.0 550.0,62.0 551.0,62.0 552.0,62.0 553.0,62.0 554.0,62.0 555.0,62.0 556.0,62.0 557.0,62.0 558.0,62.0 559.0,62.0 560.0,62.0 561.0,62.0 562.0,62.0 563.0,62.0 564.0,62.0 565.0,62.0 566.0,62.0 567.0,62.0 568.0,62.0 569.0,62.0 570.0,62.0 571.0,62.0 572.0,62.0 573.0,62.0 574.0,62.0 575.0,62.0 576.0,62.0 577.0,62.0 578.0,62.0 579.0,62.0 580.0,62.0 581.0,62.0 582.0,62.0 583.0,62.0 584.0,62.0 585.0,62.0 586.0,62.0 587.0,62.0 588.0,62.0 589.0,62.0 590.0,62.0 591.0,62.0 592.0,62.0 593.0,62.0 594.0,62.0 595.0,62.0 596.0,62.0 597.0,62.0 598.0,62.0 599.0,62.0 600.0,62.0 601.0,62.0 602.0,62.0 603.0,62.0 604.0,62.0 605.0,62.0 606.0,62.0 607.0,62.0 607.0,98.0 606.0,98.0 605.0,98.0 604.0,98.0 603.0,98.0 602.0,98.0 601.0,98.0 600.0,98.0 599.0,98.0 598.0,98.0 597.0,98.0 596.0,98.0 595.0,98.0 594.0,98.0 593.0,98.0 592.0,98.0 591.0,98.0 590.0,98.0 589.0,98.0 588.0,98.0 587.0,98.0 586.0,98.0 585.0,98.0 584.0,98.0 583.0,98.0 582.0,98.0 581.0,98.0 580.0,98.0 579.0,98.0 578.0,98.0 577.0,98.0 576.0,98.0 575.0,98.0 574.0,98.0 573.0,98.0 572.0,98.0 571.0,98.0 570.0,98.0 569.0,98.0 568.0,98.0 567.0,98.0 566.0,98.0 565.0,98.0 564.0,98.0 563.0,98.0 562.0,98.0 561.0,98.0 560.0,98.0 559.0,98.0 558.0,98.0 557.0,98.0 556.0,98.0 555.0,98.0 554.0,98.0 553.0,98.0 552.0,98.0 551.0,98.0 550.0,98.0 549.0,98.0 548.0,98.0 547.0,98.0 546.0,98.0 545.0,98.0 544.0,97.8 543.0,97.6 542.0,97.4 541.0,97.2 540.0,97.0 539.0,96.8 538.0,96.6 537.0,96.4 536.0,96.2 535.0,96.0 534.0,96.0 533.0,96.0 532.0,96.0 531.0,96.0 530.0,96.0 529.0,96.0 528.0,96.0 527.0,96.0 526.0,96.0 525.0,96.0 524.0,96.0 523.0,96.0 522.0,96.0 521.0,96.0 520.0,96.0 519.0,96.0 518.0,96.0" fill="#a2c466" opacity="0.9" filter="url(#bl3)"/><polygon points="518.0,68.0 519.0,68.1 520.0,68.1 521.0,68.2 522.0,68.2 523.0,68.3 524.0,68.4 525.0,68.4 526.0,68.5 527.0,68.5 528.0,68.6 529.0,68.6 530.0,68.7 531.0,68.8 532.0,68.8 533.0,68.9 534.0,68.9 535.0,69.0 536.0,68.7 537.0,68.3 538.0,68.0 539.0,67.6 540.0,67.2 541.0,66.9 542.0,66.5 543.0,66.2 544.0,65.8 545.0,65.5 546.0,65.5 547.0,65.5 548.0,65.5 549.0,65.5 550.0,65.5 551.0,65.5 552.0,65.5 553.0,65.5 554.0,65.5 555.0,65.5 556.0,65.5 557.0,65.5 558.0,65.5 559.0,65.5 560.0,65.5 561.0,65.5 562.0,65.5 563.0,65.5 564.0,65.5 565.0,65.5 566.0,65.5 567.0,65.5 568.0,65.5 569.0,65.5 570.0,65.5 571.0,65.5 572.0,65.5 573.0,65.5 574.0,65.5 575.0,65.5 576.0,65.5 577.0,65.5 578.0,65.5 579.0,65.5 580.0,65.5 581.0,65.5 582.0,65.5 583.0,65.5 584.0,65.5 585.0,65.5 586.0,65.5 587.0,65.5 588.0,65.5 589.0,65.5 590.0,65.5 591.0,65.5 592.0,65.5 593.0,65.5 594.0,65.5 595.0,65.5 596.0,65.5 597.0,65.5 598.0,65.5 599.0,65.5 600.0,65.5 601.0,65.5 602.0,65.5 603.0,65.5 604.0,65.5 605.0,65.5 606.0,65.5 607.0,65.5 607.0,95.0 606.0,95.0 605.0,95.0 604.0,95.0 603.0,95.0 602.0,95.0 601.0,95.0 600.0,95.0 599.0,95.0 598.0,95.0 597.0,95.0 596.0,95.0 595.0,95.0 594.0,95.0 593.0,95.0 592.0,95.0 591.0,95.0 590.0,95.0 589.0,95.0 588.0,95.0 587.0,95.0 586.0,95.0 585.0,95.0 584.0,95.0 583.0,95.0 582.0,95.0 581.0,95.0 580.0,95.0 579.0,95.0 578.0,95.0 577.0,95.0 576.0,95.0 575.0,95.0 574.0,95.0 573.0,95.0 572.0,95.0 571.0,95.0 570.0,95.0 569.0,95.0 568.0,95.0 567.0,95.0 566.0,95.0 565.0,95.0 564.0,95.0 563.0,95.0 562.0,95.0 561.0,95.0 560.0,95.0 559.0,95.0 558.0,95.0 557.0,95.0 556.0,95.0 555.0,95.0 554.0,95.0 553.0,95.0 552.0,95.0 551.0,95.0 550.0,95.0 549.0,95.0 548.0,95.0 547.0,95.0 546.0,95.0 545.0,95.0 544.0,94.7 543.0,94.4 542.0,94.1 541.0,93.8 540.0,93.5 539.0,93.2 538.0,92.9 537.0,92.6 536.0,92.3 535.0,92.0 534.0,92.0 533.0,92.0 532.0,92.0 531.0,92.0 530.0,92.0 529.0,92.0 528.0,92.0 527.0,92.0 526.0,92.0 525.0,92.0 524.0,92.0 523.0,92.0 522.0,92.0 521.0,92.0 520.0,92.0 519.0,92.0 518.0,92.0" fill="#eac444" opacity="1.0" filter="url(#bl2)"/><polygon points="518.0,71.0 519.0,71.0 520.0,71.1 521.0,71.1 522.0,71.1 523.0,71.1 524.0,71.2 525.0,71.2 526.0,71.2 527.0,71.3 528.0,71.3 529.0,71.3 530.0,71.4 531.0,71.4 532.0,71.4 533.0,71.4 534.0,71.5 535.0,71.5 536.0,71.2 537.0,70.9 538.0,70.6 539.0,70.3 540.0,70.0 541.0,69.7 542.0,69.4 543.0,69.1 544.0,68.8 545.0,68.5 546.0,68.5 547.0,68.5 548.0,68.5 549.0,68.5 550.0,68.5 551.0,68.5 552.0,68.4 553.0,68.4 554.0,68.4 555.0,68.4 556.0,68.4 557.0,68.4 558.0,68.4 559.0,68.4 560.0,68.4 561.0,68.4 562.0,68.4 563.0,68.4 564.0,68.3 565.0,68.3 566.0,68.3 567.0,68.3 568.0,68.3 569.0,68.3 570.0,68.3 571.0,68.3 572.0,68.3 573.0,68.3 574.0,68.3 575.0,68.3 576.0,68.3 577.0,68.2 578.0,68.2 579.0,68.2 580.0,68.2 581.0,68.2 582.0,68.2 583.0,68.2 584.0,68.2 585.0,68.2 586.0,68.2 587.0,68.2 588.0,68.2 589.0,68.1 590.0,68.1 591.0,68.1 592.0,68.1 593.0,68.1 594.0,68.1 595.0,68.1 596.0,68.1 597.0,68.1 598.0,68.1 599.0,68.1 600.0,68.1 601.0,68.1 602.0,68.0 603.0,68.0 604.0,68.0 605.0,68.0 606.0,68.0 607.0,68.0 607.0,92.5 606.0,92.5 605.0,92.5 604.0,92.5 603.0,92.5 602.0,92.5 601.0,92.4 600.0,92.4 599.0,92.4 598.0,92.4 597.0,92.4 596.0,92.4 595.0,92.4 594.0,92.4 593.0,92.4 592.0,92.4 591.0,92.4 590.0,92.4 589.0,92.4 588.0,92.3 587.0,92.3 586.0,92.3 585.0,92.3 584.0,92.3 583.0,92.3 582.0,92.3 581.0,92.3 580.0,92.3 579.0,92.3 578.0,92.3 577.0,92.3 576.0,92.2 575.0,92.2 574.0,92.2 573.0,92.2 572.0,92.2 571.0,92.2 570.0,92.2 569.0,92.2 568.0,92.2 567.0,92.2 566.0,92.2 565.0,92.2 564.0,92.2 563.0,92.1 562.0,92.1 561.0,92.1 560.0,92.1 559.0,92.1 558.0,92.1 557.0,92.1 556.0,92.1 555.0,92.1 554.0,92.1 553.0,92.1 552.0,92.1 551.0,92.0 550.0,92.0 549.0,92.0 548.0,92.0 547.0,92.0 546.0,92.0 545.0,92.0 544.0,91.7 543.0,91.4 542.0,91.1 541.0,90.8 540.0,90.5 539.0,90.2 538.0,89.9 537.0,89.6 536.0,89.3 535.0,89.0 534.0,89.0 533.0,89.0 532.0,89.0 531.0,89.0 530.0,89.0 529.0,89.0 528.0,89.0 527.0,89.0 526.0,89.0 525.0,89.0 524.0,89.0 523.0,89.0 522.0,89.0 521.0,89.0 520.0,89.0 519.0,89.0 518.0,89.0" fill="#f6d630" opacity="1.0" filter="url(#bl2)"/><polygon points="518.0,77.0 519.0,77.0 520.0,77.0 521.0,77.0 522.0,77.0 523.0,77.0 524.0,77.0 525.0,77.0 526.0,77.0 527.0,77.0 528.0,77.0 529.0,77.0 530.0,77.0 531.0,77.0 532.0,77.0 533.0,77.0 534.0,77.0 535.0,77.0 536.0,77.0 537.0,77.0 538.0,77.1 539.0,77.1 540.0,77.1 541.0,77.1 542.0,77.1 543.0,77.2 544.0,77.2 545.0,77.2 546.0,77.2 547.0,77.2 548.0,77.3 549.0,77.3 550.0,77.3 551.0,77.3 552.0,77.3 553.0,77.4 554.0,77.4 555.0,77.4 556.0,77.4 557.0,77.4 558.0,77.5 559.0,77.5 560.0,77.5 561.0,77.5 562.0,77.5 563.0,77.5 564.0,77.5 565.0,77.5 566.0,77.5 567.0,77.5 568.0,77.5 569.0,77.5 570.0,77.5 571.0,77.5 572.0,77.5 573.0,77.5 574.0,77.5 575.0,77.5 576.0,77.5 577.0,77.5 578.0,77.5 579.0,77.5 580.0,77.5 581.0,77.5 582.0,77.5 583.0,77.5 584.0,77.5 585.0,77.5 586.0,77.5 587.0,77.5 588.0,77.5 589.0,77.5 590.0,77.5 591.0,77.5 592.0,77.5 593.0,77.5 594.0,77.5 595.0,77.5 596.0,77.5 597.0,77.5 598.0,77.5 599.0,77.5 600.0,77.5 601.0,77.5 602.0,77.5 603.0,77.5 604.0,77.5 605.0,77.5 606.0,77.5 607.0,77.5 607.0,87.0 606.0,87.0 605.0,86.9 604.0,86.9 603.0,86.9 602.0,86.9 601.0,86.9 600.0,86.8 599.0,86.8 598.0,86.8 597.0,86.8 596.0,86.8 595.0,86.7 594.0,86.7 593.0,86.7 592.0,86.7 591.0,86.7 590.0,86.6 589.0,86.6 588.0,86.6 587.0,86.6 586.0,86.5 585.0,86.5 584.0,86.5 583.0,86.5 582.0,86.5 581.0,86.4 580.0,86.4 579.0,86.4 578.0,86.4 577.0,86.4 576.0,86.3 575.0,86.3 574.0,86.3 573.0,86.3 572.0,86.3 571.0,86.2 570.0,86.2 569.0,86.2 568.0,86.2 567.0,86.1 566.0,86.1 565.0,86.1 564.0,86.1 563.0,86.1 562.0,86.0 561.0,86.0 560.0,86.0 559.0,85.9 558.0,85.8 557.0,85.8 556.0,85.7 555.0,85.6 554.0,85.5 553.0,85.4 552.0,85.4 551.0,85.3 550.0,85.2 549.0,85.1 548.0,85.0 547.0,85.0 546.0,84.9 545.0,84.8 544.0,84.7 543.0,84.6 542.0,84.6 541.0,84.5 540.0,84.4 539.0,84.3 538.0,84.2 537.0,84.2 536.0,84.1 535.0,84.0 534.0,84.0 533.0,84.0 532.0,84.0 531.0,84.0 530.0,84.0 529.0,84.0 528.0,84.0 527.0,84.0 526.0,84.0 525.0,84.0 524.0,84.0 523.0,84.0 522.0,84.0 521.0,84.0 520.0,84.0 519.0,84.0 518.0,84.0" fill="#f0bc3a" opacity="0.6" filter="url(#bl2)"/><rect x="522.0" y="40.6" width="2.4" height="81.4" fill="#8cc67a" opacity="0.85"/><g filter="url(#bl)"><polygon points="543,121.5 547,118.6 556,117.8 570,117.6 585,117.8 595,116.8 604,116 604,123 543,123" fill="#fff"/><polyline points="552,121 570,120.8 590,121 603,120" fill="none" stroke="#4a58d8" stroke-width="0.6" opacity="0.7"/></g><polyline points="522.0,81.4 527.0,80.8 533.0,80.2 539.0,75.9 545.0,78.9 551.0,75.9 557.0,76.5 563.0,77.1 575.0,77.1 585.0,75.9 604.0,75.9" fill="none" stroke="#ff1006" stroke-width="1.35" stroke-linejoin="round"/><text x="561.8" y="52.4" font-size="11" text-anchor="middle">5 MeV</text>
</g>
<rect x="522.00" y="40.60" width="81.60" height="81.40" fill="none" stroke="#000" stroke-width="1.3"/>
<line x1="540.20" y1="40.60" x2="540.20" y2="42.60" stroke="#000" stroke-width="1"/>
<line x1="540.20" y1="122.00" x2="540.20" y2="120.00" stroke="#000" stroke-width="1"/>
<line x1="560.25" y1="40.60" x2="560.25" y2="42.60" stroke="#000" stroke-width="1"/>
<line x1="560.25" y1="122.00" x2="560.25" y2="120.00" stroke="#000" stroke-width="1"/>
<line x1="580.30" y1="40.60" x2="580.30" y2="42.60" stroke="#000" stroke-width="1"/>
<line x1="580.30" y1="122.00" x2="580.30" y2="120.00" stroke="#000" stroke-width="1"/>
<line x1="600.35" y1="40.60" x2="600.35" y2="42.60" stroke="#000" stroke-width="1"/>
<line x1="600.35" y1="122.00" x2="600.35" y2="120.00" stroke="#000" stroke-width="1"/>
<line x1="522.00" y1="53.89" x2="524.00" y2="53.89" stroke="#000" stroke-width="1"/>
<line x1="603.60" y1="53.89" x2="601.60" y2="53.89" stroke="#000" stroke-width="1"/>
<text x="517.60" y="58.49" font-size="11" text-anchor="end" >20</text>
<line x1="522.00" y1="81.30" x2="524.00" y2="81.30" stroke="#000" stroke-width="1"/>
<line x1="603.60" y1="81.30" x2="601.60" y2="81.30" stroke="#000" stroke-width="1"/>
<text x="517.60" y="85.90" font-size="11" text-anchor="end" >0</text>
<line x1="522.00" y1="108.71" x2="524.00" y2="108.71" stroke="#000" stroke-width="1"/>
<line x1="603.60" y1="108.71" x2="601.60" y2="108.71" stroke="#000" stroke-width="1"/>
<text x="517.60" y="113.31" font-size="11" text-anchor="end" >-20</text>
<text x="527.00" y="115.10" font-size="11" text-anchor="start" >(e)</text>
<text x="0" y="0" font-size="11" text-anchor="middle" style="stroke-width:0.15px" transform="translate(501.60,83.30) rotate(-90)">θ (°)</text>
<g clip-path="url(#cp41)">
<rect x="522.0" y="136.9" width="81.6" height="81.6" fill="#2cb1b0"/><ellipse cx="526" cy="141" rx="9" ry="7" fill="#3a90e0" opacity="0.8" filter="url(#bl3)"/><ellipse cx="530" cy="210" rx="12" ry="9" fill="#2ba6c8" opacity="0.5" filter="url(#bl3)"/><ellipse cx="586.5" cy="142" rx="3.5" ry="9" fill="#3a7ae2" opacity="0.95" filter="url(#bl2)"/><ellipse cx="585.5" cy="214" rx="4.5" ry="9" fill="#3a70e0" opacity="0.95" filter="url(#bl2)"/><ellipse cx="545" cy="150" rx="14" ry="6" fill="#5cbc96" opacity="0.55" filter="url(#bl3)"/><ellipse cx="570" cy="150" rx="12" ry="6" fill="#6cbe8c" opacity="0.5" filter="url(#bl3)"/><ellipse cx="560" cy="205" rx="18" ry="6" fill="#5cbc96" opacity="0.5" filter="url(#bl3)"/><polygon points="518.0,164.0 519.0,163.8 520.0,163.6 521.0,163.5 522.0,163.3 523.0,163.1 524.0,162.9 525.0,162.7 526.0,162.5 527.0,162.4 528.0,162.2 529.0,162.0 530.0,161.8 531.0,161.6 532.0,161.5 533.0,161.3 534.0,161.1 535.0,160.9 536.0,160.7 537.0,160.5 538.0,160.4 539.0,160.2 540.0,160.0 541.0,159.7 542.0,159.4 543.0,159.1 544.0,158.8 545.0,158.5 546.0,158.2 547.0,157.9 548.0,157.6 549.0,157.3 550.0,157.0 551.0,156.7 552.0,156.4 553.0,156.1 554.0,155.8 555.0,155.5 556.0,155.2 557.0,154.9 558.0,154.6 559.0,154.3 560.0,154.0 561.0,154.0 562.0,154.0 563.0,154.0 564.0,154.0 565.0,154.0 566.0,154.0 567.0,154.0 568.0,154.0 569.0,154.0 570.0,154.0 571.0,154.0 572.0,154.0 573.0,154.0 574.0,154.0 575.0,154.0 576.0,154.0 577.0,154.0 578.0,154.0 579.0,154.0 580.0,154.0 581.0,154.0 582.0,154.0 583.0,154.0 584.0,153.1 585.0,152.3 586.0,151.4 587.0,150.6 588.0,149.7 589.0,148.9 590.0,148.0 591.0,147.9 592.0,147.8 593.0,147.7 594.0,147.5 595.0,147.4 596.0,147.3 597.0,147.2 598.0,147.1 599.0,147.0 600.0,146.9 601.0,146.8 602.0,146.6 603.0,146.5 604.0,146.4 605.0,146.3 606.0,146.2 607.0,146.1 607.0,215.9 606.0,215.8 605.0,215.7 604.0,215.6 603.0,215.5 602.0,215.4 601.0,215.2 600.0,215.1 599.0,215.0 598.0,214.9 597.0,214.8 596.0,214.7 595.0,214.6 594.0,214.5 593.0,214.3 592.0,214.2 591.0,214.1 590.0,214.0 589.0,211.7 588.0,209.4 587.0,207.1 586.0,204.9 585.0,202.6 584.0,200.3 583.0,198.0 582.0,198.0 581.0,198.1 580.0,198.1 579.0,198.2 578.0,198.2 577.0,198.3 576.0,198.3 575.0,198.3 574.0,198.4 573.0,198.4 572.0,198.5 571.0,198.5 570.0,198.6 569.0,198.6 568.0,198.7 567.0,198.7 566.0,198.7 565.0,198.8 564.0,198.8 563.0,198.9 562.0,198.9 561.0,199.0 560.0,199.0 559.0,198.8 558.0,198.7 557.0,198.6 556.0,198.4 555.0,198.2 554.0,198.1 553.0,197.9 552.0,197.8 551.0,197.7 550.0,197.5 549.0,197.3 548.0,197.2 547.0,197.1 546.0,196.9 545.0,196.8 544.0,196.6 543.0,196.4 542.0,196.3 541.0,196.2 540.0,196.0 539.0,195.7 538.0,195.5 537.0,195.2 536.0,194.9 535.0,194.6 534.0,194.4 533.0,194.1 532.0,193.8 531.0,193.5 530.0,193.3 529.0,193.0 528.0,192.7 527.0,192.5 526.0,192.2 525.0,191.9 524.0,191.6 523.0,191.4 522.0,191.1 521.0,190.8 520.0,190.5 519.0,190.3 518.0,190.0" fill="#a6c464" opacity="0.9" filter="url(#bl3)"/><polygon points="518.0,167.0 519.0,166.9 520.0,166.8 521.0,166.7 522.0,166.5 523.0,166.4 524.0,166.3 525.0,166.2 526.0,166.1 527.0,166.0 528.0,165.9 529.0,165.8 530.0,165.6 531.0,165.5 532.0,165.4 533.0,165.3 534.0,165.2 535.0,165.1 536.0,165.0 537.0,164.8 538.0,164.7 539.0,164.6 540.0,164.5 541.0,164.3 542.0,164.2 543.0,164.0 544.0,163.8 545.0,163.6 546.0,163.4 547.0,163.3 548.0,163.1 549.0,162.9 550.0,162.8 551.0,162.6 552.0,162.4 553.0,162.2 554.0,162.1 555.0,161.9 556.0,161.7 557.0,161.5 558.0,161.3 559.0,161.2 560.0,161.0 561.0,161.0 562.0,161.0 563.0,161.0 564.0,161.0 565.0,161.0 566.0,161.0 567.0,161.0 568.0,161.0 569.0,161.0 570.0,161.0 571.0,161.0 572.0,161.0 573.0,161.0 574.0,161.0 575.0,161.0 576.0,161.0 577.0,161.0 578.0,161.0 579.0,161.0 580.0,161.0 581.0,161.0 582.0,161.0 583.0,161.0 584.0,160.0 585.0,159.0 586.0,158.0 587.0,157.0 588.0,156.0 589.0,155.0 590.0,154.0 591.0,153.9 592.0,153.9 593.0,153.8 594.0,153.8 595.0,153.7 596.0,153.7 597.0,153.6 598.0,153.5 599.0,153.5 600.0,153.4 601.0,153.4 602.0,153.3 603.0,153.3 604.0,153.2 605.0,153.1 606.0,153.1 607.0,153.0 607.0,207.9 606.0,207.8 605.0,207.7 604.0,207.6 603.0,207.5 602.0,207.4 601.0,207.2 600.0,207.1 599.0,207.0 598.0,206.9 597.0,206.8 596.0,206.7 595.0,206.6 594.0,206.5 593.0,206.3 592.0,206.2 591.0,206.1 590.0,206.0 589.0,203.9 588.0,201.7 587.0,199.6 586.0,197.4 585.0,195.3 584.0,193.1 583.0,191.0 582.0,191.0 581.0,191.1 580.0,191.1 579.0,191.2 578.0,191.2 577.0,191.3 576.0,191.3 575.0,191.3 574.0,191.4 573.0,191.4 572.0,191.5 571.0,191.5 570.0,191.6 569.0,191.6 568.0,191.7 567.0,191.7 566.0,191.7 565.0,191.8 564.0,191.8 563.0,191.9 562.0,191.9 561.0,192.0 560.0,192.0 559.0,191.9 558.0,191.8 557.0,191.7 556.0,191.6 555.0,191.5 554.0,191.4 553.0,191.3 552.0,191.2 551.0,191.1 550.0,191.0 549.0,190.9 548.0,190.8 547.0,190.7 546.0,190.6 545.0,190.5 544.0,190.4 543.0,190.3 542.0,190.2 541.0,190.1 540.0,190.0 539.0,189.8 538.0,189.6 537.0,189.5 536.0,189.3 535.0,189.1 534.0,188.9 533.0,188.7 532.0,188.5 531.0,188.4 530.0,188.2 529.0,188.0 528.0,187.8 527.0,187.6 526.0,187.5 525.0,187.3 524.0,187.1 523.0,186.9 522.0,186.7 521.0,186.5 520.0,186.4 519.0,186.2 518.0,186.0" fill="#eec23e" opacity="1.0" filter="url(#bl2)"/><polygon points="518.0,171.0 519.0,170.9 520.0,170.7 521.0,170.6 522.0,170.5 523.0,170.3 524.0,170.2 525.0,170.0 526.0,169.9 527.0,169.8 528.0,169.6 529.0,169.5 530.0,169.4 531.0,169.2 532.0,169.1 533.0,169.0 534.0,168.8 535.0,168.7 536.0,168.5 537.0,168.4 538.0,168.3 539.0,168.1 540.0,168.0 541.0,167.8 542.0,167.7 543.0,167.6 544.0,167.4 545.0,167.2 546.0,167.1 547.0,166.9 548.0,166.8 549.0,166.7 550.0,166.5 551.0,166.3 552.0,166.2 553.0,166.1 554.0,165.9 555.0,165.8 556.0,165.6 557.0,165.4 558.0,165.3 559.0,165.2 560.0,165.0 561.0,165.0 562.0,165.1 563.0,165.1 564.0,165.2 565.0,165.2 566.0,165.3 567.0,165.3 568.0,165.3 569.0,165.4 570.0,165.4 571.0,165.5 572.0,165.5 573.0,165.6 574.0,165.6 575.0,165.7 576.0,165.7 577.0,165.7 578.0,165.8 579.0,165.8 580.0,165.9 581.0,165.9 582.0,166.0 583.0,166.0 584.0,165.1 585.0,164.3 586.0,163.4 587.0,162.6 588.0,161.7 589.0,160.9 590.0,160.0 591.0,160.0 592.0,160.0 593.0,160.0 594.0,160.0 595.0,160.0 596.0,160.0 597.0,160.0 598.0,160.0 599.0,160.0 600.0,160.0 601.0,160.0 602.0,160.0 603.0,160.0 604.0,160.0 605.0,160.0 606.0,160.0 607.0,160.0 607.0,197.9 606.0,197.8 605.0,197.7 604.0,197.6 603.0,197.5 602.0,197.4 601.0,197.2 600.0,197.1 599.0,197.0 598.0,196.9 597.0,196.8 596.0,196.7 595.0,196.6 594.0,196.5 593.0,196.3 592.0,196.2 591.0,196.1 590.0,196.0 589.0,194.3 588.0,192.6 587.0,190.9 586.0,189.1 585.0,187.4 584.0,185.7 583.0,184.0 582.0,184.1 581.0,184.2 580.0,184.3 579.0,184.3 578.0,184.4 577.0,184.5 576.0,184.6 575.0,184.7 574.0,184.8 573.0,184.9 572.0,185.0 571.0,185.0 570.0,185.1 569.0,185.2 568.0,185.3 567.0,185.4 566.0,185.5 565.0,185.6 564.0,185.7 563.0,185.7 562.0,185.8 561.0,185.9 560.0,186.0 559.0,185.8 558.0,185.7 557.0,185.6 556.0,185.4 555.0,185.2 554.0,185.1 553.0,184.9 552.0,184.8 551.0,184.7 550.0,184.5 549.0,184.3 548.0,184.2 547.0,184.1 546.0,183.9 545.0,183.8 544.0,183.6 543.0,183.4 542.0,183.3 541.0,183.2 540.0,183.0 539.0,183.0 538.0,182.9 537.0,182.9 536.0,182.8 535.0,182.8 534.0,182.7 533.0,182.7 532.0,182.6 531.0,182.6 530.0,182.5 529.0,182.5 528.0,182.5 527.0,182.4 526.0,182.4 525.0,182.3 524.0,182.3 523.0,182.2 522.0,182.2 521.0,182.1 520.0,182.1 519.0,182.0 518.0,182.0" fill="#f6d42c" opacity="1.0" filter="url(#bl2)"/><polygon points="518.0,175.0 519.0,174.9 520.0,174.7 521.0,174.6 522.0,174.5 523.0,174.3 524.0,174.2 525.0,174.0 526.0,173.9 527.0,173.8 528.0,173.6 529.0,173.5 530.0,173.4 531.0,173.2 532.0,173.1 533.0,173.0 534.0,172.8 535.0,172.7 536.0,172.5 537.0,172.4 538.0,172.3 539.0,172.1 540.0,172.0 541.0,171.9 542.0,171.8 543.0,171.7 544.0,171.6 545.0,171.5 546.0,171.4 547.0,171.3 548.0,171.2 549.0,171.1 550.0,171.0 551.0,170.9 552.0,170.8 553.0,170.7 554.0,170.6 555.0,170.5 556.0,170.4 557.0,170.3 558.0,170.2 559.0,170.1 560.0,170.0 561.0,170.0 562.0,170.1 563.0,170.1 564.0,170.2 565.0,170.2 566.0,170.3 567.0,170.3 568.0,170.3 569.0,170.4 570.0,170.4 571.0,170.5 572.0,170.5 573.0,170.6 574.0,170.6 575.0,170.7 576.0,170.7 577.0,170.7 578.0,170.8 579.0,170.8 580.0,170.9 581.0,170.9 582.0,171.0 583.0,171.0 584.0,170.1 585.0,169.3 586.0,168.4 587.0,167.6 588.0,166.7 589.0,165.9 590.0,165.0 591.0,165.0 592.0,165.0 593.0,165.0 594.0,165.0 595.0,165.0 596.0,165.0 597.0,165.0 598.0,165.0 599.0,165.0 600.0,165.0 601.0,165.0 602.0,165.0 603.0,165.0 604.0,165.0 605.0,165.0 606.0,165.0 607.0,165.0 607.0,172.0 606.0,172.0 605.0,172.0 604.0,172.0 603.0,172.0 602.0,172.0 601.0,172.0 600.0,172.0 599.0,172.0 598.0,172.0 597.0,172.0 596.0,172.0 595.0,172.0 594.0,172.0 593.0,172.0 592.0,172.0 591.0,172.0 590.0,172.0 589.0,172.6 588.0,173.1 587.0,173.7 586.0,174.3 585.0,174.9 584.0,175.4 583.0,176.0 582.0,176.0 581.0,176.0 580.0,176.0 579.0,176.0 578.0,176.0 577.0,176.0 576.0,176.0 575.0,176.0 574.0,176.0 573.0,176.0 572.0,176.0 571.0,176.0 570.0,176.0 569.0,176.0 568.0,176.0 567.0,176.0 566.0,176.0 565.0,176.0 564.0,176.0 563.0,176.0 562.0,176.0 561.0,176.0 560.0,176.0 559.0,176.1 558.0,176.2 557.0,176.3 556.0,176.4 555.0,176.5 554.0,176.6 553.0,176.7 552.0,176.8 551.0,176.9 550.0,177.0 549.0,177.1 548.0,177.2 547.0,177.3 546.0,177.4 545.0,177.5 544.0,177.6 543.0,177.7 542.0,177.8 541.0,177.9 540.0,178.0 539.0,178.1 538.0,178.2 537.0,178.3 536.0,178.4 535.0,178.5 534.0,178.5 533.0,178.6 532.0,178.7 531.0,178.8 530.0,178.9 529.0,179.0 528.0,179.1 527.0,179.2 526.0,179.3 525.0,179.4 524.0,179.5 523.0,179.5 522.0,179.6 521.0,179.7 520.0,179.8 519.0,179.9 518.0,180.0" fill="#f8e020" opacity="0.8" filter="url(#bl2)"/><rect x="522.0" y="136.9" width="2.4" height="81.6" fill="#8cc67a" opacity="0.6"/><polyline points="522.0,177.2 530.0,176.6 540.0,174.7 548.0,172.3 550.0,170.5 555.0,169.3 563.0,170.5 575.0,171.7 580.0,172.3 583.0,171.1 590.0,163.8 604.0,163.2" fill="none" stroke="#ff1006" stroke-width="1.35" stroke-linejoin="round"/><text x="561.8" y="148.7" font-size="11" text-anchor="middle">5 MeV</text><line x1="589.5" y1="136.9" x2="589.5" y2="218.5" stroke="#111" stroke-width="1.2" stroke-dasharray="3.5,1.7"/>
</g>
<rect x="522.00" y="136.90" width="81.60" height="81.60" fill="none" stroke="#000" stroke-width="1.3"/>
<line x1="540.20" y1="136.90" x2="540.20" y2="138.90" stroke="#000" stroke-width="1"/>
<line x1="540.20" y1="218.50" x2="540.20" y2="216.50" stroke="#000" stroke-width="1"/>
<line x1="560.25" y1="136.90" x2="560.25" y2="138.90" stroke="#000" stroke-width="1"/>
<line x1="560.25" y1="218.50" x2="560.25" y2="216.50" stroke="#000" stroke-width="1"/>
<line x1="580.30" y1="136.90" x2="580.30" y2="138.90" stroke="#000" stroke-width="1"/>
<line x1="580.30" y1="218.50" x2="580.30" y2="216.50" stroke="#000" stroke-width="1"/>
<line x1="600.35" y1="136.90" x2="600.35" y2="138.90" stroke="#000" stroke-width="1"/>
<line x1="600.35" y1="218.50" x2="600.35" y2="216.50" stroke="#000" stroke-width="1"/>
<line x1="522.00" y1="150.23" x2="524.00" y2="150.23" stroke="#000" stroke-width="1"/>
<line x1="603.60" y1="150.23" x2="601.60" y2="150.23" stroke="#000" stroke-width="1"/>
<text x="517.60" y="154.83" font-size="11" text-anchor="end" >20</text>
<line x1="522.00" y1="177.70" x2="524.00" y2="177.70" stroke="#000" stroke-width="1"/>
<line x1="603.60" y1="177.70" x2="601.60" y2="177.70" stroke="#000" stroke-width="1"/>
<text x="517.60" y="182.30" font-size="11" text-anchor="end" >0</text>
<line x1="522.00" y1="205.17" x2="524.00" y2="205.17" stroke="#000" stroke-width="1"/>
<line x1="603.60" y1="205.17" x2="601.60" y2="205.17" stroke="#000" stroke-width="1"/>
<text x="517.60" y="209.77" font-size="11" text-anchor="end" >-20</text>
<text x="527.00" y="211.60" font-size="11" text-anchor="start" >(j)</text>
<text x="0" y="0" font-size="11" text-anchor="middle" style="stroke-width:0.15px" transform="translate(501.60,179.70) rotate(-90)">θ (°)</text>
<g clip-path="url(#cp42)">
<rect x="522.0" y="232.4" width="81.6" height="80.9" fill="#28b0b8"/><polygon points="518.0,248.0 519.0,248.0 520.0,248.0 521.0,248.0 522.0,248.0 523.0,248.0 524.0,248.0 525.0,248.0 526.0,248.0 527.0,248.0 528.0,248.0 529.0,248.0 530.0,248.0 531.0,248.0 532.0,248.0 533.0,248.0 534.0,248.0 535.0,248.0 536.0,248.0 537.0,248.0 538.0,248.0 539.0,248.0 540.0,248.0 541.0,248.0 542.0,248.0 543.0,248.0 544.0,248.0 545.0,248.0 546.0,248.0 547.0,248.0 548.0,248.0 549.0,248.0 550.0,248.0 551.0,248.0 552.0,248.0 553.0,248.0 554.0,248.0 555.0,248.0 556.0,248.0 557.0,248.0 558.0,248.0 559.0,248.0 560.0,248.0 561.0,248.0 562.0,248.0 563.0,248.0 564.0,248.0 565.0,248.0 566.0,248.0 567.0,248.0 568.0,248.0 569.0,248.0 570.0,248.0 571.0,248.0 572.0,248.0 573.0,248.0 574.0,248.0 575.0,248.0 576.0,248.0 577.0,248.0 578.0,248.0 579.0,248.0 580.0,248.0 581.0,248.0 582.0,248.0 583.0,248.0 584.0,248.0 585.0,248.0 586.0,248.0 587.0,248.0 588.0,248.0 589.0,248.0 590.0,248.0 591.0,248.0 592.0,248.0 593.0,248.0 594.0,248.0 595.0,248.0 596.0,248.0 597.0,248.0 598.0,248.0 599.0,248.0 600.0,248.0 601.0,248.0 602.0,248.0 603.0,248.0 604.0,248.0 605.0,248.0 606.0,248.0 607.0,248.0 607.0,298.0 606.0,298.0 605.0,298.0 604.0,298.0 603.0,298.0 602.0,298.0 601.0,298.0 600.0,298.0 599.0,298.0 598.0,298.0 597.0,298.0 596.0,298.0 595.0,298.0 594.0,298.0 593.0,298.0 592.0,298.0 591.0,298.0 590.0,298.0 589.0,298.0 588.0,298.0 587.0,298.0 586.0,298.0 585.0,298.0 584.0,298.0 583.0,298.0 582.0,298.0 581.0,298.0 580.0,298.0 579.0,298.0 578.0,298.0 577.0,298.0 576.0,298.0 575.0,298.0 574.0,298.0 573.0,298.0 572.0,298.0 571.0,298.0 570.0,298.0 569.0,298.0 568.0,298.0 567.0,298.0 566.0,298.0 565.0,298.0 564.0,298.0 563.0,298.0 562.0,298.0 561.0,298.0 560.0,298.0 559.0,298.0 558.0,298.0 557.0,298.0 556.0,298.0 555.0,298.0 554.0,298.0 553.0,298.0 552.0,298.0 551.0,298.0 550.0,298.0 549.0,298.0 548.0,298.0 547.0,298.0 546.0,298.0 545.0,298.0 544.0,298.0 543.0,298.0 542.0,298.0 541.0,298.0 540.0,298.0 539.0,298.0 538.0,298.0 537.0,298.0 536.0,298.0 535.0,298.0 534.0,298.0 533.0,298.0 532.0,298.0 531.0,298.0 530.0,298.0 529.0,298.0 528.0,298.0 527.0,298.0 526.0,298.0 525.0,298.0 524.0,298.0 523.0,298.0 522.0,298.0 521.0,298.0 520.0,298.0 519.0,298.0 518.0,298.0" fill="#4cb8a0" opacity="0.8" filter="url(#bl3)"/><polygon points="578.0,232.4 579.0,232.4 580.0,232.4 581.0,232.4 582.0,232.4 583.0,232.4 584.0,232.4 585.0,232.4 586.0,232.4 587.0,232.4 588.0,232.4 589.0,232.4 590.0,232.4 591.0,232.4 592.0,232.4 593.0,232.4 594.0,232.4 595.0,232.4 596.0,232.4 597.0,232.4 598.0,232.4 599.0,232.4 600.0,232.4 601.0,232.4 602.0,232.4 603.0,232.4 604.0,232.4 605.0,232.4 606.0,232.4 607.0,232.4 607.0,253.3 606.0,253.2 605.0,253.1 604.0,253.0 603.0,252.9 602.0,252.8 601.0,252.7 600.0,252.5 599.0,252.4 598.0,252.3 597.0,252.2 596.0,252.1 595.0,252.0 594.0,251.9 593.0,251.7 592.0,251.6 591.0,251.5 590.0,251.4 589.0,250.1 588.0,248.8 587.0,247.5 586.0,246.2 585.0,244.9 584.0,243.6 583.0,242.3 582.0,241.0 581.0,239.7 580.0,238.4 579.0,238.4 578.0,238.4" fill="#3a80e0" opacity="0.85" filter="url(#bl3)"/><ellipse cx="588" cy="240" rx="6" ry="7" fill="#3a6ee0" opacity="0.8" filter="url(#bl2)"/><polygon points="582.0,293.3 583.0,293.3 584.0,293.3 585.0,292.8 586.0,292.3 587.0,291.8 588.0,291.3 589.0,290.8 590.0,290.3 591.0,290.3 592.0,290.3 593.0,290.3 594.0,290.3 595.0,290.3 596.0,290.3 597.0,290.3 598.0,290.3 599.0,290.3 600.0,290.3 601.0,290.3 602.0,290.3 603.0,290.3 604.0,290.3 605.0,290.3 606.0,290.3 607.0,290.3 607.0,317.3 606.0,317.3 605.0,317.3 604.0,317.3 603.0,317.3 602.0,317.3 601.0,317.3 600.0,317.3 599.0,317.3 598.0,317.3 597.0,317.3 596.0,317.3 595.0,317.3 594.0,317.3 593.0,317.3 592.0,317.3 591.0,317.3 590.0,317.3 589.0,317.3 588.0,317.3 587.0,317.3 586.0,317.3 585.0,317.3 584.0,317.3 583.0,317.3 582.0,317.3" fill="#3a78e0" opacity="0.9" filter="url(#bl3)"/><ellipse cx="598" cy="308" rx="8" ry="6" fill="#3a4ed0" opacity="0.8" filter="url(#bl2)"/><ellipse cx="556" cy="306" rx="8" ry="6" fill="#2a98d8" opacity="0.55" filter="url(#bl3)"/><polygon points="518.0,257.0 519.0,256.8 520.0,256.6 521.0,256.5 522.0,256.3 523.0,256.1 524.0,255.9 525.0,255.7 526.0,255.5 527.0,255.4 528.0,255.2 529.0,255.0 530.0,254.8 531.0,254.6 532.0,254.5 533.0,254.3 534.0,254.1 535.0,253.9 536.0,253.7 537.0,253.5 538.0,253.4 539.0,253.2 540.0,253.0 541.0,252.9 542.0,252.8 543.0,252.7 544.0,252.6 545.0,252.5 546.0,252.4 547.0,252.3 548.0,252.2 549.0,252.1 550.0,252.0 551.0,251.9 552.0,251.8 553.0,251.7 554.0,251.6 555.0,251.5 556.0,251.4 557.0,251.3 558.0,251.2 559.0,251.1 560.0,251.0 561.0,251.0 562.0,251.0 563.0,251.0 564.0,251.0 565.0,251.0 566.0,251.0 567.0,251.0 568.0,251.0 569.0,251.0 570.0,251.0 571.0,251.0 572.0,251.0 573.0,251.0 574.0,251.0 575.0,251.0 576.0,251.0 577.0,251.0 578.0,251.0 579.0,251.0 580.0,251.0 581.0,251.0 582.0,251.0 583.0,251.0 584.0,251.1 585.0,251.3 586.0,251.4 587.0,251.6 588.0,251.7 589.0,251.9 590.0,252.0 591.0,252.1 592.0,252.1 593.0,252.2 594.0,252.2 595.0,252.3 596.0,252.3 597.0,252.4 598.0,252.5 599.0,252.5 600.0,252.6 601.0,252.6 602.0,252.7 603.0,252.7 604.0,252.8 605.0,252.9 606.0,252.9 607.0,253.0 607.0,291.0 606.0,291.1 605.0,291.1 604.0,291.2 603.0,291.3 602.0,291.3 601.0,291.4 600.0,291.4 599.0,291.5 598.0,291.5 597.0,291.6 596.0,291.7 595.0,291.7 594.0,291.8 593.0,291.8 592.0,291.9 591.0,291.9 590.0,292.0 589.0,291.9 588.0,291.7 587.0,291.6 586.0,291.4 585.0,291.3 584.0,291.1 583.0,291.0 582.0,291.0 581.0,291.1 580.0,291.1 579.0,291.2 578.0,291.2 577.0,291.3 576.0,291.3 575.0,291.3 574.0,291.4 573.0,291.4 572.0,291.5 571.0,291.5 570.0,291.6 569.0,291.6 568.0,291.7 567.0,291.7 566.0,291.7 565.0,291.8 564.0,291.8 563.0,291.9 562.0,291.9 561.0,292.0 560.0,292.0 559.0,291.9 558.0,291.9 557.0,291.9 556.0,291.8 555.0,291.8 554.0,291.7 553.0,291.6 552.0,291.6 551.0,291.6 550.0,291.5 549.0,291.4 548.0,291.4 547.0,291.4 546.0,291.3 545.0,291.2 544.0,291.2 543.0,291.1 542.0,291.1 541.0,291.1 540.0,291.0 539.0,290.9 538.0,290.7 537.0,290.6 536.0,290.5 535.0,290.3 534.0,290.2 533.0,290.0 532.0,289.9 531.0,289.8 530.0,289.6 529.0,289.5 528.0,289.4 527.0,289.2 526.0,289.1 525.0,289.0 524.0,288.8 523.0,288.7 522.0,288.5 521.0,288.4 520.0,288.3 519.0,288.1 518.0,288.0" fill="#a4c464" opacity="0.9" filter="url(#bl3)"/><polygon points="518.0,264.0 519.0,263.8 520.0,263.6 521.0,263.5 522.0,263.3 523.0,263.1 524.0,262.9 525.0,262.7 526.0,262.5 527.0,262.4 528.0,262.2 529.0,262.0 530.0,261.8 531.0,261.6 532.0,261.5 533.0,261.3 534.0,261.1 535.0,260.9 536.0,260.7 537.0,260.5 538.0,260.4 539.0,260.2 540.0,260.0 541.0,259.9 542.0,259.9 543.0,259.8 544.0,259.7 545.0,259.6 546.0,259.6 547.0,259.5 548.0,259.4 549.0,259.3 550.0,259.2 551.0,259.2 552.0,259.1 553.0,259.0 554.0,258.9 555.0,258.9 556.0,258.8 557.0,258.7 558.0,258.6 559.0,258.6 560.0,258.5 561.0,258.5 562.0,258.5 563.0,258.6 564.0,258.6 565.0,258.6 566.0,258.6 567.0,258.7 568.0,258.7 569.0,258.7 570.0,258.7 571.0,258.7 572.0,258.8 573.0,258.8 574.0,258.8 575.0,258.8 576.0,258.8 577.0,258.9 578.0,258.9 579.0,258.9 580.0,258.9 581.0,259.0 582.0,259.0 583.0,259.0 584.0,259.1 585.0,259.1 586.0,259.2 587.0,259.3 588.0,259.4 589.0,259.4 590.0,259.5 591.0,259.6 592.0,259.8 593.0,259.9 594.0,260.1 595.0,260.2 596.0,260.4 597.0,260.5 598.0,260.6 599.0,260.8 600.0,260.9 601.0,261.1 602.0,261.2 603.0,261.3 604.0,261.5 605.0,261.6 606.0,261.8 607.0,261.9 607.0,282.1 606.0,282.2 605.0,282.3 604.0,282.4 603.0,282.5 602.0,282.6 601.0,282.8 600.0,282.9 599.0,283.0 598.0,283.1 597.0,283.2 596.0,283.3 595.0,283.4 594.0,283.5 593.0,283.7 592.0,283.8 591.0,283.9 590.0,284.0 589.0,284.1 588.0,284.3 587.0,284.4 586.0,284.6 585.0,284.7 584.0,284.9 583.0,285.0 582.0,285.0 581.0,285.0 580.0,285.0 579.0,285.0 578.0,285.0 577.0,285.0 576.0,285.0 575.0,285.0 574.0,285.0 573.0,285.0 572.0,285.0 571.0,285.0 570.0,285.0 569.0,285.0 568.0,285.0 567.0,285.0 566.0,285.0 565.0,285.0 564.0,285.0 563.0,285.0 562.0,285.0 561.0,285.0 560.0,285.0 559.0,284.9 558.0,284.9 557.0,284.9 556.0,284.8 555.0,284.8 554.0,284.7 553.0,284.6 552.0,284.6 551.0,284.6 550.0,284.5 549.0,284.4 548.0,284.4 547.0,284.4 546.0,284.3 545.0,284.2 544.0,284.2 543.0,284.1 542.0,284.1 541.0,284.1 540.0,284.0 539.0,283.9 538.0,283.7 537.0,283.6 536.0,283.5 535.0,283.3 534.0,283.2 533.0,283.0 532.0,282.9 531.0,282.8 530.0,282.6 529.0,282.5 528.0,282.4 527.0,282.2 526.0,282.1 525.0,282.0 524.0,281.8 523.0,281.7 522.0,281.5 521.0,281.4 520.0,281.3 519.0,281.1 518.0,281.0" fill="#f0c640" opacity="1.0" filter="url(#bl2)"/><polygon points="518.0,267.0 519.0,266.8 520.0,266.6 521.0,266.4 522.0,266.2 523.0,266.0 524.0,265.8 525.0,265.6 526.0,265.4 527.0,265.2 528.0,265.0 529.0,264.8 530.0,264.5 531.0,264.3 532.0,264.1 533.0,263.9 534.0,263.7 535.0,263.5 536.0,263.3 537.0,263.1 538.0,262.9 539.0,262.7 540.0,262.5 541.0,262.4 542.0,262.4 543.0,262.3 544.0,262.2 545.0,262.1 546.0,262.1 547.0,262.0 548.0,261.9 549.0,261.8 550.0,261.8 551.0,261.7 552.0,261.6 553.0,261.5 554.0,261.4 555.0,261.4 556.0,261.3 557.0,261.2 558.0,261.1 559.0,261.1 560.0,261.0 561.0,261.0 562.0,261.0 563.0,261.1 564.0,261.1 565.0,261.1 566.0,261.1 567.0,261.2 568.0,261.2 569.0,261.2 570.0,261.2 571.0,261.2 572.0,261.3 573.0,261.3 574.0,261.3 575.0,261.3 576.0,261.3 577.0,261.4 578.0,261.4 579.0,261.4 580.0,261.4 581.0,261.5 582.0,261.5 583.0,261.5 584.0,261.6 585.0,261.6 586.0,261.7 587.0,261.8 588.0,261.9 589.0,261.9 590.0,262.0 591.0,262.2 592.0,262.3 593.0,262.5 594.0,262.7 595.0,262.9 596.0,263.0 597.0,263.2 598.0,263.4 599.0,263.5 600.0,263.7 601.0,263.9 602.0,264.0 603.0,264.2 604.0,264.4 605.0,264.6 606.0,264.7 607.0,264.9 607.0,279.1 606.0,279.2 605.0,279.3 604.0,279.4 603.0,279.5 602.0,279.6 601.0,279.8 600.0,279.9 599.0,280.0 598.0,280.1 597.0,280.2 596.0,280.3 595.0,280.4 594.0,280.5 593.0,280.7 592.0,280.8 591.0,280.9 590.0,281.0 589.0,281.2 588.0,281.4 587.0,281.6 586.0,281.9 585.0,282.1 584.0,282.3 583.0,282.5 582.0,282.5 581.0,282.5 580.0,282.6 579.0,282.6 578.0,282.6 577.0,282.6 576.0,282.7 575.0,282.7 574.0,282.7 573.0,282.7 572.0,282.7 571.0,282.8 570.0,282.8 569.0,282.8 568.0,282.8 567.0,282.8 566.0,282.9 565.0,282.9 564.0,282.9 563.0,282.9 562.0,283.0 561.0,283.0 560.0,283.0 559.0,282.9 558.0,282.8 557.0,282.7 556.0,282.6 555.0,282.5 554.0,282.4 553.0,282.3 552.0,282.2 551.0,282.1 550.0,282.0 549.0,281.9 548.0,281.8 547.0,281.7 546.0,281.6 545.0,281.5 544.0,281.4 543.0,281.3 542.0,281.2 541.0,281.1 540.0,281.0 539.0,280.9 538.0,280.7 537.0,280.6 536.0,280.5 535.0,280.3 534.0,280.2 533.0,280.0 532.0,279.9 531.0,279.8 530.0,279.6 529.0,279.5 528.0,279.4 527.0,279.2 526.0,279.1 525.0,279.0 524.0,278.8 523.0,278.7 522.0,278.5 521.0,278.4 520.0,278.3 519.0,278.1 518.0,278.0" fill="#f4d83c" opacity="1.0" filter="url(#bl2)"/><polygon points="518.0,270.0 519.0,269.8 520.0,269.6 521.0,269.5 522.0,269.3 523.0,269.1 524.0,268.9 525.0,268.7 526.0,268.5 527.0,268.4 528.0,268.2 529.0,268.0 530.0,267.8 531.0,267.6 532.0,267.5 533.0,267.3 534.0,267.1 535.0,266.9 536.0,266.7 537.0,266.5 538.0,266.4 539.0,266.2 540.0,266.0 541.0,265.9 542.0,265.8 543.0,265.7 544.0,265.6 545.0,265.5 546.0,265.4 547.0,265.3 548.0,265.2 549.0,265.1 550.0,265.0 551.0,264.9 552.0,264.8 553.0,264.7 554.0,264.6 555.0,264.5 556.0,264.4 557.0,264.3 558.0,264.2 559.0,264.1 560.0,264.0 561.0,264.0 562.0,264.1 563.0,264.1 564.0,264.2 565.0,264.2 566.0,264.3 567.0,264.3 568.0,264.3 569.0,264.4 570.0,264.4 571.0,264.5 572.0,264.5 573.0,264.6 574.0,264.6 575.0,264.7 576.0,264.7 577.0,264.7 578.0,264.8 579.0,264.8 580.0,264.9 581.0,264.9 582.0,265.0 583.0,265.0 584.0,265.1 585.0,265.2 586.0,265.4 587.0,265.5 588.0,265.6 589.0,265.7 590.0,265.9 591.0,266.0 592.0,266.1 593.0,266.2 594.0,266.3 595.0,266.5 596.0,266.6 597.0,266.7 598.0,266.8 599.0,267.0 600.0,267.1 601.0,267.2 602.0,267.3 603.0,267.4 604.0,267.6 605.0,267.7 606.0,267.8 607.0,267.9 607.0,276.1 606.0,276.2 605.0,276.3 604.0,276.4 603.0,276.6 602.0,276.7 601.0,276.8 600.0,276.9 599.0,277.0 598.0,277.2 597.0,277.3 596.0,277.4 595.0,277.5 594.0,277.7 593.0,277.8 592.0,277.9 591.0,278.0 590.0,278.1 589.0,278.3 588.0,278.4 587.0,278.5 586.0,278.6 585.0,278.8 584.0,278.9 583.0,279.0 582.0,279.0 581.0,279.1 580.0,279.1 579.0,279.2 578.0,279.2 577.0,279.3 576.0,279.3 575.0,279.3 574.0,279.4 573.0,279.4 572.0,279.5 571.0,279.5 570.0,279.6 569.0,279.6 568.0,279.7 567.0,279.7 566.0,279.7 565.0,279.8 564.0,279.8 563.0,279.9 562.0,279.9 561.0,280.0 560.0,280.0 559.0,279.9 558.0,279.8 557.0,279.7 556.0,279.6 555.0,279.5 554.0,279.4 553.0,279.3 552.0,279.2 551.0,279.1 550.0,279.0 549.0,278.9 548.0,278.8 547.0,278.7 546.0,278.6 545.0,278.5 544.0,278.4 543.0,278.3 542.0,278.2 541.0,278.1 540.0,278.0 539.0,277.9 538.0,277.8 537.0,277.7 536.0,277.6 535.0,277.5 534.0,277.5 533.0,277.4 532.0,277.3 531.0,277.2 530.0,277.1 529.0,277.0 528.0,276.9 527.0,276.8 526.0,276.7 525.0,276.6 524.0,276.5 523.0,276.5 522.0,276.4 521.0,276.3 520.0,276.2 519.0,276.1 518.0,276.0" fill="#f6e244" opacity="0.8" filter="url(#bl2)"/><rect x="522.0" y="232.4" width="2.4" height="80.9" fill="#a0c860" opacity="0.6"/><polyline points="522.0,273.2 530.0,272.6 537.0,270.1 545.0,265.3 550.0,265.9 555.0,268.3 563.0,269.5 575.0,268.9 585.0,269.5 590.0,270.7 600.0,272.6 604.0,273.8" fill="none" stroke="#ff1006" stroke-width="1.35" stroke-linejoin="round"/><text x="561.8" y="244.3" font-size="11" text-anchor="middle">5 MeV</text><line x1="589.5" y1="232.4" x2="589.5" y2="313.3" stroke="#111" stroke-width="1.2" stroke-dasharray="3.5,1.7"/>
</g>
<rect x="522.00" y="232.40" width="81.60" height="80.90" fill="none" stroke="#000" stroke-width="1.3"/>
<line x1="540.20" y1="232.40" x2="540.20" y2="234.40" stroke="#000" stroke-width="1"/>
<line x1="540.20" y1="313.30" x2="540.20" y2="311.30" stroke="#000" stroke-width="1"/>
<line x1="560.25" y1="232.40" x2="560.25" y2="234.40" stroke="#000" stroke-width="1"/>
<line x1="560.25" y1="313.30" x2="560.25" y2="311.30" stroke="#000" stroke-width="1"/>
<line x1="580.30" y1="232.40" x2="580.30" y2="234.40" stroke="#000" stroke-width="1"/>
<line x1="580.30" y1="313.30" x2="580.30" y2="311.30" stroke="#000" stroke-width="1"/>
<line x1="600.35" y1="232.40" x2="600.35" y2="234.40" stroke="#000" stroke-width="1"/>
<line x1="600.35" y1="313.30" x2="600.35" y2="311.30" stroke="#000" stroke-width="1"/>
<line x1="522.00" y1="245.61" x2="524.00" y2="245.61" stroke="#000" stroke-width="1"/>
<line x1="603.60" y1="245.61" x2="601.60" y2="245.61" stroke="#000" stroke-width="1"/>
<text x="517.60" y="250.21" font-size="11" text-anchor="end" >20</text>
<line x1="522.00" y1="272.85" x2="524.00" y2="272.85" stroke="#000" stroke-width="1"/>
<line x1="603.60" y1="272.85" x2="601.60" y2="272.85" stroke="#000" stroke-width="1"/>
<text x="517.60" y="277.45" font-size="11" text-anchor="end" >0</text>
<line x1="522.00" y1="300.09" x2="524.00" y2="300.09" stroke="#000" stroke-width="1"/>
<line x1="603.60" y1="300.09" x2="601.60" y2="300.09" stroke="#000" stroke-width="1"/>
<text x="517.60" y="304.69" font-size="11" text-anchor="end" >-20</text>
<text x="527.00" y="306.40" font-size="11" text-anchor="start" >(o)</text>
<text x="0" y="0" font-size="11" text-anchor="middle" style="stroke-width:0.15px" transform="translate(501.60,274.85) rotate(-90)">θ (°)</text>
<text x="51.90" y="325.30" font-size="11" text-anchor="middle" >0</text>
<text x="70.50" y="325.30" font-size="11" text-anchor="middle" >0.5</text>
<text x="91.30" y="325.30" font-size="11" text-anchor="middle" >1</text>
<text x="110.20" y="325.30" font-size="11" text-anchor="middle" >1.5</text>
<text x="75.10" y="341.60" font-size="11" text-anchor="middle" textLength="46.5" lengthAdjust="spacing">Time (ps)</text>
<text x="174.10" y="325.30" font-size="11" text-anchor="middle" >0</text>
<text x="192.70" y="325.30" font-size="11" text-anchor="middle" >0.5</text>
<text x="213.50" y="325.30" font-size="11" text-anchor="middle" >1</text>
<text x="232.40" y="325.30" font-size="11" text-anchor="middle" >1.5</text>
<text x="197.30" y="341.60" font-size="11" text-anchor="middle" textLength="46.5" lengthAdjust="spacing">Time (ps)</text>
<text x="296.20" y="325.30" font-size="11" text-anchor="middle" >0</text>
<text x="314.80" y="325.30" font-size="11" text-anchor="middle" >0.5</text>
<text x="335.60" y="325.30" font-size="11" text-anchor="middle" >1</text>
<text x="354.50" y="325.30" font-size="11" text-anchor="middle" >1.5</text>
<text x="319.20" y="341.60" font-size="11" text-anchor="middle" textLength="46.5" lengthAdjust="spacing">Time (ps)</text>
<text x="417.90" y="325.30" font-size="11" text-anchor="middle" >0</text>
<text x="436.50" y="325.30" font-size="11" text-anchor="middle" >0.5</text>
<text x="457.30" y="325.30" font-size="11" text-anchor="middle" >1</text>
<text x="476.20" y="325.30" font-size="11" text-anchor="middle" >1.5</text>
<text x="440.40" y="341.60" font-size="11" text-anchor="middle" textLength="46.5" lengthAdjust="spacing">Time (ps)</text>
<text x="539.30" y="325.30" font-size="11" text-anchor="middle" >0</text>
<text x="557.90" y="325.30" font-size="11" text-anchor="middle" >0.5</text>
<text x="578.70" y="325.30" font-size="11" text-anchor="middle" >1</text>
<text x="597.60" y="325.30" font-size="11" text-anchor="middle" >1.5</text>
<text x="561.80" y="341.60" font-size="11" text-anchor="middle" textLength="46.5" lengthAdjust="spacing">Time (ps)</text>
<text x="0" y="0" font-size="11" text-anchor="middle" transform="translate(616.9,81.30) rotate(-90)">Planar</text>
<text x="0" y="0" font-size="11" text-anchor="middle" transform="translate(616.9,177.70) rotate(-90)">Closed cone</text>
<text x="0" y="0" font-size="11" text-anchor="middle" transform="translate(616.9,272.85) rotate(-90)">Open cone</text>
</svg></body></html>
